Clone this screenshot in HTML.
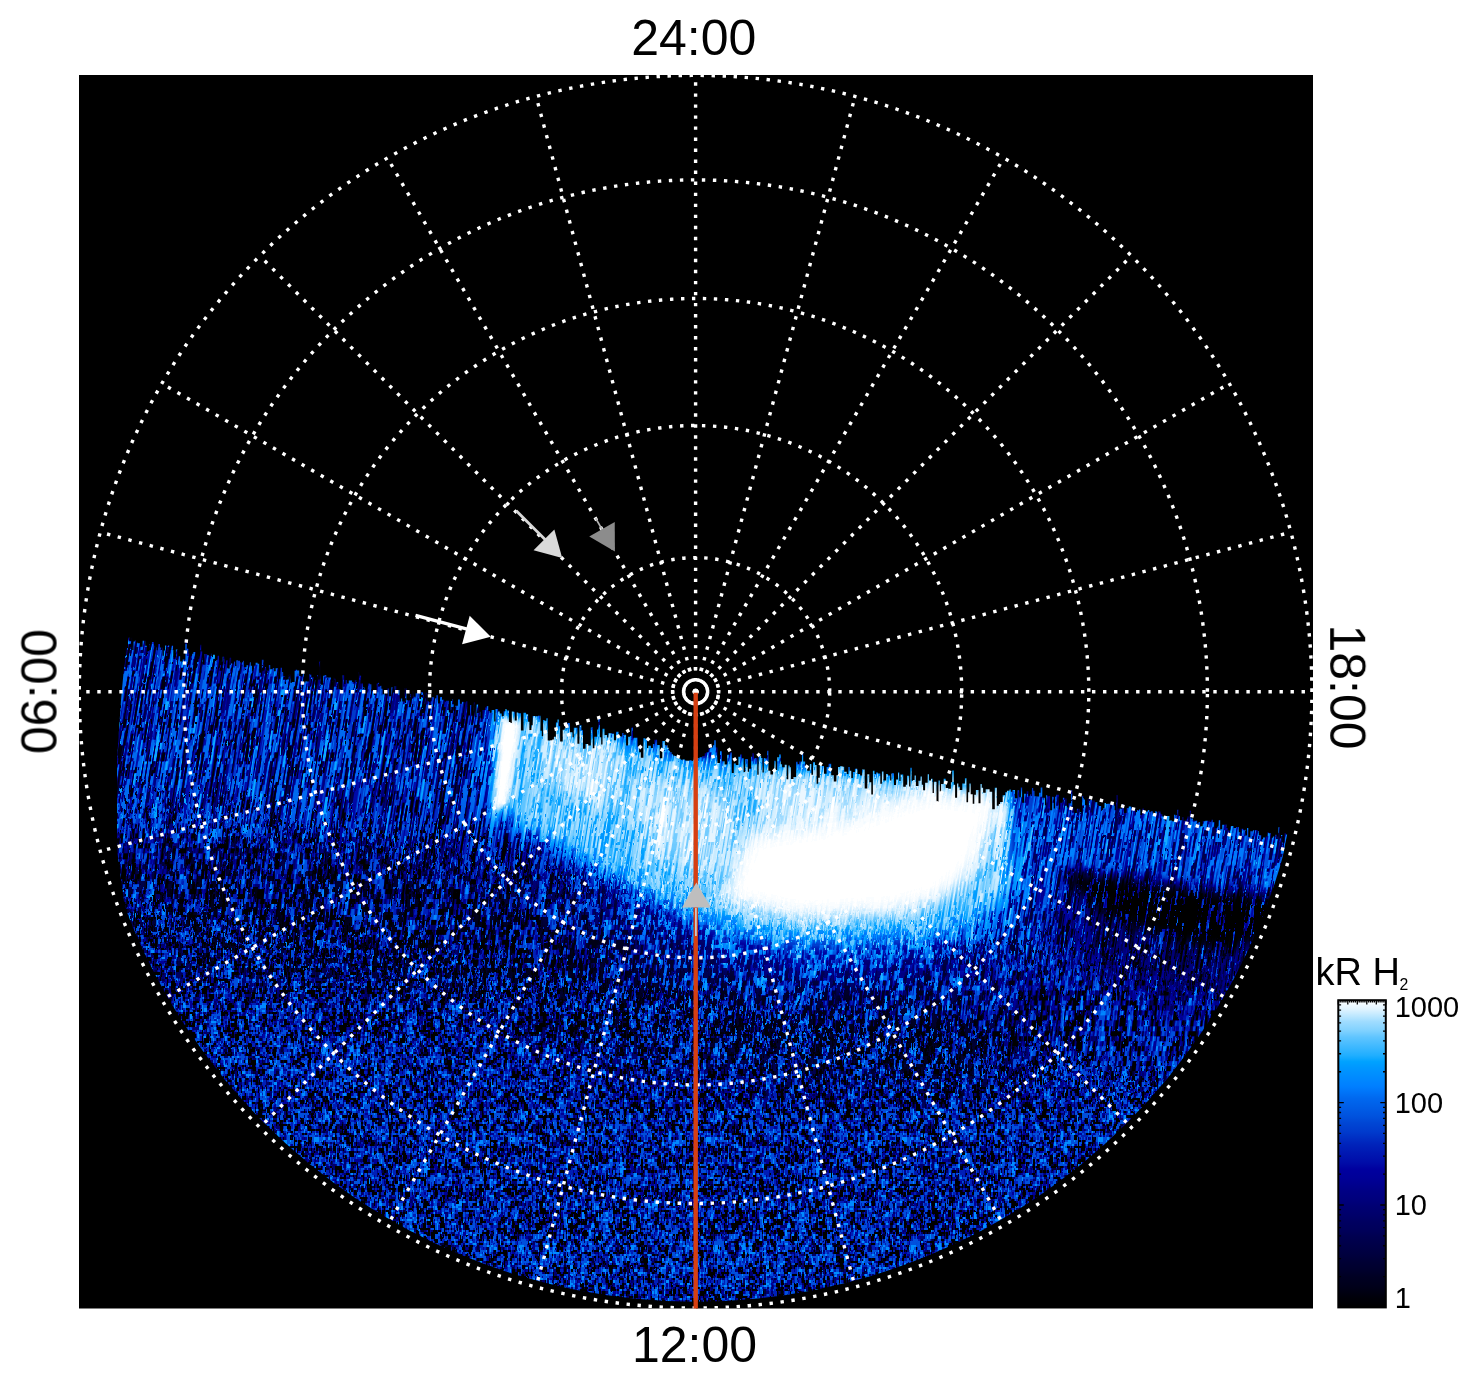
<!DOCTYPE html>
<html lang="en"><head><meta charset="utf-8"><title>Polar projection</title>
<style>html,body{margin:0;padding:0;background:#fff}svg{display:block}text{font-family:"Liberation Sans",Arial,Helvetica,sans-serif;fill:#000}</style>
</head><body>
<svg width="1480" height="1384" viewBox="0 0 1480 1384">
<defs>
<clipPath id="box"><rect x="79" y="75" width="1234" height="1233.5"/></clipPath>
<linearGradient id="cb" x1="0" y1="1" x2="0" y2="0"><stop offset="0" stop-color="rgb(0,0,0)"/><stop offset="0.03" stop-color="rgb(0,0,9)"/><stop offset="0.05" stop-color="rgb(0,0,18)"/><stop offset="0.07" stop-color="rgb(0,0,27)"/><stop offset="0.1" stop-color="rgb(0,0,35)"/><stop offset="0.12" stop-color="rgb(0,0,44)"/><stop offset="0.15" stop-color="rgb(0,0,53)"/><stop offset="0.17" stop-color="rgb(0,0,62)"/><stop offset="0.2" stop-color="rgb(0,0,71)"/><stop offset="0.23" stop-color="rgb(0,0,80)"/><stop offset="0.25" stop-color="rgb(0,0,89)"/><stop offset="0.28" stop-color="rgb(0,0,97)"/><stop offset="0.3" stop-color="rgb(0,0,106)"/><stop offset="0.33" stop-color="rgb(0,0,115)"/><stop offset="0.35" stop-color="rgb(0,0,124)"/><stop offset="0.38" stop-color="rgb(0,0,133)"/><stop offset="0.4" stop-color="rgb(0,0,142)"/><stop offset="0.42" stop-color="rgb(0,0,151)"/><stop offset="0.45" stop-color="rgb(0,0,159)"/><stop offset="0.47" stop-color="rgb(0,12,168)"/><stop offset="0.5" stop-color="rgb(0,23,177)"/><stop offset="0.53" stop-color="rgb(0,35,186)"/><stop offset="0.55" stop-color="rgb(0,46,195)"/><stop offset="0.57" stop-color="rgb(0,58,204)"/><stop offset="0.6" stop-color="rgb(0,70,212)"/><stop offset="0.62" stop-color="rgb(0,81,221)"/><stop offset="0.65" stop-color="rgb(0,93,230)"/><stop offset="0.68" stop-color="rgb(0,104,239)"/><stop offset="0.7" stop-color="rgb(0,116,248)"/><stop offset="0.72" stop-color="rgb(0,127,255)"/><stop offset="0.75" stop-color="rgb(0,139,255)"/><stop offset="0.78" stop-color="rgb(0,151,255)"/><stop offset="0.8" stop-color="rgb(0,162,255)"/><stop offset="0.82" stop-color="rgb(32,174,255)"/><stop offset="0.85" stop-color="rgb(64,185,255)"/><stop offset="0.88" stop-color="rgb(96,197,255)"/><stop offset="0.9" stop-color="rgb(127,209,255)"/><stop offset="0.93" stop-color="rgb(159,220,255)"/><stop offset="0.95" stop-color="rgb(191,232,255)"/><stop offset="0.97" stop-color="rgb(223,243,255)"/><stop offset="1" stop-color="rgb(255,255,255)"/></linearGradient>

<clipPath id="disk"><circle cx="695.6" cy="691.7" r="610"/></clipPath>
<clipPath id="dclip"><path d="M126 647.95 L128 647.95 L128 637.41 L129.3 637.41 L129.3 640.3 L130.6 640.3 L130.6 637.65 L132.2 637.65 L132.2 649.99 L133.5 649.99 L133.5 641.61 L134.8 641.61 L134.8 640.81 L136.1 640.81 L136.1 642.56 L137.4 642.56 L137.4 643.23 L138.7 643.23 L138.7 643.19 L140 643.19 L140 646.81 L142.6 646.81 L142.6 640.74 L145.2 640.74 L145.2 645.65 L146.8 645.65 L146.8 651.37 L149.4 651.37 L149.4 644.47 L151.4 644.47 L151.4 641.91 L154 641.91 L154 645.79 L156.6 645.79 L156.6 650.36 L157.9 650.36 L157.9 644.11 L159.9 644.11 L159.9 647.39 L162.5 647.39 L162.5 655.82 L163.8 655.82 L163.8 650.39 L165.1 650.39 L165.1 645.39 L167.7 645.39 L167.7 645.53 L169.7 645.53 L169.7 650.03 L171.3 650.03 L171.3 645.74 L173.3 645.74 L173.3 657.37 L175.9 657.37 L175.9 649.43 L177.5 649.43 L177.5 656.2 L180.1 656.2 L180.1 661.39 L182.7 661.39 L182.7 659.48 L185.3 659.48 L185.3 639.49 L186.9 639.49 L186.9 648.71 L188.5 648.71 L188.5 653.39 L190.5 653.39 L190.5 655.74 L192.1 655.74 L192.1 653.74 L193.4 653.74 L193.4 652 L196 652 L196 654.43 L198.6 654.43 L198.6 655.81 L199.9 655.81 L199.9 644.79 L201.2 644.79 L201.2 651.5 L202.5 651.5 L202.5 664.56 L204.5 664.56 L204.5 654.11 L207.1 654.11 L207.1 655.14 L209.7 655.14 L209.7 653.54 L211.3 653.54 L211.3 656.03 L212.9 656.03 L212.9 654.82 L214.9 654.82 L214.9 661.02 L216.2 661.02 L216.2 659.91 L217.5 659.91 L217.5 655.68 L219.1 655.68 L219.1 660.46 L221.1 660.46 L221.1 664.8 L222.7 664.8 L222.7 656.65 L224.3 656.65 L224.3 664 L225.6 664 L225.6 660.14 L227.6 660.14 L227.6 668.56 L229.6 668.56 L229.6 657.66 L231.2 657.66 L231.2 663.39 L233.8 663.39 L233.8 661.17 L235.1 661.17 L235.1 666.02 L236.4 666.02 L236.4 660.22 L238 660.22 L238 660.65 L240 660.65 L240 662.43 L242.6 662.43 L242.6 660.8 L243.9 660.8 L243.9 667.08 L246.5 667.08 L246.5 665.18 L249.1 665.18 L249.1 662.26 L250.7 662.26 L250.7 665.76 L252 665.76 L252 669.26 L253.6 669.26 L253.6 665.48 L255.6 665.48 L255.6 662.85 L257.6 662.85 L257.6 663.7 L259.2 663.7 L259.2 672.64 L261.8 672.64 L261.8 659.72 L263.4 659.72 L263.4 664.55 L265 664.55 L265 667.02 L266.3 667.02 L266.3 670.67 L268.9 670.67 L268.9 664.88 L270.2 664.88 L270.2 669.37 L272.8 669.37 L272.8 668 L274.1 668 L274.1 671.31 L275.7 671.31 L275.7 668.17 L278.3 668.17 L278.3 678.75 L280.3 678.75 L280.3 667.72 L281.9 667.72 L281.9 672.31 L283.2 672.31 L283.2 676.22 L285.2 676.22 L285.2 679.78 L286.8 679.78 L286.8 679.5 L288.8 679.5 L288.8 674.06 L290.4 674.06 L290.4 682.81 L292 682.81 L292 681.96 L294.6 681.96 L294.6 669.64 L297.2 669.64 L297.2 670.57 L299.2 670.57 L299.2 676.02 L301.8 676.02 L301.8 672.58 L303.8 672.58 L303.8 682.59 L305.4 682.59 L305.4 681.22 L306.7 681.22 L306.7 681.47 L309.3 681.47 L309.3 674.21 L311.3 674.21 L311.3 677.26 L313.9 677.26 L313.9 680.07 L315.2 680.07 L315.2 685.21 L317.2 685.21 L317.2 675.1 L319.2 675.1 L319.2 661.8 L320.5 661.8 L320.5 684.71 L323.1 684.71 L323.1 675.67 L324.7 675.67 L324.7 674.88 L326.3 674.88 L326.3 677.57 L328.3 677.57 L328.3 677.45 L330.9 677.45 L330.9 685.59 L332.9 685.59 L332.9 677.46 L334.2 677.46 L334.2 678.86 L335.8 678.86 L335.8 682.15 L338.4 682.15 L338.4 689.25 L341 689.25 L341 690.17 L342.6 690.17 L342.6 675.33 L344.2 675.33 L344.2 684.11 L345.5 684.11 L345.5 680.04 L346.8 680.04 L346.8 683.58 L348.8 683.58 L348.8 680.54 L350.1 680.54 L350.1 680.43 L352.1 680.43 L352.1 681.98 L354.1 681.98 L354.1 679.88 L356.1 679.88 L356.1 682.06 L358.1 682.06 L358.1 672.13 L359.7 672.13 L359.7 675.8 L361.3 675.8 L361.3 683.17 L362.9 683.17 L362.9 687.44 L364.5 687.44 L364.5 689.81 L367.1 689.81 L367.1 683.59 L369.7 683.59 L369.7 684.25 L371.3 684.25 L371.3 690.64 L373.9 690.64 L373.9 695.1 L375.5 695.1 L375.5 692.74 L376.8 692.74 L376.8 683.15 L378.4 683.15 L378.4 682.7 L379.7 682.7 L379.7 685.85 L381.3 685.85 L381.3 688.76 L382.6 688.76 L382.6 694.37 L384.6 694.37 L384.6 691.07 L386.2 691.07 L386.2 688.18 L388.8 688.18 L388.8 696.34 L391.4 696.34 L391.4 687.24 L392.7 687.24 L392.7 692.52 L394.7 692.52 L394.7 686.32 L396.3 686.32 L396.3 693.82 L397.6 693.82 L397.6 690.11 L399.6 690.11 L399.6 701.44 L400.9 701.44 L400.9 698.38 L402.2 698.38 L402.2 701.43 L404.8 701.43 L404.8 688.21 L406.4 688.21 L406.4 700.17 L408.4 700.17 L408.4 700.41 L410.4 700.41 L410.4 693.97 L412 693.97 L412 690.66 L413.6 690.66 L413.6 696.77 L415.6 696.77 L415.6 693.16 L418.2 693.16 L418.2 692.16 L419.5 692.16 L419.5 698.98 L421.1 698.98 L421.1 691.97 L423.1 691.97 L423.1 693.55 L424.4 693.55 L424.4 692.14 L425.7 692.14 L425.7 692.86 L427.3 692.86 L427.3 701.24 L428.9 701.24 L428.9 701.97 L430.2 701.97 L430.2 698.51 L431.8 698.51 L431.8 697.25 L434.4 697.25 L434.4 698.36 L436.4 698.36 L436.4 695.18 L438 695.18 L438 703.3 L440 703.3 L440 696.94 L442 696.94 L442 699.79 L444.6 699.79 L444.6 700.89 L446.2 700.89 L446.2 700.73 L448.8 700.73 L448.8 712.56 L450.8 712.56 L450.8 701.02 L452.4 701.02 L452.4 699.16 L453.7 699.16 L453.7 710.86 L455.3 710.86 L455.3 705.74 L457.9 705.74 L457.9 699.53 L459.9 699.53 L459.9 703.69 L461.9 703.69 L461.9 701.8 L463.5 701.8 L463.5 702.33 L466.1 702.33 L466.1 701.32 L467.4 701.32 L467.4 715.56 L470 715.56 L470 705.11 L471.3 705.11 L471.3 715.79 L473.9 715.79 L473.9 702.43 L475.2 702.43 L475.2 716.98 L476.5 716.98 L476.5 704.48 L479.1 704.48 L479.1 711.66 L480.4 711.66 L480.4 718.48 L482.4 718.48 L482.4 710.01 L485 710.01 L485 707.54 L486.3 707.54 L486.3 706.36 L488.3 706.36 L488.3 710.93 L489.6 710.93 L489.6 712.71 L491.6 712.71 L491.6 710.1 L494.2 710.1 L494.2 721.53 L495.5 721.53 L495.5 709.01 L496.8 709.01 L496.8 708.91 L498.1 708.91 L498.1 711.44 L499.7 711.44 L499.7 713.53 L501.7 713.53 L501.7 716.17 L503.7 716.17 L503.7 711.23 L505.3 711.23 L505.3 709.33 L506.9 709.33 L506.9 710.53 L508.9 710.53 L508.9 722.04 L510.5 722.04 L510.5 723.07 L511.8 723.07 L511.8 711.5 L513.4 711.5 L513.4 711.68 L514.7 711.68 L514.7 720.48 L516.7 720.48 L516.7 712.43 L518.3 712.43 L518.3 713.2 L520.9 713.2 L520.9 730.51 L523.5 730.51 L523.5 712.74 L526.1 712.74 L526.1 714.31 L528.1 714.31 L528.1 721.72 L529.4 721.72 L529.4 730.04 L531.4 730.04 L531.4 725.17 L532.7 725.17 L532.7 716.06 L535.3 716.06 L535.3 716.34 L537.9 716.34 L537.9 715.81 L540.5 715.81 L540.5 730.67 L541.8 730.67 L541.8 736.18 L543.1 736.18 L543.1 720.01 L544.4 720.01 L544.4 720.66 L546.4 720.66 L546.4 718.35 L547.7 718.35 L547.7 740.54 L550.3 740.54 L550.3 740.31 L552.3 740.31 L552.3 739.62 L553.9 739.62 L553.9 736.72 L555.9 736.72 L555.9 722.44 L557.5 722.44 L557.5 719.51 L558.8 719.51 L558.8 726.29 L560.1 726.29 L560.1 741.58 L562.7 741.58 L562.7 729.7 L564.7 729.7 L564.7 728.33 L567.3 728.33 L567.3 722.92 L569.9 722.92 L569.9 732.3 L572.5 732.3 L572.5 737.22 L573.8 737.22 L573.8 727.83 L575.8 727.83 L575.8 727.63 L577.4 727.63 L577.4 743.63 L579.4 743.63 L579.4 725.2 L581.4 725.2 L581.4 730.18 L583 730.18 L583 748.86 L585.6 748.86 L585.6 744.04 L588.2 744.04 L588.2 745.52 L590.8 745.52 L590.8 727.4 L592.8 727.4 L592.8 748.18 L594.4 748.18 L594.4 736.64 L597 736.64 L597 729.56 L598.3 729.56 L598.3 716.94 L599.9 716.94 L599.9 737.19 L601.2 737.19 L601.2 744.53 L602.5 744.53 L602.5 728.83 L604.5 728.83 L604.5 734.91 L607.1 734.91 L607.1 737.6 L608.4 737.6 L608.4 733.22 L610 733.22 L610 733.18 L612 733.18 L612 733.39 L614 733.39 L614 740.35 L616 740.35 L616 731.77 L618.6 731.77 L618.6 737.32 L620.2 737.32 L620.2 736.38 L622.2 736.38 L622.2 733.05 L623.5 733.05 L623.5 734.83 L626.1 734.83 L626.1 745.53 L628.1 745.53 L628.1 736.64 L630.1 736.64 L630.1 735.94 L631.4 735.94 L631.4 727.29 L633 727.29 L633 737.8 L635 737.8 L635 737.65 L637.6 737.65 L637.6 746.83 L639.2 746.83 L639.2 752.24 L640.8 752.24 L640.8 757.81 L643.4 757.81 L643.4 738.15 L645.4 738.15 L645.4 739.32 L647 739.32 L647 747.99 L648.3 747.99 L648.3 745.74 L650.9 745.74 L650.9 748.05 L652.9 748.05 L652.9 744.05 L654.5 744.05 L654.5 739.67 L657.1 739.67 L657.1 744.91 L659.7 744.91 L659.7 758.29 L662.3 758.29 L662.3 741.09 L664.9 741.09 L664.9 745.25 L667.5 745.25 L667.5 747.8 L668.8 747.8 L668.8 750.8 L670.1 750.8 L670.1 752.27 L671.7 752.27 L671.7 754.37 L673 754.37 L673 755.44 L674.6 755.44 L674.6 756.02 L676.6 756.02 L676.6 758.08 L679.2 758.08 L679.2 758.7 L680.8 758.7 L680.8 759.66 L682.4 759.66 L682.4 759.45 L685 759.45 L685 760.47 L686.3 760.47 L686.3 760.82 L687.6 760.82 L687.6 760.69 L689.6 760.69 L689.6 760.22 L691.6 760.22 L691.6 760.88 L692.9 760.88 L692.9 759.74 L694.9 759.74 L694.9 759.56 L696.9 759.56 L696.9 758.24 L698.2 758.24 L698.2 758.26 L699.5 758.26 L699.5 757.16 L702.1 757.16 L702.1 756.13 L704.7 756.13 L704.7 753.14 L706.3 753.14 L706.3 751.92 L708.3 751.92 L708.3 748.53 L710.3 748.53 L710.3 747.38 L712.9 747.38 L712.9 745.21 L714.2 745.21 L714.2 740.27 L715.8 740.27 L715.8 747.62 L717.4 747.62 L717.4 762.88 L720 762.88 L720 751.16 L722 751.16 L722 761.18 L724.6 761.18 L724.6 764.42 L727.2 764.42 L727.2 754.82 L729.8 754.82 L729.8 752.59 L731.8 752.59 L731.8 772.96 L733.8 772.96 L733.8 763.61 L735.8 763.61 L735.8 764.88 L738.4 764.88 L738.4 756.78 L740.4 756.78 L740.4 754.52 L742 754.52 L742 758.36 L743.6 758.36 L743.6 771.94 L745.2 771.94 L745.2 759.02 L747.8 759.02 L747.8 771.66 L749.1 771.66 L749.1 768.67 L751.1 768.67 L751.1 756.73 L752.4 756.73 L752.4 753.18 L754 753.18 L754 758.43 L755.3 758.43 L755.3 757.95 L757.3 757.95 L757.3 774.72 L758.6 774.72 L758.6 755.69 L761.2 755.69 L761.2 758.1 L762.5 758.1 L762.5 772.41 L763.8 772.41 L763.8 758.1 L765.1 758.1 L765.1 758.5 L767.1 758.5 L767.1 750.8 L768.4 750.8 L768.4 770.64 L770.4 770.64 L770.4 774.43 L773 774.43 L773 770.24 L774.3 770.24 L774.3 760.7 L775.6 760.7 L775.6 770.03 L777.2 770.03 L777.2 757.37 L779.2 757.37 L779.2 754.58 L780.8 754.58 L780.8 764.18 L782.1 764.18 L782.1 767.27 L784.7 767.27 L784.7 764.77 L786.7 764.77 L786.7 779.37 L788.3 779.37 L788.3 765.57 L789.6 765.57 L789.6 767.32 L790.9 767.32 L790.9 779.01 L793.5 779.01 L793.5 776.98 L796.1 776.98 L796.1 761.77 L797.7 761.77 L797.7 764.3 L799.3 764.3 L799.3 761.43 L801.9 761.43 L801.9 752.07 L803.2 752.07 L803.2 761.57 L805.2 761.57 L805.2 766.99 L807.2 766.99 L807.2 770.78 L809.8 770.78 L809.8 763.96 L811.4 763.96 L811.4 774.83 L813 774.83 L813 762.35 L815 762.35 L815 765.1 L816.6 765.1 L816.6 783.69 L818.2 783.69 L818.2 777.72 L819.8 777.72 L819.8 764.72 L821.4 764.72 L821.4 765.9 L824 765.9 L824 773.84 L826.6 773.84 L826.6 766.89 L828.6 766.89 L828.6 763.64 L831.2 763.64 L831.2 775.22 L833.8 775.22 L833.8 781.6 L836.4 781.6 L836.4 775.26 L838 775.26 L838 767.07 L840 767.07 L840 766.26 L842.6 766.26 L842.6 766.7 L844.2 766.7 L844.2 771.7 L846.8 771.7 L846.8 773.93 L848.4 773.93 L848.4 766.9 L849.7 766.9 L849.7 770.69 L851.3 770.69 L851.3 777.95 L852.9 777.95 L852.9 772.06 L854.9 772.06 L854.9 768.65 L857.5 768.65 L857.5 773.99 L860.1 773.99 L860.1 775.55 L862.1 775.55 L862.1 769.58 L864.7 769.58 L864.7 788.49 L867.3 788.49 L867.3 774.32 L869.3 774.32 L869.3 782.26 L871.3 782.26 L871.3 794.52 L872.9 794.52 L872.9 770.67 L874.5 770.67 L874.5 773.94 L876.1 773.94 L876.1 772.43 L877.7 772.43 L877.7 773.49 L880.3 773.49 L880.3 783.67 L881.9 783.67 L881.9 771.43 L883.5 771.43 L883.5 780.44 L886.1 780.44 L886.1 773.92 L888.1 773.92 L888.1 775.61 L890.1 775.61 L890.1 780.43 L891.4 780.43 L891.4 773.22 L894 773.22 L894 784.91 L896 784.91 L896 779.46 L898 779.46 L898 772.48 L899.3 772.48 L899.3 780.91 L900.6 780.91 L900.6 774.43 L903.2 774.43 L903.2 786.68 L905.8 786.68 L905.8 784.68 L907.1 784.68 L907.1 775.63 L909.1 775.63 L909.1 786.4 L910.4 786.4 L910.4 767.81 L911.7 767.81 L911.7 780.68 L913 780.68 L913 780.08 L914.6 780.08 L914.6 775.45 L915.9 775.45 L915.9 785.93 L918.5 785.93 L918.5 780.87 L920.5 780.87 L920.5 776.55 L921.8 776.55 L921.8 784.64 L923.1 784.64 L923.1 790.16 L925.1 790.16 L925.1 782.68 L927.7 782.68 L927.7 774.14 L929 774.14 L929 780.5 L931 780.5 L931 778.85 L932.6 778.85 L932.6 792.97 L933.9 792.97 L933.9 781.76 L936.5 781.76 L936.5 802.02 L938.5 802.02 L938.5 780.41 L939.8 780.41 L939.8 791.48 L941.1 791.48 L941.1 783.92 L943.7 783.92 L943.7 778.81 L945.7 778.81 L945.7 788.12 L948.3 788.12 L948.3 788.65 L950.9 788.65 L950.9 782.22 L952.2 782.22 L952.2 770.5 L953.8 770.5 L953.8 784.73 L955.1 784.73 L955.1 797.65 L957.1 797.65 L957.1 783.4 L958.4 783.4 L958.4 786.82 L959.7 786.82 L959.7 790.08 L962.3 790.08 L962.3 783.42 L964.9 783.42 L964.9 778.2 L966.5 778.2 L966.5 802.28 L968.1 802.28 L968.1 792.22 L969.4 792.22 L969.4 783.4 L970.7 783.4 L970.7 794.22 L972.7 794.22 L972.7 803.79 L974.3 803.79 L974.3 794.66 L975.9 794.66 L975.9 789.92 L978.5 789.92 L978.5 803.25 L980.5 803.25 L980.5 784.12 L981.8 784.12 L981.8 787.7 L983.1 787.7 L983.1 792.71 L985.7 792.71 L985.7 789.27 L988.3 789.27 L988.3 789.29 L989.6 789.29 L989.6 791.83 L992.2 791.83 L992.2 809.13 L994.8 809.13 L994.8 787.66 L996.8 787.66 L996.8 805.86 L998.8 805.86 L998.8 804.03 L1000.1 804.03 L1000.1 801.92 L1002.7 801.92 L1002.7 795.2 L1005.3 795.2 L1005.3 792.15 L1006.9 792.15 L1006.9 790.84 L1009.5 790.84 L1009.5 789.42 L1010.8 789.42 L1010.8 791.63 L1012.4 791.63 L1012.4 790.05 L1015 790.05 L1015 798.26 L1017.6 798.26 L1017.6 790.36 L1019.2 790.36 L1019.2 797.26 L1020.8 797.26 L1020.8 787.55 L1022.1 787.55 L1022.1 802.63 L1024.1 802.63 L1024.1 793.67 L1026.7 793.67 L1026.7 791.3 L1028.3 791.3 L1028.3 795.78 L1030.3 795.78 L1030.3 794.23 L1031.9 794.23 L1031.9 788.09 L1033.2 788.09 L1033.2 790.74 L1034.5 790.74 L1034.5 796.3 L1037.1 796.3 L1037.1 796.6 L1039.1 796.6 L1039.1 792.76 L1040.7 792.76 L1040.7 787.5 L1042.3 787.5 L1042.3 797.7 L1044.9 797.7 L1044.9 805.29 L1046.2 805.29 L1046.2 795.28 L1047.5 795.28 L1047.5 795.98 L1050.1 795.98 L1050.1 810.29 L1052.1 810.29 L1052.1 796.82 L1053.7 796.82 L1053.7 808.43 L1055 808.43 L1055 796.27 L1056.3 796.27 L1056.3 794.77 L1058.9 794.77 L1058.9 809.6 L1060.2 809.6 L1060.2 802.85 L1062.8 802.85 L1062.8 797.73 L1064.8 797.73 L1064.8 798.52 L1066.8 798.52 L1066.8 807.41 L1068.4 807.41 L1068.4 803.23 L1071 803.23 L1071 790.34 L1072.3 790.34 L1072.3 808.12 L1074.3 808.12 L1074.3 812.97 L1076.9 812.97 L1076.9 808.82 L1079.5 808.82 L1079.5 812.33 L1082.1 812.33 L1082.1 796.09 L1083.7 796.09 L1083.7 799.38 L1085 799.38 L1085 805.31 L1087.6 805.31 L1087.6 798.78 L1090.2 798.78 L1090.2 799.88 L1092.2 799.88 L1092.2 800.4 L1094.8 800.4 L1094.8 802.31 L1097.4 802.31 L1097.4 805.01 L1098.7 805.01 L1098.7 806.03 L1101.3 806.03 L1101.3 809.92 L1102.9 809.92 L1102.9 808.29 L1104.5 808.29 L1104.5 803.02 L1106.1 803.02 L1106.1 803.92 L1107.4 803.92 L1107.4 803.86 L1110 803.86 L1110 803.31 L1112 803.31 L1112 804.16 L1114.6 804.16 L1114.6 810.24 L1116.2 810.24 L1116.2 794.94 L1117.8 794.94 L1117.8 808.49 L1120.4 808.49 L1120.4 808.67 L1122 808.67 L1122 804.46 L1124 804.46 L1124 813.12 L1126.6 813.12 L1126.6 808.09 L1128.6 808.09 L1128.6 806.54 L1131.2 806.54 L1131.2 807.83 L1133.8 807.83 L1133.8 808.9 L1135.4 808.9 L1135.4 812.12 L1137 812.12 L1137 810.05 L1139 810.05 L1139 809.41 L1140.3 809.41 L1140.3 815 L1142.3 815 L1142.3 808.61 L1143.6 808.61 L1143.6 811.46 L1146.2 811.46 L1146.2 811.44 L1147.8 811.44 L1147.8 809.89 L1149.4 809.89 L1149.4 811.91 L1150.7 811.91 L1150.7 811.17 L1152.7 811.17 L1152.7 813.74 L1155.3 813.74 L1155.3 811.23 L1156.6 811.23 L1156.6 812 L1158.6 812 L1158.6 811.24 L1160.6 811.24 L1160.6 813.95 L1162.2 813.95 L1162.2 816.45 L1164.8 816.45 L1164.8 820.85 L1166.1 820.85 L1166.1 816.01 L1167.4 816.01 L1167.4 815.97 L1169.4 815.97 L1169.4 820.49 L1172 820.49 L1172 821.36 L1174 821.36 L1174 814.72 L1175.3 814.72 L1175.3 815.5 L1177.3 815.5 L1177.3 809.78 L1178.6 809.78 L1178.6 816.04 L1179.9 816.04 L1179.9 820.2 L1182.5 820.2 L1182.5 817.17 L1183.8 817.17 L1183.8 820.85 L1185.8 820.85 L1185.8 819.48 L1187.1 819.48 L1187.1 816.5 L1189.7 816.5 L1189.7 810.69 L1191 810.69 L1191 818.61 L1193 818.61 L1193 819.97 L1194.6 819.97 L1194.6 820.71 L1197.2 820.71 L1197.2 823.2 L1198.5 823.2 L1198.5 822.01 L1200.1 822.01 L1200.1 826.25 L1202.7 826.25 L1202.7 821.37 L1205.3 821.37 L1205.3 820.67 L1206.9 820.67 L1206.9 820.81 L1209.5 820.81 L1209.5 821.81 L1211.1 821.81 L1211.1 819.73 L1212.7 819.73 L1212.7 822.27 L1214.7 822.27 L1214.7 828.08 L1217.3 828.08 L1217.3 826.52 L1218.6 826.52 L1218.6 820.2 L1220.2 820.2 L1220.2 829.37 L1222.2 829.37 L1222.2 824.86 L1224.8 824.86 L1224.8 824.45 L1226.4 824.45 L1226.4 827.93 L1227.7 827.93 L1227.7 830.53 L1230.3 830.53 L1230.3 826.31 L1231.6 826.31 L1231.6 825.96 L1233.6 825.96 L1233.6 827.89 L1236.2 827.89 L1236.2 826.95 L1238.8 826.95 L1238.8 832.27 L1240.8 832.27 L1240.8 828.73 L1243.4 828.73 L1243.4 829.63 L1245.4 829.63 L1245.4 835.62 L1247 835.62 L1247 827.93 L1248.3 827.93 L1248.3 837.1 L1250.3 837.1 L1250.3 831.18 L1252.9 831.18 L1252.9 830.26 L1255.5 830.26 L1255.5 830.11 L1257.5 830.11 L1257.5 831.32 L1258.8 831.32 L1258.8 835.31 L1261.4 835.31 L1261.4 839.34 L1263 839.34 L1263 837.58 L1265.6 837.58 L1265.6 836.55 L1267.6 836.55 L1267.6 832.05 L1268.9 832.05 L1268.9 833.35 L1270.9 833.35 L1270.9 837.73 L1272.9 837.73 L1272.9 836.5 L1275.5 836.5 L1275.5 834.74 L1277.1 834.74 L1277.1 836.45 L1278.4 836.45 L1278.4 827.32 L1279.7 827.32 L1279.7 838.57 L1281 838.57 L1281 835.12 L1282.3 835.12 L1282.3 842.84 L1284.3 842.84 L1284.3 833.25 L1285.9 833.25 L1285.9 834.55 L1287.2 834.55 L1285 845 L1277 896 L1264 935 L1246 975 L1300 1000 L1300 1320 L90 1320 L90 1020 L150 1000 L128 930 L117 850 L117 760 L121 700 L126 646Z"/></clipPath>
<filter id="bl3" x="-50%" y="-50%" width="200%" height="200%"><feGaussianBlur stdDeviation="3"/></filter>
<filter id="bl6" x="-50%" y="-50%" width="200%" height="200%"><feGaussianBlur stdDeviation="6"/></filter>
<filter id="bl10" x="-50%" y="-50%" width="200%" height="200%"><feGaussianBlur stdDeviation="10"/></filter>
<filter id="bl18" x="-50%" y="-50%" width="200%" height="200%"><feGaussianBlur stdDeviation="18"/></filter>
<filter id="bl40" x="-50%" y="-50%" width="200%" height="200%"><feGaussianBlur stdDeviation="40"/></filter>
<radialGradient id="limb" gradientUnits="userSpaceOnUse" cx="695.6" cy="691.7" r="616">
  <stop offset="0" stop-color="rgb(191,191,191)"/><stop offset="0.72" stop-color="rgb(190,190,190)"/>
  <stop offset="0.86" stop-color="rgb(190,190,190)"/><stop offset="1" stop-color="rgb(193,193,193)"/>
</radialGradient>
<linearGradient id="g1" gradientUnits="userSpaceOnUse" x1="695" y1="760" x2="645.5" y2="1055.8">
  <stop offset="0.34" stop-color="#fff"/><stop offset="0.58" stop-color="#000"/>
</linearGradient>
<linearGradient id="g1i" gradientUnits="userSpaceOnUse" x1="695" y1="760" x2="645.5" y2="1055.8">
  <stop offset="0.34" stop-color="#000"/><stop offset="0.58" stop-color="#fff"/>
</linearGradient>
<linearGradient id="g2" gradientUnits="userSpaceOnUse" x1="695" y1="760" x2="645.5" y2="1055.8">
  <stop offset="0.70" stop-color="#fff"/><stop offset="0.94" stop-color="#000"/>
</linearGradient>
<linearGradient id="g2i" gradientUnits="userSpaceOnUse" x1="695" y1="760" x2="645.5" y2="1055.8">
  <stop offset="0.70" stop-color="#000"/><stop offset="0.94" stop-color="#fff"/>
</linearGradient>
<filter id="dP" filterUnits="userSpaceOnUse" x="70" y="600" width="1260" height="720" color-interpolation-filters="sRGB">
  <feTurbulence type="fractalNoise" baseFrequency="0.45 0.15" numOctaves="1" seed="3" result="n"/>
  <feColorMatrix in="n" type="matrix" values="1 0 0 0 0  1 0 0 0 0  1 0 0 0 0  0 0 0 0 1" result="ng"/>
  <feComposite in="SourceGraphic" in2="ng" operator="arithmetic" k1="0" k2="1" k3="2.6" k4="-1.3" result="s"/>
  <feComponentTransfer in="s"><feFuncR type="discrete" tableValues="0 1"/><feFuncG type="discrete" tableValues="0 1"/><feFuncB type="discrete" tableValues="0 1"/></feComponentTransfer>
</filter>
<filter id="dN" filterUnits="userSpaceOnUse" x="70" y="600" width="1260" height="720" color-interpolation-filters="sRGB">
  <feTurbulence type="fractalNoise" baseFrequency="0.45 0.15" numOctaves="1" seed="3" result="n"/>
  <feColorMatrix in="n" type="matrix" values="1 0 0 0 0  1 0 0 0 0  1 0 0 0 0  0 0 0 0 1" result="ng"/>
  <feComposite in="SourceGraphic" in2="ng" operator="arithmetic" k1="0" k2="1" k3="2.6" k4="-1.3" result="s"/>
  <feComponentTransfer in="s"><feFuncR type="discrete" tableValues="1 0"/><feFuncG type="discrete" tableValues="1 0"/><feFuncB type="discrete" tableValues="1 0"/></feComponentTransfer>
</filter>
<mask id="mT1" maskUnits="userSpaceOnUse" x="70" y="600" width="1260" height="720"><rect x="70" y="600" width="1260" height="720" fill="url(#g1)" filter="url(#dP)"/></mask>
<mask id="mN1" maskUnits="userSpaceOnUse" x="70" y="600" width="1260" height="720"><rect x="70" y="600" width="1260" height="720" fill="url(#g1)" filter="url(#dN)"/></mask>
<mask id="mT2" maskUnits="userSpaceOnUse" x="70" y="600" width="1260" height="720"><rect x="70" y="600" width="1260" height="720" fill="url(#g2)" filter="url(#dP)"/></mask>
<mask id="mN2" maskUnits="userSpaceOnUse" x="70" y="600" width="1260" height="720"><rect x="70" y="600" width="1260" height="720" fill="url(#g2)" filter="url(#dN)"/></mask>
<mask id="nstr" maskUnits="userSpaceOnUse" x="70" y="600" width="1260" height="720"><rect x="70" y="600" width="1260" height="720" fill="#fff"/><path d="M90 600 L520 685 L502 812 L90 830Z" fill="rgb(242,242,242)" filter="url(#bl18)"/><path d="M1005 762 L1300 822 L1300 896 L1005 868Z" fill="rgb(191,191,191)" filter="url(#bl6)"/><ellipse cx="830" cy="885" rx="250" ry="105" fill="rgb(178,178,178)" filter="url(#bl40)"/><path d="M1066 871 L1130 880 L1195 889 L1285 899 L1272 936 L1225 950 L1160 936 L1110 916 L1080 896Z" fill="rgb(255,255,255)" filter="url(#bl6)"/><path d="M700 850 L1003 815 L1000 880 L968 932 L900 957 L800 962 L712 942 L676 905Z" fill="rgb(102,102,102)" filter="url(#bl18)"/><path d="M490 698 L700 752 L1014 775 L1017 880 L992 916 L940 936 L800 941 L724 928 L678 912 L635 893 L579 863 L505 825 L489 812Z" fill="rgb(51,51,51)" filter="url(#bl10)"/><path d="M760 770 L1000 795 L1000 812 L760 835Z" fill="rgb(20,20,20)" filter="url(#bl10)"/><path d="M535 728 L625 748 L615 815 L545 790Z" fill="rgb(31,31,31)" filter="url(#bl10)"/><path d="M630 775 L745 790 L720 880 L650 860Z" fill="rgb(31,31,31)" filter="url(#bl10)"/><path d="M746 830 L846 815 L925 788 L1005 796 L993 836 L975 878 L942 903 L897 917 L797 922 L717 903 L730 865Z" fill="rgb(0,0,0)" filter="url(#bl10)"/><path d="M500 716 L522 720 L509 806 L491 812Z" fill="rgb(0,0,0)" filter="url(#bl3)"/></mask>
<g id="ntF" transform="scale(1.4 2.2)" stroke="#000" stroke-width="1" fill="none" shape-rendering="crispEdges"><path stroke-opacity="1" d="M0.5 0v1M0.5 2v1M0.5 5v1M0.5 13v1M0.5 30v1M0.5 37v2M0.5 40v1M0.5 53v4M0.5 58v1M0.5 60v1M0.5 62v1M0.5 72v1M0.5 79v2M0.5 85v1M0.5 88v1M1.5 0v2M1.5 5v1M1.5 9v1M1.5 13v1M1.5 15v1M1.5 23v1M1.5 29v2M1.5 32v1M1.5 34v2M1.5 38v1M1.5 41v1M1.5 44v1M1.5 46v1M1.5 54v1M1.5 56v1M1.5 60v1M1.5 66v1M1.5 73v1M1.5 75v3M1.5 87v2M2.5 0v1M2.5 7v3M2.5 12v2M2.5 15v1M2.5 23v1M2.5 32v1M2.5 37v2M2.5 44v1M2.5 46v1M2.5 56v1M2.5 64v1M2.5 73v1M2.5 75v4M2.5 85v3M3.5 12v1M3.5 23v1M3.5 28v1M3.5 36v2M3.5 44v1M3.5 51v1M3.5 57v1M3.5 61v2M3.5 64v1M3.5 66v1M3.5 73v1M3.5 76v3M3.5 82v1M3.5 87v1M4.5 0v2M4.5 14v2M4.5 18v2M4.5 21v5M4.5 28v1M4.5 31v1M4.5 34v4M4.5 47v1M4.5 57v2M4.5 61v1M4.5 67v4M4.5 72v1M4.5 83v1M4.5 89v1M5.5 0v2M5.5 14v4M5.5 24v1M5.5 28v1M5.5 31v1M5.5 36v1M5.5 42v1M5.5 52v2M5.5 59v1M5.5 61v1M5.5 68v1M5.5 73v3M5.5 77v2M5.5 81v1M5.5 85v1M5.5 89v1M6.5 0v2M6.5 4v2M6.5 11v2M6.5 16v2M6.5 22v2M6.5 28v1M6.5 39v1M6.5 50v2M6.5 55v1M6.5 59v2M6.5 68v2M6.5 75v1M6.5 78v2M6.5 84v2M6.5 88v2M7.5 0v3M7.5 4v1M7.5 12v1M7.5 22v2M7.5 27v2M7.5 31v1M7.5 35v2M7.5 39v1M7.5 43v3M7.5 50v2M7.5 55v1M7.5 60v1M7.5 63v2M7.5 67v1M7.5 74v1M7.5 84v1M7.5 88v2M8.5 4v1M8.5 7v1M8.5 11v1M8.5 20v4M8.5 34v2M8.5 39v1M8.5 43v2M8.5 46v3M8.5 53v1M8.5 60v1M8.5 63v2M8.5 69v1M8.5 71v1M8.5 73v5M8.5 85v2M8.5 88v1M9.5 0v1M9.5 2v1M9.5 4v1M9.5 6v1M9.5 9v1M9.5 26v2M9.5 31v1M9.5 34v1M9.5 43v2M9.5 46v1M9.5 48v3M9.5 53v2M9.5 60v1M9.5 62v1M9.5 67v3M9.5 74v4M9.5 80v1M10.5 2v3M10.5 9v3M10.5 20v1M10.5 22v2M10.5 27v2M10.5 38v2M10.5 47v2M10.5 54v1M10.5 56v1M10.5 62v1M10.5 70v1M10.5 75v2M10.5 84v4M11.5 0v1M11.5 2v2M11.5 25v1M11.5 28v2M11.5 33v1M11.5 39v1M11.5 47v2M11.5 55v1M11.5 57v1M11.5 70v2M11.5 78v1M11.5 87v1M12.5 2v2M12.5 7v1M12.5 9v1M12.5 25v2M12.5 34v1M12.5 65v1M12.5 71v1M12.5 77v2M12.5 87v1M12.5 89v1M13.5 9v1M13.5 24v1M13.5 39v4M13.5 51v1M13.5 54v3M13.5 58v1M13.5 63v3M13.5 68v4M13.5 75v3M13.5 84v3M14.5 8v1M14.5 29v1M14.5 34v2M14.5 42v4M14.5 49v1M14.5 54v2M14.5 61v1M14.5 64v2M14.5 69v1M14.5 76v1M14.5 84v2M15.5 8v1M15.5 16v2M15.5 22v1M15.5 35v3M15.5 43v2M15.5 50v1M15.5 57v1M15.5 59v1M15.5 65v2M15.5 72v1M15.5 81v1M15.5 85v1M16.5 3v1M16.5 17v1M16.5 30v3M16.5 35v4M16.5 42v2M16.5 50v3M16.5 57v2M16.5 64v1M16.5 66v2M16.5 71v1M16.5 85v1M16.5 88v1M17.5 2v1M17.5 6v1M17.5 17v1M17.5 19v3M17.5 31v1M17.5 34v3M17.5 41v1M17.5 45v2M17.5 50v1M17.5 55v1M17.5 66v1M17.5 81v2M17.5 85v1M17.5 89v1M18.5 8v4M18.5 13v1M18.5 15v1M18.5 19v3M18.5 29v1M18.5 35v1M18.5 45v2M18.5 50v1M18.5 60v1M18.5 68v1M18.5 71v1M18.5 73v2M18.5 77v1M18.5 80v1M18.5 85v1M19.5 10v2M19.5 17v2M19.5 29v1M19.5 35v1M19.5 39v1M19.5 46v1M19.5 49v2M19.5 79v1M19.5 83v1M19.5 85v1M20.5 9v3M20.5 18v1M20.5 23v2M20.5 29v1M20.5 35v2M20.5 50v2M20.5 54v1M20.5 73v1M20.5 77v1M20.5 85v1M21.5 4v1M21.5 6v1M21.5 10v1M21.5 18v1M21.5 28v1M21.5 39v1M21.5 46v1M21.5 49v3M21.5 55v1M21.5 58v1M21.5 85v2M22.5 8v1M22.5 10v2M22.5 16v3M22.5 25v1M22.5 29v1M22.5 38v3M22.5 42v1M22.5 55v1M22.5 58v1M22.5 70v1M22.5 83v1M22.5 85v2M23.5 5v4M23.5 14v1M23.5 16v3M23.5 20v1M23.5 22v1M23.5 26v2M23.5 29v1M23.5 36v3M23.5 41v1M23.5 44v2M23.5 48v1M23.5 53v1M23.5 86v3M24.5 6v3M24.5 10v3M24.5 18v1M24.5 20v1M24.5 27v1M24.5 29v1M24.5 41v1M24.5 43v3M24.5 47v2M24.5 59v2M24.5 64v1M24.5 68v1M24.5 71v2M24.5 74v2M25.5 1v1M25.5 6v2M25.5 10v2M25.5 13v1M25.5 15v2M25.5 18v1M25.5 21v1M25.5 23v1M25.5 28v2M25.5 33v1M25.5 37v1M25.5 43v6M25.5 51v3M25.5 59v1M25.5 68v2M25.5 75v3M26.5 1v1M26.5 7v1M26.5 10v2M26.5 13v1M26.5 15v2M26.5 18v4M26.5 25v1M26.5 34v1M26.5 36v2M26.5 54v7M26.5 82v3M26.5 88v1M27.5 1v1M27.5 4v2M27.5 10v1M27.5 13v1M27.5 15v2M27.5 25v1M27.5 31v1M27.5 47v2M27.5 53v2M27.5 60v1M27.5 66v1M27.5 69v1M27.5 74v1M27.5 77v2M27.5 80v1M27.5 82v1M28.5 0v1M28.5 3v2M28.5 10v1M28.5 12v6M28.5 20v3M28.5 33v3M28.5 40v3M28.5 47v1M28.5 71v3M28.5 77v4M28.5 82v1M29.5 0v1M29.5 12v1M29.5 17v1M29.5 19v4M29.5 25v2M29.5 33v1M29.5 37v2M29.5 42v1M29.5 44v2M29.5 47v1M29.5 49v2M29.5 54v2M29.5 64v1M29.5 66v2M29.5 69v3M29.5 78v1M29.5 80v1M29.5 82v1M29.5 89v1M30.5 0v1M30.5 4v1M30.5 17v7M30.5 35v1M30.5 44v2M30.5 49v1M30.5 53v3M30.5 72v1M30.5 78v1M30.5 88v2M31.5 0v4M31.5 12v1M31.5 19v2M31.5 23v2M31.5 35v2M31.5 40v2M31.5 49v1M31.5 52v1M31.5 55v1M31.5 60v2M31.5 66v2M31.5 70v1M31.5 74v1M31.5 77v2M31.5 88v1M32.5 2v1M32.5 12v1M32.5 20v1M32.5 23v2M32.5 37v1M32.5 43v1M32.5 46v1M32.5 51v5M32.5 57v1M32.5 63v2M32.5 70v1M32.5 74v1M32.5 82v1M33.5 0v1M33.5 8v2M33.5 12v1M33.5 19v1M33.5 34v1M33.5 48v2M33.5 51v2M33.5 61v2M33.5 66v1M33.5 70v1M33.5 74v2M33.5 78v3M33.5 89v1M34.5 0v2M34.5 4v2M34.5 8v1M34.5 12v3M34.5 16v2M34.5 19v1M34.5 21v2M34.5 32v1M34.5 39v1M34.5 48v2M34.5 52v2M34.5 59v1M34.5 65v3M34.5 71v1M34.5 75v1M34.5 78v1M35.5 1v1M35.5 4v5M35.5 12v6M35.5 22v2M35.5 34v1M35.5 42v1M35.5 47v3M35.5 51v4M35.5 59v1M35.5 75v2M35.5 88v1M36.5 1v1M36.5 3v4M36.5 13v1M36.5 15v3M36.5 26v1M36.5 28v2M36.5 36v1M36.5 40v1M36.5 44v1M36.5 52v3M36.5 68v1M36.5 72v1M36.5 75v1M36.5 87v2M37.5 0v2M37.5 3v2M37.5 6v1M37.5 17v4M37.5 24v3M37.5 29v1M37.5 31v2M37.5 35v1M37.5 43v2M37.5 54v2M37.5 64v1M37.5 67v2M37.5 72v2M37.5 83v1M38.5 8v1M38.5 20v2M38.5 24v2M38.5 27v3M38.5 31v1M38.5 33v1M38.5 35v1M38.5 53v3M38.5 60v1M38.5 77v5M38.5 83v1M39.5 3v2M39.5 8v1M39.5 24v2M39.5 27v1M39.5 31v3M39.5 35v1M39.5 40v3M39.5 48v1M39.5 63v1M39.5 82v1M40.5 1v3M40.5 18v1M40.5 21v2M40.5 26v2M40.5 32v4M40.5 45v2M40.5 48v2M40.5 51v1M40.5 72v1M40.5 80v1M41.5 1v3M41.5 15v1M41.5 21v2M41.5 26v2M41.5 32v5M41.5 41v1M41.5 45v2M41.5 51v1M41.5 57v1M41.5 72v1M41.5 77v1M41.5 79v2M42.5 0v1M42.5 9v1M42.5 11v1M42.5 14v1M42.5 18v1M42.5 32v2M42.5 35v2M42.5 41v1M42.5 47v1M42.5 53v1M42.5 55v1M42.5 58v1M42.5 61v1M42.5 69v1M42.5 72v1M42.5 79v1M42.5 81v1M42.5 89v1M43.5 1v1M43.5 14v1M43.5 21v1M43.5 24v1M43.5 28v1M43.5 39v4M43.5 57v2M43.5 60v2M43.5 72v1M43.5 82v1M43.5 87v1M44.5 3v1M44.5 27v2M44.5 36v2M44.5 44v3M44.5 51v3M44.5 55v3M44.5 60v2M44.5 68v1M44.5 71v2M44.5 87v1M45.5 13v1M45.5 36v2M45.5 41v2M45.5 49v9M45.5 63v1M45.5 69v1M45.5 71v2M45.5 82v1M45.5 89v1M46.5 0v1M46.5 3v3M46.5 13v1M46.5 30v1M46.5 34v1M46.5 38v1M46.5 50v1M46.5 52v1M46.5 54v4M46.5 62v1M46.5 65v3M46.5 74v1M46.5 82v1M46.5 84v1M46.5 89v1M47.5 2v3M47.5 11v1M47.5 15v1M47.5 24v2M47.5 30v1M47.5 36v2M47.5 44v2M47.5 52v3M47.5 57v2M47.5 63v1M47.5 67v1M47.5 84v1M47.5 86v2M48.5 1v1M48.5 11v2M48.5 15v2M48.5 24v1M48.5 33v1M48.5 36v2M48.5 54v1M48.5 57v1M48.5 63v2M48.5 67v1M48.5 69v1M48.5 73v2M48.5 82v1M49.5 0v3M49.5 11v4M49.5 24v1M49.5 30v1M49.5 33v1M49.5 54v1M49.5 63v1M49.5 68v2M49.5 73v1M49.5 77v3M49.5 85v1M49.5 88v2M50.5 0v1M50.5 7v2M50.5 11v1M50.5 13v3M50.5 23v1M50.5 26v2M50.5 33v1M50.5 40v1M50.5 44v1M50.5 57v1M50.5 60v1M50.5 69v3M50.5 75v5M51.5 4v1M51.5 16v1M51.5 26v2M51.5 33v1M51.5 38v3M51.5 47v1M51.5 53v3M51.5 62v2M51.5 68v1M51.5 70v2M51.5 75v4M51.5 80v1M52.5 3v2M52.5 8v1M52.5 10v1M52.5 16v3M52.5 28v1M52.5 31v1M52.5 33v2M52.5 47v1M52.5 53v4M52.5 63v1M52.5 67v2M52.5 80v1M53.5 8v1M53.5 17v2M53.5 23v2M53.5 26v1M53.5 30v2M53.5 34v1M53.5 39v2M53.5 44v2M53.5 51v3M53.5 63v1M53.5 79v2M53.5 85v1M53.5 88v1M54.5 10v1M54.5 13v2M54.5 18v1M54.5 28v1M54.5 31v1M54.5 51v1M54.5 61v2M54.5 66v1M54.5 71v2M54.5 75v2M54.5 80v2M54.5 84v2M55.5 2v1M55.5 4v2M55.5 10v3M55.5 19v1M55.5 27v3M55.5 57v1M55.5 59v1M55.5 62v3M55.5 66v1M55.5 68v1M55.5 75v1M55.5 77v4M55.5 85v1M56.5 2v4M56.5 10v1M56.5 12v1M56.5 16v1M56.5 22v1M56.5 26v5M56.5 40v1M56.5 48v1M56.5 56v2M56.5 59v1M56.5 66v1M56.5 74v2M56.5 85v3M57.5 1v1M57.5 3v1M57.5 8v1M57.5 10v1M57.5 26v1M57.5 34v1M57.5 40v1M57.5 48v2M57.5 56v2M57.5 60v2M57.5 70v1M57.5 80v3M57.5 86v1M58.5 7v1M58.5 12v1M58.5 19v1M58.5 30v2M58.5 47v1M58.5 60v1M58.5 73v2M58.5 76v2M58.5 80v1M59.5 2v1M59.5 4v2M59.5 7v1M59.5 44v1M59.5 46v3M59.5 53v1M59.5 58v1M59.5 61v1M59.5 76v2M60.5 0v2M60.5 4v2M60.5 7v1M60.5 44v1M60.5 53v1M60.5 59v5M60.5 67v1M60.5 75v1M61.5 0v1M61.5 3v1M61.5 16v1M61.5 21v1M61.5 32v1M61.5 41v1M61.5 46v3M61.5 59v1M61.5 61v4M61.5 75v3M62.5 0v4M62.5 6v1M62.5 16v1M62.5 23v1M62.5 25v1M62.5 28v1M62.5 34v1M62.5 45v3M62.5 54v1M62.5 61v1M62.5 67v1M62.5 71v1M62.5 88v1M63.5 0v2M63.5 6v2M63.5 13v3M63.5 21v3M63.5 25v1M63.5 32v1M63.5 40v1M63.5 44v1M63.5 52v3M63.5 58v2M63.5 61v1M63.5 71v1M63.5 78v5M63.5 88v2M64.5 0v2M64.5 5v3M64.5 13v3M64.5 20v2M64.5 25v1M64.5 32v1M64.5 40v1M64.5 44v1M64.5 46v1M64.5 48v1M64.5 52v6M64.5 61v1M64.5 73v1M64.5 76v1M64.5 82v2M65.5 0v2M65.5 3v1M65.5 10v2M65.5 15v1M65.5 20v1M65.5 23v1M65.5 46v3M65.5 53v2M65.5 57v1M65.5 62v1M65.5 72v1M65.5 76v2M65.5 79v2M66.5 0v1M66.5 15v1M66.5 18v1M66.5 20v1M66.5 38v1M66.5 41v1M66.5 45v1M66.5 48v2M66.5 57v1M66.5 61v2M66.5 75v2M66.5 79v2M66.5 82v1M66.5 84v4M67.5 18v1M67.5 20v2M67.5 30v1M67.5 33v3M67.5 45v1M67.5 49v1M67.5 57v1M67.5 59v1M67.5 62v1M67.5 66v2M67.5 71v5M67.5 80v1M67.5 84v3M67.5 89v1M68.5 0v1M68.5 10v1M68.5 19v4M68.5 30v1M68.5 33v1M68.5 41v2M68.5 45v2M68.5 59v1M68.5 64v1M68.5 66v2M68.5 71v1M68.5 81v1M68.5 88v2M69.5 7v2M69.5 22v2M69.5 32v2M69.5 43v5M69.5 71v1M69.5 79v1M69.5 85v1M70.5 6v2M70.5 12v1M70.5 16v1M70.5 30v1M70.5 33v1M70.5 42v2M70.5 45v3M70.5 51v3M70.5 56v1M70.5 63v1M70.5 67v7M70.5 77v2M70.5 83v1M71.5 0v1M71.5 9v1M71.5 18v2M71.5 22v1M71.5 32v1M71.5 40v3M71.5 48v1M71.5 52v2M71.5 56v1M71.5 62v2M71.5 68v1M71.5 71v1M71.5 77v2M71.5 80v1M71.5 83v1M72.5 0v1M72.5 20v1M72.5 31v2M72.5 34v2M72.5 38v1M72.5 40v1M72.5 48v1M72.5 53v1M72.5 56v2M72.5 61v3M72.5 71v3M72.5 76v2M72.5 83v1M72.5 89v1M73.5 2v2M73.5 8v2M73.5 28v1M73.5 31v1M73.5 34v1M73.5 38v1M73.5 48v1M73.5 53v1M73.5 61v1M73.5 68v5M73.5 76v2M73.5 81v1M74.5 4v1M74.5 8v1M74.5 23v1M74.5 30v2M74.5 38v1M74.5 41v2M74.5 44v1M74.5 50v2M74.5 68v1M74.5 70v3M74.5 76v2M74.5 80v2M74.5 88v1M75.5 9v2M75.5 18v1M75.5 22v3M75.5 30v1M75.5 33v1M75.5 46v1M75.5 50v2M75.5 58v3M75.5 74v1M75.5 79v1M75.5 81v3M75.5 85v1M75.5 88v2M76.5 5v1M76.5 16v1M76.5 18v2M76.5 26v2M76.5 29v2M76.5 33v2M76.5 39v1M76.5 43v2M76.5 50v2M76.5 59v2M76.5 65v1M76.5 73v3M76.5 79v1M76.5 81v5M76.5 88v1M77.5 3v1M77.5 15v2M77.5 18v1M77.5 27v3M77.5 33v1M77.5 37v1M77.5 55v1M77.5 70v1M77.5 72v1M77.5 79v1M77.5 85v4M78.5 3v1M78.5 13v2M78.5 18v1M78.5 20v1M78.5 25v1M78.5 29v1M78.5 37v1M78.5 45v1M78.5 50v2M78.5 61v1M78.5 65v1M78.5 69v1M78.5 72v1M78.5 75v1M78.5 79v1M79.5 0v2M79.5 14v2M79.5 18v1M79.5 28v2M79.5 49v2M79.5 61v1M79.5 72v1M79.5 80v1M79.5 85v2M80.5 0v2M80.5 14v2M80.5 17v5M80.5 23v1M80.5 28v3M80.5 32v4M80.5 47v2M80.5 51v2M80.5 55v1M80.5 61v3M80.5 67v1M80.5 69v2M80.5 78v1M80.5 85v4M81.5 0v2M81.5 13v1M81.5 19v2M81.5 26v1M81.5 28v5M81.5 41v1M81.5 45v1M81.5 47v2M81.5 55v1M81.5 59v2M81.5 62v2M81.5 68v1M81.5 78v1M81.5 80v1M82.5 0v3M82.5 21v1M82.5 26v1M82.5 31v1M82.5 47v3M82.5 56v2M82.5 60v1M82.5 63v2M82.5 67v1M82.5 72v1M82.5 74v1M82.5 77v1M82.5 80v1M82.5 83v1M82.5 89v1M83.5 0v3M83.5 8v1M83.5 11v2M83.5 16v1M83.5 21v1M83.5 28v1M83.5 42v1M83.5 46v2M83.5 50v2M83.5 54v1M83.5 56v5M83.5 63v1M83.5 74v2M83.5 83v1M83.5 88v1M84.5 0v3M84.5 8v3M84.5 23v1M84.5 25v1M84.5 28v1M84.5 32v1M84.5 45v2M84.5 54v2M84.5 60v1M84.5 63v1M84.5 72v2M84.5 83v1M84.5 87v2M85.5 3v1M85.5 6v3M85.5 22v1M85.5 25v1M85.5 31v2M85.5 39v1M85.5 44v1M85.5 46v1M85.5 52v3M85.5 57v1M85.5 60v1M85.5 70v1M85.5 88v1M86.5 0v1M86.5 2v2M86.5 6v1M86.5 8v1M86.5 14v4M86.5 22v1M86.5 30v2M86.5 37v3M86.5 45v2M86.5 51v1M86.5 53v2M86.5 63v1M86.5 70v3M86.5 79v3M86.5 86v1M86.5 88v1M87.5 0v1M87.5 16v1M87.5 20v3M87.5 26v1M87.5 28v1M87.5 37v3M87.5 50v1M87.5 53v1M87.5 60v1M87.5 63v1M87.5 71v1M87.5 76v1M87.5 81v1M87.5 86v1M87.5 89v1M88.5 0v3M88.5 6v2M88.5 17v4M88.5 22v2M88.5 26v1M88.5 38v3M88.5 44v1M88.5 47v1M88.5 50v2M88.5 53v2M88.5 61v1M88.5 63v3M88.5 71v1M88.5 74v1M88.5 81v1M88.5 86v1M88.5 89v1M89.5 2v1M89.5 6v2M89.5 14v2M89.5 17v3M89.5 36v4M89.5 46v3M89.5 51v5M89.5 72v2M89.5 80v2M90.5 1v2M90.5 6v1M90.5 14v7M90.5 22v1M90.5 37v3M90.5 42v1M90.5 46v1M90.5 48v1M90.5 51v2M90.5 71v1M90.5 73v2M90.5 84v1M90.5 88v1M91.5 1v1M91.5 10v2M91.5 14v2M91.5 19v2M91.5 32v1M91.5 37v1M91.5 49v2M91.5 61v2M91.5 73v3M91.5 78v2M91.5 84v1M91.5 86v1M91.5 88v1M92.5 0v2M92.5 6v1M92.5 11v1M92.5 13v3M92.5 19v2M92.5 40v1M92.5 48v1M92.5 50v2M92.5 60v2M92.5 63v1M92.5 69v2M92.5 84v1M92.5 88v1M93.5 3v3M93.5 10v2M93.5 14v1M93.5 20v1M93.5 35v2M93.5 39v2M93.5 44v2M93.5 48v3M93.5 60v1M93.5 70v1M93.5 72v1M93.5 74v1M93.5 76v1M93.5 84v1M93.5 88v1M94.5 0v1M94.5 3v1M94.5 14v1M94.5 19v1M94.5 27v1M94.5 35v2M94.5 40v1M94.5 50v5M94.5 72v3M94.5 87v2M95.5 0v2M95.5 3v1M95.5 11v1M95.5 15v1M95.5 19v1M95.5 21v1M95.5 38v1M95.5 40v1M95.5 51v4M95.5 62v2M95.5 72v1M95.5 77v1M95.5 87v2M96.5 3v1M96.5 12v2M96.5 38v3M96.5 49v1M96.5 52v3M96.5 61v2M96.5 80v1M96.5 88v1M97.5 1v1M97.5 8v1M97.5 10v1M97.5 12v1M97.5 14v1M97.5 16v2M97.5 25v1M97.5 36v3M97.5 40v1M97.5 55v7M97.5 67v1M97.5 81v2M98.5 1v2M98.5 8v1M98.5 10v3M98.5 14v2M98.5 19v1M98.5 26v2M98.5 32v1M98.5 38v1M98.5 47v1M98.5 55v2M98.5 58v2M98.5 64v1M98.5 71v2M98.5 76v1M99.5 10v1M99.5 17v1M99.5 19v2M99.5 25v2M99.5 32v1M99.5 37v3M99.5 59v1M99.5 63v2M99.5 66v2M99.5 71v3M99.5 80v3M99.5 84v1M100.5 0v2M100.5 13v1M100.5 19v2M100.5 38v1M100.5 45v1M100.5 48v1M100.5 62v3M100.5 67v1M100.5 70v1M100.5 80v5M101.5 19v1M101.5 29v1M101.5 47v2M101.5 74v3M101.5 80v2M101.5 88v1M102.5 11v1M102.5 16v1M102.5 19v2M102.5 29v1M102.5 31v1M102.5 36v1M102.5 39v1M102.5 42v1M102.5 51v1M102.5 72v1M102.5 80v3M103.5 3v1M103.5 5v2M103.5 10v3M103.5 16v4M103.5 29v1M103.5 32v1M103.5 48v1M103.5 55v1M103.5 62v1M103.5 65v1M103.5 68v1M103.5 77v1M103.5 80v3M103.5 85v1M103.5 87v2M104.5 3v1M104.5 5v1M104.5 12v1M104.5 16v4M104.5 24v1M104.5 31v3M104.5 35v1M104.5 40v2M104.5 61v5M104.5 82v1M104.5 85v1M104.5 87v1M105.5 6v1M105.5 13v6M105.5 24v1M105.5 26v2M105.5 29v2M105.5 40v1M105.5 43v2M105.5 46v1M105.5 57v1M105.5 65v1M105.5 69v1M105.5 72v1M105.5 75v1M105.5 85v1M105.5 89v1M106.5 6v6M106.5 15v4M106.5 24v4M106.5 48v2M106.5 57v1M106.5 63v3M106.5 67v1M106.5 75v2M106.5 84v2M106.5 88v2M107.5 4v4M107.5 9v3M107.5 15v2M107.5 23v1M107.5 26v2M107.5 36v2M107.5 48v4M107.5 57v1M107.5 61v1M107.5 63v3M107.5 67v1M107.5 76v1M107.5 83v1M108.5 3v2M108.5 9v8M108.5 22v1M108.5 36v2M108.5 47v4M108.5 55v1M108.5 57v6M108.5 65v1M108.5 67v3M108.5 83v1M109.5 4v1M109.5 6v1M109.5 10v4M109.5 16v1M109.5 36v3M109.5 42v3M109.5 47v4M109.5 55v1M109.5 57v4M109.5 66v1M109.5 69v2M109.5 73v1M109.5 77v2M109.5 84v1M109.5 89v1M110.5 11v1M110.5 13v1M110.5 15v1M110.5 19v1M110.5 30v2M110.5 36v2M110.5 44v1M110.5 46v4M110.5 56v2M110.5 62v1M110.5 65v2M110.5 69v1M110.5 73v3M110.5 82v1M110.5 87v1M110.5 89v1M111.5 0v2M111.5 7v1M111.5 11v1M111.5 15v1M111.5 19v3M111.5 29v3M111.5 38v1M111.5 44v1M111.5 46v1M111.5 49v1M111.5 51v1M111.5 66v6M111.5 73v3M111.5 78v1M111.5 82v1M112.5 13v3M112.5 18v1M112.5 20v2M112.5 23v1M112.5 35v1M112.5 49v1M112.5 51v2M112.5 56v2M112.5 66v1M112.5 73v3M112.5 78v1M112.5 80v1M112.5 82v1M112.5 84v1M113.5 1v2M113.5 11v1M113.5 14v1M113.5 18v1M113.5 20v1M113.5 23v1M113.5 25v2M113.5 45v1M113.5 49v2M113.5 57v2M113.5 62v1M113.5 78v1M113.5 82v1M114.5 2v1M114.5 5v1M114.5 10v1M114.5 18v4M114.5 30v1M114.5 35v1M114.5 44v3M114.5 50v2M114.5 56v2M114.5 61v2M114.5 69v2M114.5 78v1M114.5 84v2M114.5 89v1M115.5 0v1M115.5 7v3M115.5 16v3M115.5 34v2M115.5 38v4M115.5 50v3M115.5 57v1M115.5 63v2M115.5 71v1M115.5 73v1M115.5 79v2M115.5 82v2M115.5 89v1M116.5 14v1M116.5 20v3M116.5 34v2M116.5 40v1M116.5 43v1M116.5 46v4M116.5 52v2M116.5 64v1M116.5 71v1M116.5 81v1M116.5 88v1M117.5 4v1M117.5 10v3M117.5 17v2M117.5 26v1M117.5 36v2M117.5 40v2M117.5 43v2M117.5 46v1M117.5 51v1M117.5 66v2M117.5 88v1M118.5 0v2M118.5 4v1M118.5 6v2M118.5 10v3M118.5 15v1M118.5 25v4M118.5 36v3M118.5 41v1M118.5 46v1M118.5 57v2M118.5 60v1M118.5 62v1M118.5 79v1M118.5 84v1M119.5 0v2M119.5 4v1M119.5 6v1M119.5 23v1M119.5 25v2M119.5 33v2M119.5 36v3M119.5 42v1M119.5 44v3M119.5 55v1M119.5 58v1M119.5 62v1M119.5 76v2M119.5 79v1M119.5 84v4M120.5 4v4M120.5 9v2M120.5 12v2M120.5 16v1M120.5 18v1M120.5 23v2M120.5 27v1M120.5 33v2M120.5 38v2M120.5 42v1M120.5 46v1M120.5 63v2M120.5 68v1M120.5 75v4M120.5 82v1M121.5 4v2M121.5 9v1M121.5 14v2M121.5 23v3M121.5 27v2M121.5 33v1M121.5 39v1M121.5 44v3M121.5 68v2M121.5 71v1M121.5 75v4M121.5 82v1M122.5 0v1M122.5 9v1M122.5 17v2M122.5 21v2M122.5 24v1M122.5 38v2M122.5 41v1M122.5 44v1M122.5 66v1M122.5 69v1M122.5 75v1M122.5 78v1M122.5 82v1M122.5 86v4M123.5 0v2M123.5 18v1M123.5 24v2M123.5 31v1M123.5 33v1M123.5 36v3M123.5 42v1M123.5 64v1M123.5 66v3M123.5 78v1M123.5 86v3M124.5 0v2M124.5 4v1M124.5 19v2M124.5 33v1M124.5 38v1M124.5 48v1M124.5 53v2M124.5 64v1M124.5 67v1M124.5 70v1M124.5 82v1M124.5 86v4M125.5 0v2M125.5 10v1M125.5 14v2M125.5 30v1M125.5 35v1M125.5 38v1M125.5 43v1M125.5 47v2M125.5 57v1M125.5 62v1M125.5 64v1M125.5 67v4M125.5 87v1M125.5 89v1M126.5 1v2M126.5 10v1M126.5 13v1M126.5 17v1M126.5 19v1M126.5 22v1M126.5 36v1M126.5 58v2M126.5 62v1M126.5 69v2M126.5 80v2M127.5 2v1M127.5 6v2M127.5 12v1M127.5 16v5M127.5 22v1M127.5 52v4M127.5 58v2M127.5 69v1M127.5 73v2M127.5 79v3M127.5 88v2M128.5 2v1M128.5 11v2M128.5 16v5M128.5 28v2M128.5 37v1M128.5 54v2M128.5 58v1M128.5 60v1M128.5 74v1M128.5 79v1M129.5 1v1M129.5 11v1M129.5 17v2M129.5 21v1M129.5 28v1M129.5 33v4M129.5 53v3M129.5 58v1M129.5 78v2M129.5 88v2M130.5 1v1M130.5 11v3M130.5 17v1M130.5 21v1M130.5 23v2M130.5 28v1M130.5 34v1M130.5 36v1M130.5 49v2M130.5 53v3M130.5 58v1M130.5 60v2M130.5 69v2M130.5 78v2M130.5 83v1M130.5 88v2M131.5 1v1M131.5 3v1M131.5 10v4M131.5 16v2M131.5 19v1M131.5 23v3M131.5 28v1M131.5 36v1M131.5 50v1M131.5 56v1M131.5 61v1M131.5 72v1M131.5 79v1M131.5 86v1M131.5 89v1M132.5 0v2M132.5 12v3M132.5 16v1M132.5 25v2M132.5 37v1M132.5 52v1M132.5 56v2M132.5 66v1M132.5 72v2M132.5 79v1M132.5 81v1M132.5 89v1M133.5 5v1M133.5 8v1M133.5 10v3M133.5 14v3M133.5 19v2M133.5 24v1M133.5 26v2M133.5 30v1M133.5 32v1M133.5 51v2M133.5 70v1M133.5 72v2M133.5 81v1M133.5 83v1M133.5 85v1M134.5 2v1M134.5 8v4M134.5 15v1M134.5 30v3M134.5 35v1M134.5 43v2M134.5 46v1M134.5 54v1M134.5 69v2M134.5 75v2M134.5 82v1M134.5 85v1M135.5 1v2M135.5 14v3M135.5 18v2M135.5 23v1M135.5 43v2M135.5 46v3M135.5 54v2M135.5 70v1M135.5 77v1M135.5 81v2M135.5 84v1M136.5 10v1M136.5 14v3M136.5 18v4M136.5 43v4M136.5 48v2M136.5 54v3M136.5 70v2M136.5 84v1M136.5 86v2M137.5 10v2M137.5 15v2M137.5 19v4M137.5 29v1M137.5 46v1M137.5 48v1M137.5 58v1M137.5 60v2M137.5 69v1M137.5 75v3M137.5 79v2M137.5 87v1M137.5 89v1M138.5 0v1M138.5 5v2M138.5 9v1M138.5 11v1M138.5 14v3M138.5 19v3M138.5 29v1M138.5 42v2M138.5 45v6M138.5 52v1M138.5 54v1M138.5 61v4M138.5 66v2M138.5 69v2M138.5 75v2M138.5 79v2M138.5 83v2M138.5 88v1M139.5 0v1M139.5 5v2M139.5 13v1M139.5 20v2M139.5 35v2M139.5 43v1M139.5 45v1M139.5 48v2M139.5 54v5M139.5 60v3M139.5 76v1M139.5 80v2"/><path stroke-opacity="0.78" d="M0.5 1v1M0.5 36v1M0.5 49v1M0.5 71v1M0.5 87v1M1.5 2v1M1.5 40v1M1.5 85v1M1.5 89v1M2.5 11v1M2.5 19v1M2.5 52v1M2.5 84v1M3.5 19v1M3.5 32v2M3.5 45v2M3.5 56v1M3.5 60v1M3.5 74v1M3.5 83v1M4.5 13v1M4.5 42v1M5.5 5v1M5.5 13v1M5.5 32v1M5.5 35v1M5.5 41v1M5.5 43v1M5.5 51v1M5.5 58v1M5.5 60v1M5.5 79v1M5.5 86v1M6.5 2v1M6.5 15v1M6.5 24v2M6.5 53v1M6.5 64v1M6.5 70v1M6.5 76v1M7.5 3v1M7.5 16v2M7.5 21v1M7.5 53v1M7.5 73v1M8.5 10v1M8.5 12v1M8.5 72v1M8.5 84v1M9.5 3v1M9.5 11v1M9.5 19v1M9.5 25v1M9.5 61v1M9.5 63v1M10.5 32v1M10.5 49v1M10.5 53v1M10.5 57v1M10.5 78v1M11.5 4v1M11.5 34v2M11.5 40v1M11.5 54v1M11.5 56v1M11.5 77v1M12.5 36v1M12.5 41v1M12.5 47v1M12.5 54v1M13.5 57v1M13.5 74v1M13.5 83v1M14.5 2v1M14.5 16v1M14.5 20v1M14.5 30v1M14.5 33v1M14.5 63v1M15.5 7v1M15.5 73v1M15.5 82v1M16.5 5v1M16.5 28v1M16.5 75v1M17.5 7v2M17.5 42v1M17.5 44v1M17.5 57v1M17.5 67v1M18.5 2v1M18.5 7v1M18.5 26v1M18.5 59v1M19.5 36v1M19.5 77v1M19.5 84v1M19.5 88v2M20.5 25v1M20.5 27v1M20.5 83v1M21.5 9v1M21.5 19v1M21.5 25v1M21.5 27v1M21.5 29v1M21.5 64v2M22.5 7v1M22.5 19v1M22.5 41v1M22.5 56v1M23.5 15v1M23.5 28v1M23.5 49v1M23.5 59v1M24.5 21v2M24.5 26v1M24.5 28v1M24.5 53v1M25.5 12v1M25.5 20v1M25.5 24v1M25.5 41v1M25.5 49v1M26.5 0v1M26.5 38v1M26.5 43v1M26.5 69v1M26.5 71v1M26.5 89v1M27.5 17v1M27.5 34v1M27.5 37v1M28.5 9v1M28.5 24v2M28.5 36v1M28.5 46v1M28.5 48v1M28.5 53v1M28.5 63v1M28.5 66v1M28.5 74v1M29.5 1v1M29.5 27v1M29.5 65v1M29.5 73v1M30.5 2v1M30.5 27v1M30.5 43v1M30.5 52v1M30.5 67v2M30.5 76v1M30.5 82v1M30.5 87v1M31.5 54v1M31.5 63v1M31.5 69v1M31.5 75v1M32.5 1v1M32.5 41v1M32.5 44v2M32.5 69v1M33.5 5v1M33.5 28v1M33.5 55v1M33.5 57v1M33.5 71v1M33.5 76v1M33.5 81v1M33.5 88v1M34.5 9v1M34.5 25v1M34.5 51v1M34.5 70v1M34.5 79v1M34.5 88v1M35.5 0v1M35.5 25v2M35.5 29v1M35.5 40v2M35.5 83v1M36.5 7v1M36.5 14v1M36.5 20v1M36.5 25v1M36.5 27v1M37.5 16v1M37.5 33v1M37.5 40v1M37.5 49v2M37.5 60v1M37.5 80v1M38.5 1v1M38.5 14v1M38.5 18v1M38.5 26v1M38.5 32v1M38.5 48v1M38.5 84v1M39.5 14v1M39.5 28v1M39.5 49v1M39.5 70v2M39.5 84v1M40.5 5v1M40.5 36v1M40.5 69v1M41.5 0v1M41.5 30v1M41.5 37v1M41.5 81v1M42.5 1v1M42.5 37v1M42.5 39v1M42.5 46v1M42.5 73v1M42.5 80v1M43.5 3v1M43.5 27v1M43.5 29v1M43.5 51v1M43.5 68v1M44.5 19v1M44.5 21v1M44.5 42v1M44.5 69v1M44.5 81v2M45.5 12v1M45.5 19v1M45.5 27v2M45.5 32v1M45.5 61v2M46.5 1v1M46.5 17v1M46.5 22v1M46.5 36v1M46.5 42v1M46.5 51v1M46.5 53v1M46.5 80v2M47.5 16v1M47.5 32v2M47.5 35v1M47.5 38v1M47.5 55v1M47.5 62v1M47.5 74v1M48.5 0v1M48.5 4v1M48.5 14v1M48.5 18v1M48.5 25v1M48.5 30v1M48.5 58v1M49.5 3v1M49.5 23v1M49.5 43v1M50.5 2v1M50.5 12v1M50.5 22v1M50.5 24v1M50.5 39v1M51.5 28v1M51.5 69v1M51.5 79v1M52.5 2v1M52.5 32v1M52.5 35v1M52.5 39v1M52.5 42v1M52.5 79v1M52.5 81v1M53.5 10v1M53.5 28v1M53.5 50v1M53.5 73v1M53.5 81v1M54.5 17v1M54.5 34v1M54.5 68v1M54.5 79v1M54.5 82v1M54.5 87v1M55.5 48v1M55.5 72v1M55.5 81v1M55.5 87v1M56.5 13v1M56.5 38v1M56.5 46v1M56.5 55v1M56.5 64v1M56.5 72v1M56.5 81v1M57.5 0v1M57.5 2v1M57.5 37v2M57.5 54v1M57.5 59v1M57.5 87v1M58.5 5v1M58.5 37v1M58.5 53v1M59.5 0v1M60.5 2v1M60.5 18v1M60.5 88v1M61.5 26v2M61.5 50v1M61.5 60v1M61.5 84v1M62.5 32v1M62.5 50v1M62.5 52v2M62.5 57v1M62.5 65v1M62.5 77v1M62.5 89v1M63.5 2v1M63.5 4v2M63.5 11v1M63.5 16v1M64.5 47v1M64.5 58v1M64.5 72v1M64.5 84v1M64.5 88v1M65.5 4v1M65.5 56v1M65.5 71v1M65.5 81v1M66.5 5v1M66.5 10v2M66.5 63v1M66.5 72v1M66.5 74v1M66.5 81v1M66.5 83v1M66.5 88v1M67.5 0v1M67.5 63v2M68.5 23v1M68.5 27v1M68.5 47v1M68.5 58v1M68.5 80v1M69.5 0v1M69.5 12v3M69.5 16v1M69.5 25v1M69.5 78v1M69.5 80v2M70.5 21v1M70.5 32v1M70.5 39v1M71.5 11v1M71.5 16v1M71.5 21v1M71.5 33v1M71.5 57v1M72.5 6v1M72.5 8v1M72.5 29v1M72.5 45v1M72.5 75v1M72.5 81v1M73.5 29v1M73.5 32v1M73.5 35v1M73.5 75v1M74.5 9v1M74.5 43v1M74.5 59v1M74.5 89v1M75.5 4v1M75.5 84v1M75.5 86v1M76.5 15v1M76.5 17v1M76.5 20v1M76.5 24v1M76.5 58v1M77.5 19v1M77.5 39v1M77.5 43v2M77.5 54v1M77.5 75v1M77.5 77v1M78.5 7v1M78.5 70v1M79.5 19v1M79.5 23v1M79.5 27v1M79.5 45v1M79.5 59v2M79.5 69v1M79.5 73v1M79.5 75v1M79.5 79v1M79.5 87v1M80.5 13v1M80.5 59v1M80.5 68v1M80.5 80v1M81.5 18v1M81.5 56v1M81.5 67v1M81.5 69v1M81.5 76v2M81.5 86v1M82.5 13v1M82.5 50v1M82.5 70v1M82.5 75v2M82.5 86v1M83.5 20v1M83.5 22v1M83.5 41v1M83.5 48v1M83.5 52v1M83.5 55v1M83.5 80v1M84.5 39v1M84.5 52v1M85.5 2v1M85.5 56v1M85.5 76v1M86.5 36v1M86.5 50v1M86.5 89v1M87.5 4v1M87.5 15v1M87.5 17v1M87.5 47v1M87.5 51v1M88.5 27v1M88.5 31v1M88.5 34v1M88.5 43v1M88.5 72v1M88.5 88v1M89.5 8v1M89.5 62v1M89.5 71v1M90.5 21v1M90.5 44v1M90.5 61v1M90.5 75v1M91.5 48v1M91.5 63v2M92.5 4v1M92.5 7v1M92.5 10v1M92.5 39v1M92.5 52v1M92.5 66v1M92.5 73v1M92.5 78v1M93.5 0v2M93.5 51v1M93.5 61v1M93.5 66v1M93.5 71v1M93.5 73v1M93.5 81v1M94.5 81v1M95.5 7v1M95.5 12v1M95.5 32v1M95.5 35v1M95.5 85v2M95.5 89v1M96.5 19v1M96.5 45v1M96.5 58v1M96.5 72v1M97.5 2v1M97.5 13v1M97.5 18v1M97.5 24v1M97.5 64v1M98.5 17v1M98.5 23v1M98.5 34v1M98.5 54v1M98.5 60v1M98.5 63v1M98.5 67v1M98.5 84v1M99.5 8v2M99.5 27v1M99.5 62v1M99.5 65v1M99.5 83v1M100.5 4v1M100.5 16v1M100.5 29v1M100.5 47v1M100.5 88v2M101.5 11v1M101.5 20v1M101.5 61v1M102.5 12v1M102.5 17v1M102.5 24v1M102.5 28v1M102.5 46v1M102.5 63v1M102.5 71v1M102.5 73v1M103.5 20v1M103.5 24v1M103.5 31v1M103.5 53v1M103.5 64v1M104.5 2v1M104.5 57v1M104.5 60v1M104.5 69v1M105.5 0v1M105.5 7v1M105.5 32v1M105.5 35v1M105.5 45v1M105.5 76v1M105.5 82v1M106.5 0v1M106.5 23v1M106.5 28v1M106.5 31v1M106.5 42v1M106.5 44v1M106.5 53v1M106.5 62v1M107.5 1v3M107.5 68v2M107.5 75v1M107.5 88v1M108.5 5v2M108.5 23v1M108.5 51v1M109.5 15v1M109.5 68v1M109.5 83v1M110.5 12v1M110.5 21v1M110.5 24v1M110.5 38v1M111.5 43v1M111.5 57v1M111.5 79v1M111.5 81v1M112.5 6v1M112.5 50v1M112.5 71v1M113.5 13v1M113.5 17v1M113.5 21v1M113.5 51v1M113.5 56v1M113.5 61v1M113.5 71v1M113.5 85v1M114.5 1v1M114.5 16v1M114.5 42v1M114.5 60v1M114.5 86v1M115.5 1v1M115.5 5v1M115.5 20v1M115.5 36v1M115.5 44v3M115.5 62v1M115.5 78v1M115.5 81v1M116.5 3v1M116.5 18v1M116.5 63v1M116.5 89v1M117.5 15v1M117.5 35v1M117.5 45v1M118.5 5v1M118.5 40v1M118.5 43v1M118.5 61v1M118.5 67v1M118.5 89v1M119.5 3v1M119.5 5v1M119.5 27v1M119.5 31v1M119.5 63v1M120.5 1v1M120.5 11v1M120.5 17v1M120.5 60v1M120.5 67v1M120.5 69v1M121.5 6v1M121.5 32v1M121.5 40v1M121.5 66v1M121.5 70v1M122.5 1v1M122.5 25v1M122.5 65v1M122.5 72v1M122.5 76v1M122.5 84v1M123.5 26v1M123.5 35v1M123.5 85v1M123.5 89v1M124.5 24v1M124.5 36v1M124.5 55v1M124.5 68v1M125.5 32v1M125.5 42v1M125.5 46v1M125.5 53v1M125.5 58v1M126.5 3v1M126.5 12v1M126.5 23v1M126.5 35v1M126.5 41v1M126.5 43v1M126.5 46v2M126.5 55v1M126.5 68v1M126.5 79v1M126.5 89v1M127.5 1v1M127.5 5v1M127.5 21v1M127.5 23v1M127.5 70v1M128.5 15v1M128.5 24v1M128.5 73v1M128.5 87v1M129.5 27v1M129.5 50v1M129.5 56v1M129.5 60v1M129.5 70v1M129.5 80v1M130.5 6v1M130.5 35v1M130.5 56v1M131.5 0v1M131.5 2v1M131.5 4v1M131.5 18v1M131.5 32v1M131.5 37v1M131.5 58v3M131.5 73v1M132.5 15v1M132.5 17v1M132.5 20v1M132.5 30v1M132.5 48v1M132.5 58v4M132.5 80v1M132.5 88v1M133.5 25v1M133.5 38v1M133.5 41v1M133.5 50v1M133.5 59v1M133.5 65v1M133.5 69v1M133.5 82v1M134.5 83v1M135.5 30v1M135.5 49v1M135.5 85v1M135.5 88v1M136.5 39v1M136.5 51v1M136.5 72v1M136.5 82v1M137.5 45v1M137.5 47v1M137.5 88v1M138.5 7v1M138.5 10v1M138.5 12v1M138.5 22v1M138.5 55v1M138.5 65v1M138.5 73v1M138.5 81v1M139.5 8v2M139.5 26v1M139.5 29v1M139.5 40v1M139.5 47v1M139.5 53v1M139.5 88v1"/><path stroke-opacity="0.6" d="M0.5 4v1M0.5 17v1M0.5 26v1M0.5 29v1M0.5 35v1M0.5 39v1M0.5 44v1M0.5 46v1M0.5 50v1M0.5 59v1M0.5 61v1M0.5 78v1M1.5 4v1M1.5 8v1M1.5 14v1M1.5 17v1M1.5 37v1M1.5 43v1M1.5 55v1M1.5 61v1M1.5 63v1M1.5 69v1M1.5 72v1M1.5 86v1M2.5 1v1M2.5 10v1M2.5 14v1M2.5 34v3M2.5 39v1M2.5 43v1M2.5 45v1M2.5 51v1M2.5 63v1M2.5 74v1M2.5 79v1M3.5 14v1M3.5 34v1M3.5 50v1M3.5 70v3M3.5 85v2M4.5 2v1M4.5 12v1M4.5 20v1M4.5 29v1M4.5 33v1M4.5 43v1M4.5 48v1M4.5 56v1M4.5 66v1M4.5 78v1M4.5 82v1M5.5 10v1M5.5 12v1M5.5 20v1M5.5 23v1M5.5 29v1M5.5 50v1M5.5 72v1M5.5 82v1M6.5 3v1M6.5 10v1M6.5 19v1M6.5 27v1M6.5 35v2M6.5 41v1M6.5 49v1M6.5 58v1M6.5 77v1M6.5 83v1M6.5 86v1M7.5 5v1M7.5 11v1M7.5 13v1M7.5 15v1M7.5 18v2M7.5 25v1M7.5 29v2M7.5 33v1M7.5 49v1M7.5 58v2M7.5 71v1M7.5 77v1M8.5 5v2M8.5 8v1M8.5 15v1M8.5 19v1M8.5 31v1M8.5 54v1M8.5 89v1M9.5 7v1M9.5 10v1M9.5 21v2M9.5 32v1M9.5 41v1M9.5 47v1M9.5 52v1M9.5 89v1M10.5 0v1M10.5 18v1M10.5 33v3M10.5 46v1M10.5 59v2M10.5 63v1M10.5 80v1M11.5 9v1M11.5 16v1M11.5 26v1M11.5 32v1M11.5 58v2M11.5 89v1M12.5 0v1M12.5 24v1M12.5 30v1M12.5 33v1M12.5 42v1M12.5 55v3M12.5 64v1M13.5 5v2M13.5 23v1M13.5 25v1M13.5 30v1M13.5 34v3M13.5 38v1M13.5 43v1M13.5 47v1M13.5 78v1M13.5 82v1M14.5 4v1M14.5 6v2M14.5 22v1M14.5 56v1M14.5 60v1M14.5 66v1M15.5 4v1M15.5 23v1M15.5 32v1M15.5 49v1M15.5 51v3M15.5 56v1M15.5 64v1M15.5 67v1M15.5 71v1M15.5 75v1M15.5 86v1M15.5 88v1M16.5 2v1M16.5 18v2M16.5 22v1M16.5 39v1M16.5 44v3M16.5 55v2M16.5 59v2M16.5 63v1M16.5 65v1M16.5 70v1M16.5 89v1M17.5 5v1M17.5 18v1M17.5 22v1M17.5 28v1M17.5 33v1M17.5 37v2M17.5 40v1M17.5 43v1M17.5 48v1M17.5 51v2M17.5 58v1M17.5 60v1M17.5 68v1M17.5 71v1M17.5 75v1M17.5 83v1M17.5 86v2M18.5 12v1M18.5 14v1M18.5 34v1M18.5 36v1M18.5 40v1M18.5 43v1M18.5 48v1M18.5 62v1M18.5 66v2M18.5 69v1M18.5 75v1M18.5 81v1M19.5 8v1M19.5 21v1M19.5 25v1M19.5 28v1M19.5 54v1M19.5 56v1M19.5 66v1M19.5 80v2M20.5 4v1M20.5 8v1M20.5 30v1M20.5 88v1M21.5 5v1M21.5 11v1M21.5 16v2M21.5 24v1M21.5 26v1M21.5 30v1M21.5 44v1M21.5 69v1M22.5 0v1M22.5 5v2M22.5 26v1M22.5 28v1M22.5 30v1M22.5 33v1M22.5 59v2M22.5 63v4M22.5 75v1M22.5 77v1M23.5 13v1M23.5 19v1M23.5 40v1M23.5 60v1M23.5 71v1M23.5 74v1M23.5 85v1M24.5 9v1M24.5 24v1M24.5 38v1M24.5 40v1M24.5 42v1M24.5 46v1M24.5 57v1M24.5 76v2M24.5 85v1M25.5 25v1M25.5 27v1M25.5 34v1M25.5 42v1M25.5 50v1M25.5 60v1M25.5 64v1M25.5 74v1M25.5 79v1M25.5 84v1M26.5 6v1M26.5 9v1M26.5 28v2M26.5 33v1M26.5 39v2M26.5 47v1M26.5 75v1M26.5 80v1M27.5 9v1M27.5 11v1M27.5 14v1M27.5 20v2M27.5 24v1M27.5 35v1M27.5 45v1M27.5 55v2M27.5 65v1M27.5 68v1M27.5 72v2M27.5 79v1M27.5 81v1M27.5 83v1M28.5 5v1M28.5 19v1M28.5 28v1M28.5 37v3M28.5 49v1M28.5 64v1M28.5 75v1M28.5 81v1M28.5 83v1M29.5 2v1M29.5 39v1M29.5 48v1M29.5 53v1M29.5 63v1M29.5 77v1M29.5 79v1M29.5 81v1M30.5 3v1M30.5 14v1M30.5 31v1M30.5 36v1M30.5 66v1M30.5 70v2M30.5 79v1M31.5 4v1M31.5 42v1M31.5 44v1M31.5 51v1M31.5 56v1M31.5 59v1M31.5 84v1M32.5 3v1M32.5 7v1M32.5 19v1M32.5 36v1M32.5 38v1M32.5 42v1M32.5 62v1M32.5 66v1M32.5 68v1M32.5 73v1M32.5 81v1M33.5 7v1M33.5 35v1M33.5 38v2M33.5 50v1M33.5 53v1M33.5 65v1M33.5 67v1M33.5 82v1M34.5 34v1M34.5 38v1M34.5 42v1M34.5 56v1M34.5 74v1M35.5 21v1M35.5 36v1M35.5 39v1M35.5 68v1M35.5 78v1M36.5 21v1M36.5 35v1M36.5 41v2M36.5 45v1M36.5 49v1M36.5 51v1M36.5 61v1M36.5 63v1M36.5 71v1M36.5 73v1M36.5 81v1M36.5 83v1M37.5 5v1M37.5 30v1M37.5 51v1M37.5 53v1M37.5 63v1M37.5 71v1M37.5 87v1M38.5 3v1M38.5 5v1M38.5 11v1M38.5 13v1M38.5 30v1M38.5 34v1M38.5 63v1M38.5 68v1M38.5 71v1M38.5 82v1M38.5 86v1M39.5 2v1M39.5 5v1M39.5 7v1M39.5 11v2M39.5 18v1M39.5 21v1M39.5 26v1M39.5 29v2M39.5 34v1M39.5 36v2M39.5 54v2M39.5 58v1M39.5 83v1M39.5 85v2M39.5 89v1M40.5 0v1M40.5 4v1M40.5 8v1M40.5 28v1M40.5 30v1M40.5 37v1M40.5 82v1M40.5 84v1M41.5 5v1M41.5 9v1M41.5 16v1M41.5 28v1M41.5 31v1M41.5 40v1M41.5 48v1M41.5 58v2M41.5 69v1M41.5 89v1M42.5 4v2M42.5 10v1M42.5 20v1M42.5 24v3M42.5 29v1M42.5 31v1M42.5 42v1M42.5 51v2M42.5 54v1M42.5 57v1M42.5 59v2M43.5 20v1M43.5 26v1M43.5 37v2M43.5 56v1M43.5 62v1M43.5 75v1M43.5 81v1M43.5 88v2M44.5 4v1M44.5 6v1M44.5 18v1M44.5 20v1M44.5 29v1M44.5 31v1M44.5 41v1M44.5 49v2M44.5 58v1M44.5 62v1M45.5 0v1M45.5 3v1M45.5 10v1M45.5 22v1M45.5 26v1M45.5 29v1M45.5 34v1M45.5 40v1M45.5 47v1M45.5 60v1M45.5 70v1M45.5 75v1M45.5 84v1M46.5 12v1M46.5 29v1M46.5 33v1M46.5 37v1M46.5 43v1M46.5 61v1M46.5 63v1M46.5 83v1M46.5 85v1M46.5 87v1M47.5 1v1M47.5 12v1M47.5 50v2M47.5 61v1M47.5 65v1M47.5 82v1M47.5 85v1M48.5 3v1M48.5 17v1M48.5 32v1M48.5 38v1M48.5 40v1M48.5 55v1M48.5 66v1M48.5 70v1M48.5 75v1M48.5 77v1M48.5 86v1M49.5 15v1M49.5 31v1M49.5 36v1M49.5 40v1M49.5 55v1M49.5 74v2M49.5 84v1M50.5 1v1M50.5 5v1M50.5 9v2M50.5 16v1M50.5 30v1M50.5 36v1M50.5 41v3M50.5 45v1M50.5 51v1M50.5 53v1M50.5 56v1M50.5 68v1M50.5 89v1M51.5 2v1M51.5 7v2M51.5 10v1M51.5 17v2M51.5 25v1M51.5 31v1M51.5 35v1M51.5 42v1M51.5 64v2M51.5 72v1M51.5 82v1M52.5 7v1M52.5 9v1M52.5 13v2M52.5 19v1M52.5 24v1M52.5 27v1M52.5 30v1M52.5 46v1M52.5 50v1M52.5 59v1M52.5 64v1M52.5 78v1M52.5 84v2M53.5 3v1M53.5 6v2M53.5 35v1M53.5 46v2M53.5 56v1M53.5 72v1M53.5 76v1M53.5 78v1M54.5 3v1M54.5 27v1M54.5 32v1M54.5 50v1M54.5 67v1M54.5 78v1M55.5 13v1M55.5 18v1M55.5 31v1M55.5 49v1M55.5 58v1M55.5 74v1M55.5 86v1M56.5 8v1M56.5 11v1M56.5 15v1M56.5 19v1M56.5 39v1M56.5 41v1M56.5 49v1M56.5 53v1M56.5 58v1M56.5 63v1M56.5 80v1M57.5 5v1M57.5 15v1M57.5 19v1M57.5 21v1M57.5 27v1M57.5 36v1M57.5 46v1M57.5 53v1M57.5 58v1M57.5 62v1M57.5 72v1M58.5 3v1M58.5 10v2M58.5 36v1M58.5 38v1M58.5 46v1M58.5 48v1M58.5 54v1M58.5 56v1M58.5 61v2M59.5 1v1M59.5 15v1M59.5 45v1M59.5 57v1M59.5 59v1M59.5 62v1M59.5 67v1M59.5 75v1M59.5 80v1M60.5 6v1M60.5 8v1M60.5 13v2M60.5 22v1M60.5 27v2M60.5 32v1M60.5 41v1M60.5 48v1M60.5 55v2M60.5 68v1M60.5 84v1M61.5 1v1M61.5 4v1M61.5 8v1M61.5 13v2M61.5 22v1M61.5 25v1M61.5 28v1M61.5 34v1M61.5 39v1M61.5 45v1M61.5 49v1M62.5 7v1M62.5 12v1M62.5 24v1M62.5 27v1M62.5 43v1M62.5 59v1M62.5 64v1M62.5 79v2M62.5 84v1M63.5 9v1M63.5 39v1M63.5 43v1M63.5 55v2M63.5 65v1M63.5 67v1M63.5 72v1M63.5 77v1M64.5 4v1M64.5 10v1M64.5 17v1M64.5 36v1M64.5 78v4M65.5 9v1M65.5 19v1M65.5 21v2M65.5 38v2M65.5 41v1M65.5 44v2M65.5 49v1M65.5 51v2M65.5 55v1M65.5 61v1M66.5 14v1M66.5 33v1M66.5 35v1M66.5 37v1M66.5 39v1M66.5 73v1M66.5 89v1M67.5 7v2M67.5 12v1M67.5 19v1M67.5 27v1M67.5 31v1M67.5 46v1M67.5 48v1M67.5 51v3M67.5 55v2M67.5 58v1M67.5 76v2M67.5 88v1M68.5 4v1M68.5 11v2M68.5 28v2M68.5 34v1M68.5 40v1M68.5 53v1M68.5 57v1M68.5 75v1M69.5 6v1M69.5 10v1M69.5 19v2M69.5 24v1M69.5 30v2M69.5 39v1M69.5 51v1M69.5 55v1M69.5 66v1M69.5 84v1M70.5 2v1M70.5 11v1M70.5 18v1M70.5 22v1M70.5 64v2M70.5 75v1M71.5 8v1M71.5 20v1M71.5 34v1M71.5 39v1M71.5 47v1M71.5 51v1M71.5 73v1M72.5 7v1M72.5 9v1M72.5 19v1M72.5 21v1M72.5 28v1M72.5 30v1M72.5 41v1M72.5 44v1M72.5 58v1M72.5 84v2M73.5 4v1M73.5 44v1M73.5 50v1M73.5 62v1M73.5 80v1M73.5 83v1M74.5 2v2M74.5 7v1M74.5 22v1M74.5 32v1M74.5 34v1M74.5 63v1M75.5 2v1M75.5 11v1M75.5 21v1M75.5 29v1M75.5 34v1M75.5 38v1M75.5 55v1M75.5 68v1M75.5 71v1M75.5 80v1M76.5 2v3M76.5 25v1M76.5 49v1M76.5 55v1M76.5 72v1M76.5 80v1M76.5 89v1M77.5 14v1M77.5 17v1M77.5 20v1M77.5 30v1M77.5 40v1M77.5 50v1M77.5 57v1M77.5 61v1M77.5 65v1M77.5 67v1M77.5 69v1M77.5 71v1M77.5 74v1M77.5 78v1M77.5 84v1M78.5 1v1M78.5 8v1M78.5 11v1M78.5 15v1M78.5 22v1M78.5 24v1M78.5 27v1M78.5 36v1M78.5 40v1M78.5 48v2M78.5 55v1M78.5 60v1M78.5 73v2M78.5 77v1M78.5 87v1M79.5 4v1M79.5 13v1M79.5 25v1M79.5 30v1M79.5 34v1M79.5 46v1M79.5 48v1M79.5 62v1M79.5 71v1M79.5 82v1M80.5 4v1M80.5 36v1M80.5 41v2M80.5 49v2M80.5 54v1M80.5 57v1M80.5 66v1M80.5 74v1M80.5 82v1M81.5 4v1M81.5 8v1M81.5 14v1M81.5 17v1M81.5 21v1M81.5 23v1M81.5 33v1M81.5 35v1M81.5 42v1M81.5 46v1M81.5 51v1M81.5 72v1M81.5 83v1M82.5 5v1M82.5 8v1M82.5 28v3M82.5 54v2M82.5 62v1M82.5 68v2M82.5 73v1M83.5 3v1M83.5 9v1M83.5 15v1M83.5 49v1M83.5 73v1M83.5 85v2M84.5 7v1M84.5 12v1M84.5 22v1M84.5 31v1M84.5 44v1M84.5 48v1M84.5 51v1M84.5 57v1M84.5 59v1M84.5 78v1M85.5 0v1M85.5 9v1M85.5 14v1M85.5 19v2M85.5 30v1M85.5 34v2M85.5 43v1M85.5 45v1M85.5 48v1M85.5 59v1M85.5 63v1M85.5 73v1M85.5 77v1M85.5 79v1M85.5 81v1M86.5 7v1M86.5 18v2M86.5 28v1M86.5 41v1M86.5 60v1M86.5 73v1M86.5 76v1M86.5 83v1M86.5 87v1M87.5 7v2M87.5 35v2M87.5 45v1M87.5 61v1M87.5 70v1M87.5 77v1M87.5 87v2M88.5 5v1M88.5 15v1M88.5 21v1M88.5 28v1M88.5 37v1M88.5 41v1M88.5 45v2M88.5 57v1M88.5 62v1M88.5 73v1M88.5 87v1M89.5 9v1M89.5 16v1M89.5 20v3M89.5 32v1M89.5 34v1M89.5 40v1M89.5 44v1M89.5 74v1M90.5 7v2M90.5 23v1M90.5 40v1M90.5 47v1M90.5 49v1M90.5 57v2M90.5 64v1M90.5 72v1M90.5 80v1M91.5 4v1M91.5 6v2M91.5 9v1M91.5 21v1M91.5 30v2M91.5 34v1M91.5 38v1M91.5 72v1M91.5 83v1M92.5 3v1M92.5 12v1M92.5 42v1M92.5 49v1M92.5 64v1M92.5 79v1M93.5 9v1M93.5 13v1M93.5 16v1M93.5 21v1M93.5 38v1M93.5 46v1M93.5 54v1M93.5 64v1M93.5 69v1M93.5 80v1M93.5 89v1M94.5 1v1M94.5 7v2M94.5 10v2M94.5 18v1M94.5 20v1M94.5 39v1M94.5 41v1M94.5 45v2M94.5 63v1M94.5 80v1M94.5 84v1M95.5 2v1M95.5 37v1M95.5 39v1M95.5 47v1M95.5 81v2M95.5 84v1M96.5 1v2M96.5 20v1M96.5 30v1M96.5 35v1M96.5 41v1M96.5 46v1M96.5 48v1M96.5 60v1M96.5 69v1M96.5 71v1M96.5 76v1M96.5 83v1M96.5 87v1M97.5 4v1M97.5 7v1M97.5 9v1M97.5 22v1M97.5 34v2M97.5 41v1M97.5 49v1M97.5 54v1M97.5 79v2M97.5 83v1M98.5 6v2M98.5 13v1M98.5 20v1M98.5 22v1M98.5 48v2M98.5 73v1M98.5 75v1M98.5 79v3M99.5 2v1M99.5 11v2M99.5 18v1M99.5 22v1M99.5 43v1M99.5 45v1M99.5 70v1M99.5 75v2M99.5 79v1M99.5 86v1M100.5 5v2M100.5 12v1M100.5 15v1M100.5 22v1M100.5 25v1M100.5 27v2M100.5 39v1M100.5 42v1M100.5 49v1M100.5 57v2M100.5 61v1M100.5 66v1M100.5 87v1M101.5 1v1M101.5 13v1M101.5 24v2M101.5 28v1M101.5 42v1M101.5 45v1M101.5 49v1M101.5 52v2M101.5 58v1M101.5 62v1M101.5 64v1M101.5 70v1M101.5 72v1M101.5 82v1M101.5 84v1M102.5 8v1M102.5 13v1M102.5 30v1M102.5 55v1M102.5 61v2M102.5 64v1M102.5 67v1M102.5 76v2M102.5 83v1M103.5 2v1M103.5 8v1M103.5 28v1M103.5 30v1M103.5 39v1M103.5 61v1M103.5 63v1M103.5 69v1M103.5 71v2M103.5 78v1M103.5 84v1M104.5 10v2M104.5 20v1M104.5 25v2M104.5 55v1M104.5 72v1M104.5 89v1M105.5 2v1M105.5 9v1M105.5 23v1M105.5 25v1M105.5 28v1M105.5 31v1M105.5 37v1M105.5 49v2M105.5 52v1M105.5 61v2M105.5 73v1M106.5 2v1M106.5 20v1M106.5 30v1M106.5 61v1M106.5 73v1M106.5 77v4M106.5 83v1M106.5 86v1M107.5 8v1M107.5 14v1M107.5 17v1M107.5 24v1M107.5 28v1M107.5 42v1M107.5 54v1M107.5 66v1M107.5 77v1M107.5 82v1M107.5 87v1M107.5 89v1M108.5 38v1M108.5 42v1M108.5 45v1M108.5 66v1M108.5 70v1M108.5 85v1M109.5 1v1M109.5 9v1M109.5 19v1M109.5 22v1M109.5 30v1M109.5 56v1M109.5 61v1M109.5 65v1M109.5 67v1M109.5 74v1M109.5 76v1M109.5 85v1M110.5 0v1M110.5 2v1M110.5 4v1M110.5 17v1M110.5 55v1M110.5 60v1M111.5 6v1M111.5 10v1M111.5 13v1M111.5 41v2M111.5 52v1M111.5 65v1M111.5 80v1M111.5 84v1M111.5 87v1M112.5 1v1M112.5 5v1M112.5 22v1M112.5 36v1M112.5 67v2M112.5 79v1M112.5 87v1M113.5 3v1M113.5 8v1M113.5 10v1M113.5 12v1M113.5 15v1M113.5 24v1M113.5 33v1M113.5 36v1M113.5 46v1M113.5 69v1M113.5 73v1M113.5 79v1M113.5 84v1M113.5 86v1M113.5 88v2M114.5 17v1M114.5 22v1M114.5 26v1M114.5 36v1M114.5 64v1M114.5 68v1M114.5 71v1M114.5 73v1M114.5 83v1M114.5 88v1M115.5 10v2M115.5 21v2M115.5 42v2M115.5 49v1M115.5 56v1M115.5 65v1M115.5 69v1M115.5 84v2M116.5 9v1M116.5 17v1M116.5 37v3M116.5 41v1M116.5 45v1M116.5 69v2M116.5 73v1M116.5 82v1M116.5 85v1M117.5 14v1M117.5 19v3M117.5 27v2M117.5 38v2M117.5 47v2M117.5 52v1M117.5 68v2M117.5 77v1M117.5 79v1M117.5 87v1M118.5 2v1M118.5 14v1M118.5 48v1M118.5 52v1M118.5 54v1M118.5 59v1M118.5 68v1M118.5 71v1M118.5 77v1M119.5 11v1M119.5 13v2M119.5 19v1M119.5 21v1M119.5 24v1M119.5 54v1M119.5 57v1M119.5 67v3M119.5 78v1M119.5 80v1M119.5 83v1M120.5 0v1M120.5 14v1M120.5 19v1M120.5 25v2M120.5 36v1M120.5 45v1M120.5 62v1M120.5 65v1M120.5 85v2M121.5 3v1M121.5 13v1M121.5 17v2M121.5 26v1M121.5 65v1M121.5 88v1M122.5 4v1M122.5 15v1M122.5 36v1M122.5 42v2M122.5 48v1M122.5 68v1M122.5 83v1M123.5 2v1M123.5 6v1M123.5 29v2M123.5 32v1M123.5 34v1M123.5 43v1M123.5 48v4M123.5 69v1M123.5 74v2M123.5 77v1M123.5 82v1M123.5 84v1M124.5 3v1M124.5 11v1M124.5 18v1M124.5 22v1M124.5 26v1M124.5 32v1M124.5 37v1M124.5 57v2M124.5 66v1M124.5 69v1M124.5 73v1M124.5 81v1M124.5 85v1M125.5 13v1M125.5 29v1M125.5 36v1M125.5 52v1M125.5 88v1M126.5 7v2M126.5 16v1M126.5 38v3M126.5 48v1M126.5 53v1M126.5 65v1M126.5 77v1M127.5 0v1M127.5 10v1M127.5 27v1M127.5 47v1M127.5 51v1M127.5 66v1M127.5 68v1M127.5 72v1M128.5 6v1M128.5 10v1M128.5 25v1M128.5 45v1M128.5 47v1M128.5 52v2M128.5 59v1M128.5 68v3M128.5 80v1M128.5 88v2M129.5 20v1M129.5 29v2M129.5 77v1M129.5 83v2M130.5 8v1M130.5 18v1M130.5 20v1M130.5 22v1M130.5 33v1M130.5 57v1M130.5 59v1M130.5 67v1M130.5 72v1M130.5 87v1M131.5 20v1M131.5 26v1M131.5 29v1M131.5 34v2M131.5 41v1M131.5 44v2M131.5 47v1M131.5 70v1M131.5 85v1M132.5 3v1M132.5 29v1M132.5 42v1M132.5 50v1M132.5 53v1M132.5 67v3M133.5 3v1M133.5 6v1M133.5 21v1M133.5 37v1M133.5 53v1M133.5 56v1M133.5 58v1M133.5 71v1M133.5 74v1M133.5 80v1M134.5 3v1M134.5 12v1M134.5 18v1M134.5 20v1M134.5 33v1M134.5 41v1M134.5 50v1M134.5 52v1M134.5 59v1M134.5 65v1M134.5 77v1M134.5 81v1M134.5 87v1M135.5 8v1M135.5 10v1M135.5 22v1M135.5 29v1M135.5 31v1M135.5 45v1M135.5 50v2M135.5 56v1M135.5 75v1M135.5 89v1M136.5 29v1M136.5 47v1M136.5 50v1M136.5 52v2M136.5 57v1M136.5 69v1M136.5 77v3M136.5 83v1M136.5 89v1M137.5 0v1M137.5 6v1M137.5 14v1M137.5 23v2M137.5 57v1M137.5 59v1M137.5 67v1M137.5 84v1M138.5 1v1M138.5 3v1M138.5 13v1M138.5 17v1M138.5 28v1M138.5 36v1M138.5 40v1M138.5 44v1M138.5 51v1M138.5 60v1M138.5 89v1M139.5 2v3M139.5 7v1M139.5 12v1M139.5 14v1M139.5 17v1M139.5 30v1M139.5 42v1M139.5 50v1M139.5 59v1M139.5 64v1M139.5 82v1M139.5 85v1"/><path stroke-opacity="0.43" d="M0.5 6v3M0.5 18v1M0.5 21v1M0.5 27v1M0.5 84v1M0.5 89v1M1.5 12v1M1.5 16v1M1.5 45v1M1.5 67v2M1.5 71v1M1.5 79v1M2.5 3v2M2.5 33v1M2.5 42v1M2.5 54v2M2.5 57v1M2.5 59v1M2.5 66v1M2.5 71v2M2.5 80v1M3.5 10v1M3.5 13v1M3.5 31v1M3.5 42v2M3.5 52v1M3.5 55v1M3.5 63v1M3.5 67v1M4.5 4v1M4.5 16v1M4.5 71v1M4.5 76v1M4.5 81v1M5.5 19v1M5.5 48v1M5.5 55v1M5.5 67v1M5.5 88v1M6.5 29v1M6.5 40v1M6.5 48v1M6.5 52v1M6.5 61v1M6.5 63v1M6.5 74v1M7.5 20v1M7.5 32v1M7.5 37v1M7.5 46v1M7.5 52v1M7.5 54v1M7.5 61v1M7.5 69v1M7.5 76v1M7.5 85v1M8.5 45v1M8.5 50v1M8.5 52v1M8.5 61v2M8.5 68v1M8.5 70v1M8.5 80v2M8.5 83v1M9.5 1v1M9.5 5v1M9.5 33v1M9.5 55v2M9.5 66v1M9.5 73v1M9.5 78v1M9.5 82v1M9.5 86v1M10.5 13v1M10.5 19v1M10.5 40v1M10.5 42v1M10.5 61v1M10.5 68v2M10.5 77v1M11.5 10v1M11.5 30v1M11.5 38v1M11.5 46v1M11.5 65v1M11.5 75v2M11.5 84v3M12.5 10v1M12.5 35v1M12.5 40v1M12.5 48v1M12.5 70v1M12.5 75v1M12.5 86v1M12.5 88v1M13.5 4v1M13.5 7v2M13.5 20v1M13.5 33v1M13.5 44v2M13.5 60v2M13.5 66v1M13.5 87v1M14.5 3v1M14.5 5v1M14.5 15v1M14.5 23v1M14.5 25v1M14.5 58v1M14.5 72v1M14.5 81v1M15.5 3v1M15.5 5v1M15.5 9v2M15.5 25v1M15.5 28v1M15.5 38v1M15.5 45v1M15.5 58v1M15.5 76v1M16.5 6v1M16.5 16v1M16.5 40v1M16.5 49v1M16.5 72v1M16.5 76v1M16.5 84v1M17.5 3v1M17.5 27v1M17.5 32v1M17.5 74v1M17.5 80v1M17.5 88v1M18.5 23v1M18.5 33v1M18.5 39v1M18.5 44v1M18.5 47v1M18.5 49v1M18.5 53v1M18.5 55v1M18.5 58v1M18.5 61v1M18.5 72v1M18.5 76v1M19.5 24v1M19.5 26v2M19.5 34v1M19.5 45v1M19.5 47v1M19.5 70v1M19.5 82v1M20.5 12v1M20.5 19v1M20.5 28v1M20.5 41v1M20.5 46v1M20.5 53v1M20.5 55v1M20.5 68v1M20.5 76v1M21.5 14v1M21.5 32v1M21.5 35v1M21.5 38v1M21.5 40v1M21.5 45v1M21.5 47v1M21.5 54v1M21.5 70v1M21.5 74v1M21.5 77v1M21.5 87v1M21.5 89v1M22.5 9v1M22.5 20v1M22.5 45v1M22.5 49v1M22.5 62v1M22.5 69v1M22.5 76v1M22.5 78v1M22.5 80v1M22.5 89v1M23.5 2v1M23.5 11v1M23.5 50v1M24.5 5v1M24.5 19v1M24.5 23v1M24.5 25v1M24.5 30v1M24.5 37v1M24.5 52v1M24.5 73v1M25.5 54v1M25.5 63v1M25.5 88v1M26.5 17v1M26.5 35v1M26.5 45v1M26.5 53v1M26.5 68v1M26.5 70v1M27.5 0v1M27.5 19v1M27.5 36v1M27.5 44v1M27.5 49v1M28.5 6v2M28.5 11v1M28.5 26v1M28.5 29v1M28.5 51v1M28.5 69v2M28.5 76v1M28.5 89v1M29.5 3v2M29.5 10v1M29.5 16v1M29.5 32v1M29.5 34v3M29.5 43v1M29.5 46v1M29.5 52v1M29.5 68v1M29.5 72v1M29.5 76v1M29.5 83v1M30.5 1v1M30.5 16v1M30.5 24v1M30.5 38v1M30.5 42v1M30.5 51v1M30.5 65v1M30.5 73v3M30.5 77v1M30.5 80v1M30.5 83v1M31.5 10v2M31.5 34v1M31.5 43v1M31.5 48v1M31.5 58v1M31.5 62v1M31.5 64v2M31.5 76v1M31.5 79v4M32.5 8v1M32.5 34v1M32.5 40v1M32.5 56v1M32.5 58v1M32.5 61v1M32.5 65v1M32.5 67v1M32.5 72v1M32.5 75v2M32.5 78v1M32.5 80v1M32.5 88v1M33.5 6v1M33.5 11v1M33.5 58v1M33.5 60v1M33.5 72v1M34.5 10v2M34.5 15v1M34.5 18v1M34.5 23v1M34.5 28v1M34.5 46v2M34.5 60v1M34.5 62v2M34.5 72v1M34.5 76v1M35.5 2v1M35.5 28v1M35.5 35v1M35.5 50v1M35.5 56v3M35.5 60v2M35.5 63v1M35.5 82v1M35.5 89v1M36.5 0v1M36.5 8v1M36.5 43v1M36.5 48v1M36.5 50v1M36.5 59v1M36.5 64v1M36.5 67v1M36.5 74v1M36.5 76v1M36.5 80v1M36.5 82v1M37.5 2v1M37.5 7v1M37.5 11v1M37.5 41v1M37.5 52v1M37.5 81v1M38.5 0v1M38.5 2v1M38.5 4v1M38.5 6v1M38.5 12v1M38.5 16v1M38.5 41v1M38.5 49v1M38.5 62v1M38.5 64v1M38.5 89v1M39.5 9v1M39.5 43v1M39.5 47v1M39.5 53v1M39.5 80v1M40.5 14v1M40.5 31v1M40.5 47v1M40.5 52v1M40.5 56v2M40.5 59v1M40.5 77v1M40.5 81v1M40.5 83v1M41.5 10v1M41.5 23v1M41.5 44v1M41.5 87v1M42.5 12v1M42.5 17v1M42.5 34v1M42.5 38v1M42.5 40v1M42.5 65v1M42.5 70v1M43.5 0v1M43.5 4v1M43.5 6v1M43.5 43v1M43.5 46v1M43.5 59v1M43.5 67v1M43.5 69v1M43.5 73v1M43.5 76v1M43.5 84v1M43.5 86v1M44.5 17v1M44.5 26v1M44.5 47v2M44.5 70v1M44.5 73v1M44.5 80v1M45.5 1v1M45.5 5v1M45.5 15v1M45.5 45v1M45.5 48v1M45.5 76v1M45.5 83v1M45.5 87v2M46.5 21v1M46.5 24v1M46.5 26v1M46.5 32v1M46.5 44v1M46.5 70v1M46.5 75v1M46.5 88v1M47.5 20v4M47.5 26v1M47.5 31v1M47.5 43v1M47.5 59v2M47.5 69v1M47.5 75v1M48.5 2v1M48.5 13v1M48.5 19v1M48.5 23v1M48.5 28v1M48.5 44v1M48.5 59v1M48.5 87v3M49.5 18v1M49.5 26v1M49.5 39v1M49.5 53v1M49.5 60v1M49.5 62v1M49.5 64v1M49.5 67v1M49.5 76v1M49.5 83v1M50.5 29v1M50.5 62v1M50.5 72v2M51.5 9v1M51.5 20v2M51.5 32v1M51.5 46v1M51.5 60v1M51.5 66v2M51.5 74v1M51.5 81v1M52.5 5v1M52.5 15v1M52.5 20v2M52.5 26v1M52.5 44v1M52.5 49v1M52.5 52v1M52.5 60v1M52.5 62v1M52.5 65v1M52.5 72v1M52.5 82v1M52.5 89v1M53.5 2v1M53.5 5v1M53.5 16v1M53.5 27v1M53.5 42v1M53.5 48v1M53.5 64v1M54.5 0v1M54.5 12v1M54.5 40v1M54.5 49v1M54.5 74v1M54.5 77v1M54.5 88v1M55.5 1v1M55.5 22v1M55.5 26v1M55.5 51v1M55.5 53v1M55.5 65v1M55.5 76v1M55.5 84v1M56.5 0v1M56.5 36v2M56.5 43v2M56.5 47v1M56.5 50v1M56.5 52v1M56.5 54v1M56.5 61v2M56.5 68v1M56.5 77v1M57.5 4v1M57.5 7v1M57.5 12v2M57.5 20v1M57.5 22v2M57.5 47v1M57.5 55v1M57.5 73v1M58.5 2v1M58.5 4v1M58.5 13v1M58.5 29v1M58.5 42v3M58.5 70v1M58.5 75v1M58.5 81v2M58.5 86v1M59.5 3v1M59.5 8v1M59.5 14v1M59.5 27v1M59.5 31v1M59.5 41v2M59.5 56v1M59.5 60v1M59.5 63v1M59.5 74v1M59.5 88v2M60.5 24v1M60.5 26v1M60.5 45v1M60.5 64v1M61.5 2v1M61.5 23v1M61.5 42v2M61.5 52v2M61.5 67v1M61.5 80v2M61.5 86v1M62.5 13v1M62.5 26v1M62.5 35v2M62.5 44v1M62.5 51v1M62.5 66v1M62.5 74v1M62.5 76v1M63.5 3v1M63.5 8v1M63.5 36v1M63.5 48v1M63.5 50v2M63.5 57v1M63.5 66v1M63.5 76v1M64.5 11v1M64.5 19v1M64.5 22v1M64.5 33v1M64.5 45v1M64.5 49v1M64.5 51v1M64.5 75v1M65.5 2v1M65.5 5v1M65.5 7v2M65.5 27v1M65.5 33v1M65.5 37v1M65.5 58v1M65.5 73v1M65.5 86v1M66.5 1v2M66.5 4v1M66.5 17v1M66.5 40v1M66.5 44v1M66.5 52v1M66.5 55v1M66.5 59v1M67.5 14v1M67.5 17v1M67.5 37v1M67.5 50v1M67.5 78v1M68.5 5v1M68.5 14v2M68.5 31v2M68.5 44v1M68.5 70v1M68.5 85v1M69.5 4v1M69.5 9v1M69.5 15v1M69.5 40v1M69.5 42v1M69.5 52v1M69.5 77v1M70.5 19v1M70.5 40v1M70.5 44v1M70.5 48v1M70.5 50v1M70.5 55v1M70.5 74v1M71.5 1v1M71.5 17v1M71.5 38v1M71.5 58v1M71.5 61v1M71.5 65v1M71.5 74v1M71.5 76v1M71.5 81v1M71.5 85v1M72.5 14v1M72.5 46v1M72.5 59v2M72.5 65v1M72.5 70v1M72.5 86v1M73.5 10v1M73.5 30v1M73.5 39v1M73.5 47v1M73.5 60v1M73.5 63v1M73.5 73v1M73.5 78v1M73.5 85v1M74.5 5v2M74.5 15v1M74.5 18v1M74.5 35v1M74.5 40v1M74.5 46v1M74.5 49v1M74.5 52v1M74.5 60v1M74.5 69v1M74.5 75v1M74.5 82v1M75.5 3v1M75.5 6v1M75.5 14v1M75.5 19v2M75.5 36v1M75.5 52v1M75.5 63v1M75.5 70v1M75.5 73v1M75.5 76v2M75.5 87v1M76.5 1v1M76.5 23v1M76.5 67v1M76.5 87v1M77.5 12v1M77.5 34v1M77.5 36v1M77.5 38v1M77.5 48v1M77.5 51v1M77.5 82v1M78.5 9v1M78.5 12v1M78.5 21v1M78.5 38v2M78.5 41v1M78.5 52v1M78.5 67v1M78.5 76v1M78.5 85v1M79.5 3v1M79.5 6v1M79.5 22v1M79.5 33v1M79.5 52v1M79.5 63v1M79.5 74v1M79.5 76v2M80.5 11v2M80.5 27v1M80.5 46v1M80.5 73v1M80.5 77v1M80.5 81v1M81.5 2v1M81.5 5v1M81.5 25v1M81.5 34v1M81.5 36v1M81.5 39v1M81.5 49v1M81.5 57v1M81.5 61v1M81.5 65v1M81.5 70v1M81.5 74v2M82.5 45v2M82.5 71v1M82.5 85v1M83.5 14v1M83.5 26v2M83.5 39v1M83.5 43v1M83.5 53v1M83.5 72v1M83.5 84v1M83.5 89v1M84.5 3v2M84.5 14v2M84.5 18v3M84.5 27v1M84.5 29v1M84.5 49v1M84.5 56v1M84.5 74v1M84.5 77v1M84.5 79v1M84.5 84v1M85.5 4v1M85.5 10v1M85.5 13v1M85.5 23v1M85.5 33v1M85.5 40v1M85.5 49v1M85.5 51v1M85.5 69v1M85.5 74v1M86.5 20v1M86.5 23v1M86.5 26v1M86.5 29v1M86.5 35v1M86.5 47v1M86.5 52v1M86.5 64v1M86.5 74v1M86.5 77v1M86.5 82v1M87.5 29v1M87.5 31v1M87.5 34v1M87.5 42v1M87.5 44v1M87.5 46v1M87.5 54v1M87.5 56v2M87.5 62v1M87.5 72v1M87.5 74v1M87.5 80v1M88.5 3v2M88.5 16v1M88.5 30v1M88.5 48v1M88.5 52v1M88.5 56v1M88.5 60v1M88.5 66v1M88.5 80v1M89.5 1v1M89.5 24v2M89.5 30v1M89.5 33v1M89.5 61v1M89.5 63v2M90.5 13v1M90.5 41v1M90.5 50v1M90.5 62v1M90.5 78v1M90.5 81v1M91.5 2v1M91.5 12v1M91.5 18v1M91.5 33v1M91.5 44v1M91.5 51v1M91.5 69v1M92.5 2v1M92.5 43v1M92.5 59v1M92.5 68v1M93.5 7v1M93.5 31v1M93.5 52v2M93.5 59v1M93.5 63v1M93.5 65v1M93.5 77v1M93.5 79v1M94.5 2v1M94.5 4v1M94.5 12v2M94.5 17v1M94.5 28v1M94.5 31v2M94.5 37v2M94.5 86v1M95.5 6v1M95.5 14v1M95.5 20v1M95.5 22v1M95.5 46v1M95.5 71v1M95.5 76v1M95.5 80v1M96.5 16v1M96.5 22v1M96.5 29v1M96.5 31v1M96.5 37v1M96.5 47v1M96.5 73v1M96.5 75v1M96.5 79v1M97.5 0v1M97.5 6v1M97.5 15v1M97.5 19v1M97.5 23v1M97.5 26v1M97.5 48v1M97.5 73v1M98.5 0v1M98.5 9v1M98.5 16v1M98.5 18v1M98.5 25v1M98.5 39v1M98.5 50v1M98.5 57v1M98.5 70v1M98.5 77v1M98.5 86v1M99.5 6v1M99.5 28v1M99.5 31v1M99.5 36v1M99.5 40v1M99.5 47v1M99.5 55v1M99.5 58v1M99.5 74v1M99.5 87v1M100.5 3v1M100.5 10v1M100.5 14v1M100.5 17v1M100.5 21v1M100.5 37v1M100.5 51v1M100.5 68v1M100.5 79v1M100.5 85v1M101.5 0v1M101.5 16v1M101.5 26v2M101.5 35v2M101.5 63v1M101.5 73v1M101.5 83v1M102.5 5v1M102.5 41v1M102.5 47v1M102.5 53v1M102.5 59v1M102.5 69v1M102.5 84v1M102.5 88v1M103.5 4v1M103.5 7v1M103.5 43v1M103.5 46v1M103.5 52v1M103.5 56v1M103.5 59v2M103.5 66v2M103.5 79v1M104.5 6v1M104.5 14v1M104.5 29v1M104.5 46v1M104.5 48v1M104.5 52v1M104.5 56v1M104.5 59v1M104.5 83v1M104.5 88v1M105.5 1v1M105.5 8v1M105.5 11v1M105.5 34v1M105.5 48v1M105.5 51v1M105.5 60v1M105.5 64v1M105.5 74v1M105.5 79v2M105.5 83v1M106.5 5v1M106.5 14v1M106.5 29v1M106.5 37v1M106.5 50v1M106.5 72v1M106.5 81v1M107.5 12v1M107.5 18v2M107.5 25v1M107.5 38v1M107.5 40v1M107.5 45v2M107.5 55v1M107.5 58v1M107.5 62v1M107.5 85v1M108.5 27v1M108.5 64v1M108.5 77v1M108.5 82v1M109.5 3v1M109.5 5v1M109.5 7v1M109.5 14v1M109.5 17v1M109.5 45v2M109.5 51v2M109.5 75v1M109.5 88v1M110.5 3v1M110.5 6v1M110.5 10v1M110.5 16v1M110.5 43v1M110.5 50v1M110.5 61v1M110.5 63v1M110.5 78v1M110.5 81v1M110.5 88v1M111.5 12v1M111.5 14v1M111.5 28v1M111.5 45v1M111.5 47v1M111.5 72v1M112.5 0v1M112.5 2v1M112.5 9v1M112.5 19v1M112.5 38v1M112.5 64v2M112.5 72v1M112.5 81v1M112.5 85v1M112.5 89v1M113.5 16v1M113.5 19v1M113.5 34v1M113.5 41v1M113.5 44v1M113.5 53v1M113.5 59v1M113.5 70v1M113.5 75v1M113.5 77v1M113.5 80v1M114.5 3v1M114.5 9v1M114.5 11v1M114.5 23v1M114.5 31v1M114.5 40v2M114.5 52v1M114.5 63v1M114.5 67v1M114.5 77v1M115.5 37v1M115.5 47v1M115.5 70v1M115.5 72v1M115.5 77v1M116.5 0v1M116.5 10v1M116.5 12v2M116.5 19v1M116.5 30v2M116.5 54v1M116.5 77v1M116.5 80v1M117.5 0v1M117.5 3v1M117.5 13v1M117.5 16v1M117.5 58v1M117.5 70v2M117.5 80v1M117.5 85v1M118.5 3v1M118.5 16v1M118.5 44v1M118.5 47v1M118.5 51v1M118.5 70v1M118.5 80v1M118.5 85v2M119.5 2v1M119.5 12v1M119.5 17v1M119.5 22v1M119.5 30v1M119.5 39v1M119.5 47v1M119.5 65v1M119.5 70v1M119.5 82v1M119.5 89v1M120.5 8v1M120.5 15v1M120.5 21v1M120.5 40v1M120.5 44v1M120.5 47v1M120.5 66v1M120.5 71v1M120.5 73v1M121.5 11v2M121.5 16v1M121.5 36v1M121.5 38v1M121.5 54v1M121.5 56v1M121.5 60v1M121.5 67v1M121.5 72v1M121.5 81v1M121.5 85v2M122.5 6v1M122.5 8v1M122.5 16v1M122.5 26v2M122.5 30v1M122.5 37v1M122.5 40v1M122.5 54v1M122.5 56v1M122.5 61v1M122.5 70v2M122.5 77v1M122.5 79v1M123.5 11v1M123.5 41v1M123.5 57v2M123.5 61v2M123.5 70v1M123.5 81v1M124.5 21v1M124.5 23v1M124.5 25v1M124.5 35v1M124.5 43v1M124.5 63v1M124.5 72v1M124.5 74v2M125.5 11v1M125.5 23v1M125.5 25v1M125.5 45v1M125.5 49v1M125.5 51v1M125.5 66v1M125.5 71v3M125.5 75v1M126.5 11v1M126.5 37v1M126.5 42v1M126.5 52v1M126.5 60v2M126.5 87v1M127.5 8v1M127.5 11v1M127.5 28v2M127.5 46v1M127.5 77v2M127.5 84v1M128.5 1v1M128.5 4v1M128.5 7v2M128.5 14v1M128.5 23v1M128.5 30v1M128.5 40v1M128.5 46v1M128.5 71v1M128.5 77v2M128.5 86v1M129.5 0v1M129.5 6v1M129.5 12v1M129.5 19v1M129.5 23v1M129.5 57v1M129.5 82v1M130.5 16v1M130.5 19v1M130.5 29v1M130.5 66v1M130.5 80v1M131.5 9v1M131.5 14v1M131.5 43v1M131.5 46v1M131.5 48v1M131.5 57v1M132.5 11v1M132.5 19v1M132.5 21v1M132.5 23v2M132.5 32v1M132.5 38v1M132.5 41v1M132.5 44v2M132.5 70v1M132.5 82v1M133.5 1v1M133.5 9v1M133.5 22v1M133.5 28v1M133.5 31v1M133.5 42v1M133.5 54v1M133.5 62v1M133.5 84v1M134.5 6v1M134.5 14v1M134.5 16v1M134.5 19v1M134.5 25v1M134.5 34v1M134.5 36v2M134.5 39v1M134.5 62v1M134.5 74v1M134.5 86v1M134.5 88v1M135.5 3v2M135.5 20v1M135.5 42v1M135.5 68v2M135.5 78v1M135.5 83v1M135.5 87v1M136.5 5v3M136.5 22v1M136.5 26v1M136.5 73v1M136.5 85v1M137.5 17v2M137.5 26v1M137.5 54v1M137.5 62v1M138.5 4v1M138.5 26v1M138.5 77v1M139.5 25v1M139.5 37v1M139.5 46v1M139.5 52v1M139.5 63v1M139.5 75v1M139.5 83v2"/><path stroke-opacity="0.31" d="M0.5 3v1M0.5 9v1M0.5 12v1M0.5 14v1M0.5 16v1M0.5 20v1M0.5 31v2M0.5 43v1M0.5 45v1M0.5 47v2M0.5 57v1M0.5 63v1M0.5 66v1M0.5 73v1M0.5 76v1M0.5 81v1M1.5 3v1M1.5 11v1M1.5 33v1M1.5 36v1M1.5 49v2M1.5 64v1M1.5 78v1M1.5 80v4M2.5 5v2M2.5 48v2M2.5 53v1M2.5 60v3M2.5 82v2M3.5 0v2M3.5 7v1M3.5 15v1M3.5 18v1M3.5 21v2M3.5 24v2M3.5 27v1M3.5 29v1M3.5 35v1M3.5 39v2M3.5 47v1M3.5 49v1M3.5 59v1M3.5 65v1M3.5 68v2M3.5 75v1M3.5 84v1M4.5 5v1M4.5 32v1M4.5 46v1M4.5 55v1M4.5 60v1M4.5 62v1M4.5 73v1M4.5 75v1M4.5 77v1M4.5 79v1M4.5 85v1M5.5 2v1M5.5 4v1M5.5 6v1M5.5 11v1M5.5 22v1M5.5 25v2M5.5 30v1M5.5 33v2M5.5 37v1M5.5 54v1M5.5 62v1M5.5 69v2M5.5 76v1M5.5 83v1M6.5 6v1M6.5 18v1M6.5 26v1M6.5 30v4M6.5 37v2M6.5 42v1M6.5 67v1M6.5 71v3M6.5 82v1M6.5 87v1M7.5 6v1M7.5 10v1M7.5 38v1M7.5 40v3M7.5 48v1M7.5 56v1M7.5 66v1M7.5 68v1M7.5 70v1M7.5 72v1M7.5 75v1M7.5 79v1M7.5 81v1M7.5 83v1M8.5 2v2M8.5 9v1M8.5 13v1M8.5 16v1M8.5 26v2M8.5 29v2M8.5 32v2M8.5 36v3M8.5 51v1M8.5 58v2M8.5 66v2M8.5 79v1M8.5 82v1M8.5 87v1M9.5 8v1M9.5 17v2M9.5 20v1M9.5 28v3M9.5 35v1M9.5 42v1M9.5 70v1M9.5 81v1M9.5 83v1M10.5 1v1M10.5 5v2M10.5 16v2M10.5 29v1M10.5 31v1M10.5 36v1M10.5 41v1M10.5 50v1M10.5 52v1M10.5 55v1M10.5 58v1M10.5 72v1M10.5 74v1M10.5 83v1M11.5 23v1M11.5 27v1M11.5 31v1M11.5 41v3M11.5 51v1M11.5 60v1M11.5 64v1M11.5 72v1M11.5 74v1M11.5 83v1M11.5 88v1M12.5 1v1M12.5 4v1M12.5 6v1M12.5 8v1M12.5 18v1M12.5 20v1M12.5 29v1M12.5 31v1M12.5 43v1M12.5 46v1M12.5 50v3M12.5 58v1M12.5 63v1M12.5 66v1M12.5 68v1M12.5 74v1M12.5 76v1M13.5 2v2M13.5 10v1M13.5 13v1M13.5 21v1M13.5 29v1M13.5 31v2M13.5 46v1M13.5 49v2M13.5 52v1M13.5 59v1M13.5 72v2M13.5 81v1M13.5 88v1M14.5 1v1M14.5 17v1M14.5 24v1M14.5 26v1M14.5 36v1M14.5 41v1M14.5 48v1M14.5 52v2M14.5 57v1M14.5 62v1M14.5 67v1M14.5 70v1M14.5 75v1M14.5 77v2M15.5 12v1M15.5 15v1M15.5 27v1M15.5 30v1M15.5 40v1M15.5 42v1M15.5 55v1M15.5 63v1M15.5 70v1M15.5 84v1M15.5 87v1M16.5 0v2M16.5 4v1M16.5 8v1M16.5 12v1M16.5 20v1M16.5 23v2M16.5 27v1M16.5 34v1M16.5 41v1M16.5 53v1M16.5 68v1M16.5 81v3M16.5 86v2M17.5 0v1M17.5 9v1M17.5 16v1M17.5 26v1M17.5 56v1M17.5 63v2M17.5 69v2M17.5 72v1M18.5 1v1M18.5 6v1M18.5 16v1M18.5 22v1M18.5 25v1M18.5 28v1M18.5 32v1M18.5 41v1M18.5 51v1M18.5 54v1M18.5 70v1M18.5 78v2M18.5 84v1M18.5 89v1M19.5 0v2M19.5 6v1M19.5 12v2M19.5 15v2M19.5 38v1M19.5 40v2M19.5 48v1M19.5 53v1M19.5 60v1M19.5 68v1M19.5 73v1M19.5 78v1M20.5 17v1M20.5 22v1M20.5 26v1M20.5 37v4M20.5 44v1M20.5 47v1M20.5 49v1M20.5 52v1M20.5 65v3M20.5 70v1M20.5 72v1M20.5 74v2M20.5 81v1M20.5 84v1M20.5 87v1M21.5 0v1M21.5 2v2M21.5 12v1M21.5 15v1M21.5 20v1M21.5 23v1M21.5 56v1M21.5 63v1M21.5 68v1M21.5 73v1M21.5 75v2M21.5 80v1M21.5 83v1M21.5 88v1M22.5 1v3M22.5 12v1M22.5 22v1M22.5 27v1M22.5 32v1M22.5 36v2M22.5 48v1M22.5 51v2M22.5 54v1M22.5 57v1M22.5 74v1M22.5 82v1M22.5 84v1M23.5 1v1M23.5 3v2M23.5 9v1M23.5 12v1M23.5 24v1M23.5 42v2M23.5 47v1M23.5 51v2M23.5 64v1M23.5 68v1M23.5 72v2M23.5 75v1M23.5 89v1M24.5 1v1M24.5 13v1M24.5 15v2M24.5 35v1M24.5 49v3M24.5 61v1M24.5 65v1M24.5 69v1M24.5 87v1M25.5 2v1M25.5 17v1M25.5 19v1M25.5 22v1M25.5 30v1M25.5 35v2M25.5 38v3M25.5 55v2M25.5 58v1M25.5 61v1M25.5 67v1M25.5 70v1M25.5 73v1M25.5 82v2M25.5 85v3M25.5 89v1M26.5 5v1M26.5 12v1M26.5 22v2M26.5 27v1M26.5 32v1M26.5 42v1M26.5 44v1M26.5 48v1M26.5 51v1M26.5 61v1M26.5 63v1M26.5 65v2M26.5 72v2M26.5 76v1M26.5 79v1M26.5 85v1M26.5 87v1M27.5 2v2M27.5 6v2M27.5 18v1M27.5 41v1M27.5 46v1M27.5 57v1M27.5 63v2M27.5 67v1M27.5 71v1M27.5 75v2M27.5 84v1M28.5 1v1M28.5 8v1M28.5 23v1M28.5 27v1M28.5 45v1M28.5 50v1M28.5 52v1M28.5 55v2M28.5 60v1M28.5 62v1M28.5 65v1M28.5 67v1M29.5 7v1M29.5 13v1M29.5 15v1M29.5 23v1M29.5 31v1M29.5 51v1M29.5 62v1M29.5 75v1M29.5 88v1M30.5 10v1M30.5 12v1M30.5 15v1M30.5 25v1M30.5 28v1M30.5 32v2M30.5 39v1M30.5 48v1M30.5 60v1M30.5 63v2M30.5 69v1M30.5 81v1M30.5 84v1M31.5 25v1M31.5 28v2M31.5 31v1M31.5 37v1M31.5 39v1M31.5 45v2M31.5 50v1M31.5 68v1M31.5 73v1M31.5 83v1M31.5 86v2M31.5 89v1M32.5 0v1M32.5 4v3M32.5 11v1M32.5 13v2M32.5 28v1M32.5 35v1M32.5 39v1M32.5 49v1M32.5 60v1M32.5 71v1M32.5 77v1M33.5 1v2M33.5 10v1M33.5 13v1M33.5 17v2M33.5 22v1M33.5 25v1M33.5 32v1M33.5 36v1M33.5 42v2M33.5 46v2M33.5 56v1M33.5 59v1M33.5 63v1M33.5 69v1M33.5 73v1M33.5 86v1M34.5 2v2M34.5 6v2M34.5 20v1M34.5 26v1M34.5 29v1M34.5 31v1M34.5 41v1M34.5 43v2M34.5 50v1M34.5 55v1M34.5 57v2M34.5 61v1M34.5 64v1M34.5 68v1M34.5 81v2M34.5 89v1M35.5 3v1M35.5 9v3M35.5 18v2M35.5 30v2M35.5 33v1M35.5 38v1M35.5 44v1M35.5 62v1M35.5 66v1M35.5 74v1M35.5 81v1M36.5 2v1M36.5 22v3M36.5 34v1M36.5 37v1M36.5 47v1M36.5 60v1M36.5 62v1M36.5 77v2M36.5 86v1M37.5 8v3M37.5 21v1M37.5 23v1M37.5 28v1M37.5 36v1M37.5 42v1M37.5 45v1M37.5 48v1M37.5 61v1M37.5 65v2M37.5 74v1M37.5 79v1M37.5 82v1M37.5 86v1M37.5 88v1M38.5 9v1M38.5 15v1M38.5 17v1M38.5 19v1M38.5 22v1M38.5 36v1M38.5 39v2M38.5 45v1M38.5 47v1M38.5 59v1M38.5 66v2M38.5 70v1M38.5 76v1M38.5 85v1M38.5 87v1M39.5 0v2M39.5 6v1M39.5 16v1M39.5 20v1M39.5 39v1M39.5 45v1M39.5 56v2M39.5 59v1M39.5 64v1M39.5 67v2M39.5 74v1M39.5 76v1M39.5 78v1M40.5 6v1M40.5 11v1M40.5 19v1M40.5 23v3M40.5 41v1M40.5 44v1M40.5 50v1M40.5 53v1M40.5 58v1M40.5 70v1M40.5 73v3M40.5 78v1M40.5 89v1M41.5 4v1M41.5 6v1M41.5 11v1M41.5 14v1M41.5 18v1M41.5 20v1M41.5 24v2M41.5 42v1M41.5 49v1M41.5 52v2M41.5 60v1M41.5 64v1M41.5 66v2M41.5 73v1M41.5 78v1M41.5 84v1M42.5 3v1M42.5 6v1M42.5 8v1M42.5 15v1M42.5 19v1M42.5 21v1M42.5 27v2M42.5 48v1M42.5 71v1M42.5 75v3M42.5 82v1M43.5 2v1M43.5 5v1M43.5 15v1M43.5 18v1M43.5 25v1M43.5 35v2M43.5 45v1M43.5 47v4M43.5 52v2M43.5 55v1M43.5 64v1M43.5 71v1M43.5 79v1M43.5 83v1M43.5 85v1M44.5 7v1M44.5 12v4M44.5 22v1M44.5 32v1M44.5 35v1M44.5 43v1M44.5 54v1M44.5 59v1M44.5 67v1M44.5 76v1M44.5 78v1M44.5 83v2M44.5 86v1M44.5 88v1M45.5 4v1M45.5 6v2M45.5 9v1M45.5 11v1M45.5 21v1M45.5 31v1M45.5 33v1M45.5 35v1M45.5 38v1M45.5 44v1M45.5 46v1M45.5 59v1M45.5 64v1M45.5 68v1M45.5 73v1M45.5 78v1M45.5 80v2M46.5 2v1M46.5 6v1M46.5 10v2M46.5 14v3M46.5 18v1M46.5 27v1M46.5 35v1M46.5 39v2M46.5 58v2M46.5 68v2M46.5 72v2M46.5 86v1M47.5 0v1M47.5 13v2M47.5 17v1M47.5 27v1M47.5 29v1M47.5 34v1M47.5 42v1M47.5 48v1M47.5 56v1M47.5 64v1M47.5 66v1M47.5 70v2M47.5 76v2M47.5 80v2M47.5 83v1M47.5 88v1M48.5 20v2M48.5 29v1M48.5 34v2M48.5 39v1M48.5 41v3M48.5 51v2M48.5 62v1M48.5 71v1M48.5 81v1M48.5 83v1M48.5 85v1M49.5 16v1M49.5 19v1M49.5 25v1M49.5 32v1M49.5 41v2M49.5 59v1M49.5 65v1M49.5 71v2M49.5 82v1M50.5 4v1M50.5 25v1M50.5 35v1M50.5 46v2M50.5 58v2M50.5 61v1M50.5 63v1M50.5 65v2M50.5 74v1M50.5 80v1M50.5 82v1M50.5 87v2M51.5 3v1M51.5 13v1M51.5 15v1M51.5 22v1M51.5 24v1M51.5 29v2M51.5 34v1M51.5 41v1M51.5 43v2M51.5 49v1M51.5 51v1M51.5 57v1M51.5 59v1M51.5 87v1M52.5 0v1M52.5 11v2M52.5 23v1M52.5 45v1M52.5 48v1M52.5 69v3M52.5 73v1M52.5 83v1M52.5 86v1M53.5 0v2M53.5 4v1M53.5 9v1M53.5 12v2M53.5 15v1M53.5 49v1M53.5 55v1M53.5 57v1M53.5 59v1M53.5 71v1M53.5 77v1M53.5 82v1M53.5 84v1M54.5 1v2M54.5 4v2M54.5 8v2M54.5 15v1M54.5 19v1M54.5 21v1M54.5 24v1M54.5 26v1M54.5 29v2M54.5 53v1M54.5 55v3M54.5 59v1M54.5 63v3M54.5 69v1M54.5 73v1M54.5 89v1M55.5 3v1M55.5 7v1M55.5 21v1M55.5 25v1M55.5 30v1M55.5 32v1M55.5 39v4M55.5 45v3M55.5 50v1M55.5 52v1M55.5 54v3M55.5 60v2M55.5 67v1M55.5 69v1M55.5 71v1M56.5 14v1M56.5 25v1M56.5 31v1M56.5 35v1M56.5 45v1M56.5 60v1M56.5 67v1M56.5 70v2M56.5 73v1M56.5 78v1M56.5 83v2M56.5 88v2M57.5 11v1M57.5 14v1M57.5 16v1M57.5 30v1M57.5 35v1M57.5 41v1M57.5 64v2M57.5 69v1M57.5 71v1M57.5 74v1M57.5 77v1M57.5 83v1M57.5 85v1M58.5 1v1M58.5 8v1M58.5 18v1M58.5 20v1M58.5 23v2M58.5 26v1M58.5 35v1M58.5 41v1M58.5 45v1M58.5 55v1M58.5 57v1M58.5 63v1M58.5 72v1M58.5 83v2M58.5 87v1M59.5 6v1M59.5 13v1M59.5 16v2M59.5 28v1M59.5 30v1M59.5 36v1M59.5 38v1M59.5 43v1M59.5 51v1M59.5 54v2M59.5 68v3M59.5 84v1M60.5 3v1M60.5 10v2M60.5 16v2M60.5 19v1M60.5 23v1M60.5 31v1M60.5 42v1M60.5 46v1M60.5 51v2M60.5 65v2M60.5 74v1M60.5 76v2M60.5 80v1M60.5 83v1M60.5 86v1M60.5 89v1M61.5 11v2M61.5 15v1M61.5 17v2M61.5 33v1M61.5 44v1M61.5 51v1M61.5 54v2M61.5 66v1M61.5 78v1M61.5 83v1M61.5 88v1M62.5 4v2M62.5 8v1M62.5 11v1M62.5 29v1M62.5 33v1M62.5 37v1M62.5 39v1M62.5 48v2M62.5 58v1M62.5 60v1M62.5 62v1M62.5 70v1M62.5 75v1M62.5 78v1M62.5 85v2M63.5 10v1M63.5 17v1M63.5 24v1M63.5 26v2M63.5 35v1M63.5 37v1M63.5 42v1M63.5 45v3M63.5 49v1M63.5 60v1M63.5 64v1M63.5 73v3M63.5 83v1M64.5 9v1M64.5 16v1M64.5 23v2M64.5 26v2M64.5 29v1M64.5 39v1M64.5 41v1M64.5 43v1M64.5 50v1M64.5 66v2M64.5 71v1M64.5 74v1M64.5 77v1M65.5 6v1M65.5 14v1M65.5 17v1M65.5 24v2M65.5 32v1M65.5 43v1M65.5 63v1M65.5 75v1M65.5 78v1M65.5 82v1M65.5 85v1M65.5 88v1M66.5 3v1M66.5 8v2M66.5 12v1M66.5 16v1M66.5 21v2M66.5 27v1M66.5 29v2M66.5 34v1M66.5 46v2M66.5 51v1M66.5 56v1M66.5 64v1M66.5 71v1M67.5 9v3M67.5 13v1M67.5 15v2M67.5 22v2M67.5 25v1M67.5 32v1M67.5 38v3M67.5 44v1M67.5 47v1M67.5 54v1M67.5 61v1M67.5 70v1M67.5 79v1M67.5 87v1M68.5 3v1M68.5 6v1M68.5 9v1M68.5 18v1M68.5 43v1M68.5 48v2M68.5 51v2M68.5 54v1M68.5 60v3M68.5 65v1M68.5 76v2M68.5 79v1M68.5 82v1M68.5 86v2M69.5 2v1M69.5 5v1M69.5 11v1M69.5 34v2M69.5 37v2M69.5 41v1M69.5 48v1M69.5 56v1M69.5 65v1M69.5 88v2M70.5 0v1M70.5 8v1M70.5 13v1M70.5 15v1M70.5 17v1M70.5 20v1M70.5 31v1M70.5 37v2M70.5 41v1M70.5 49v1M70.5 61v2M70.5 66v1M70.5 76v1M70.5 82v1M70.5 84v2M71.5 2v1M71.5 6v2M71.5 10v1M71.5 14v2M71.5 23v2M71.5 29v1M71.5 35v1M71.5 46v1M71.5 67v1M71.5 72v1M71.5 75v1M71.5 84v1M72.5 2v1M72.5 11v1M72.5 13v1M72.5 16v3M72.5 25v1M72.5 33v1M72.5 39v1M72.5 42v1M72.5 47v1M72.5 51v2M72.5 66v1M72.5 68v1M72.5 74v1M72.5 80v1M72.5 82v1M72.5 88v1M73.5 0v1M73.5 5v3M73.5 13v2M73.5 17v1M73.5 23v1M73.5 40v2M73.5 45v2M73.5 49v1M73.5 52v1M73.5 59v1M73.5 64v1M73.5 66v2M73.5 82v1M73.5 84v1M73.5 88v2M74.5 10v1M74.5 13v2M74.5 17v1M74.5 21v1M74.5 24v1M74.5 26v1M74.5 29v1M74.5 33v1M74.5 39v1M74.5 47v2M74.5 55v1M74.5 58v1M74.5 61v1M74.5 64v3M74.5 73v1M74.5 83v4M75.5 5v1M75.5 13v1M75.5 15v3M75.5 25v3M75.5 31v1M75.5 35v1M75.5 39v1M75.5 42v1M75.5 44v1M75.5 53v1M75.5 65v3M75.5 72v1M75.5 78v1M76.5 9v1M76.5 13v2M76.5 28v1M76.5 31v1M76.5 36v1M76.5 38v1M76.5 42v1M76.5 52v1M76.5 61v1M76.5 63v1M76.5 66v1M76.5 71v1M77.5 1v2M77.5 13v1M77.5 26v1M77.5 31v2M77.5 42v1M77.5 45v1M77.5 49v1M77.5 60v1M77.5 62v1M77.5 81v1M77.5 89v1M78.5 4v1M78.5 6v1M78.5 10v1M78.5 16v1M78.5 19v1M78.5 23v1M78.5 26v1M78.5 28v1M78.5 31v1M78.5 42v2M78.5 54v1M78.5 59v1M78.5 64v1M78.5 71v1M79.5 5v1M79.5 11v1M79.5 16v2M79.5 20v1M79.5 24v1M79.5 32v1M79.5 37v2M79.5 41v1M79.5 47v1M79.5 57v1M79.5 65v1M79.5 70v1M79.5 78v1M79.5 81v1M79.5 83v2M79.5 88v1M80.5 3v1M80.5 10v1M80.5 16v1M80.5 22v1M80.5 31v1M80.5 43v1M80.5 65v1M80.5 71v2M80.5 84v1M81.5 7v1M81.5 9v2M81.5 15v1M81.5 27v1M81.5 37v1M81.5 40v1M81.5 43v2M81.5 50v1M81.5 52v1M81.5 58v1M81.5 71v1M81.5 84v2M81.5 87v1M81.5 89v1M82.5 3v2M82.5 7v1M82.5 11v2M82.5 20v1M82.5 36v2M82.5 41v2M82.5 51v1M82.5 53v1M82.5 58v2M82.5 65v1M82.5 81v1M82.5 84v1M83.5 4v1M83.5 10v1M83.5 13v1M83.5 18v1M83.5 32v1M83.5 40v1M83.5 45v1M83.5 62v1M83.5 64v1M83.5 69v2M83.5 77v1M83.5 81v1M83.5 87v1M84.5 6v1M84.5 11v1M84.5 16v1M84.5 24v1M84.5 26v1M84.5 30v1M84.5 34v2M84.5 41v1M84.5 47v1M84.5 50v1M84.5 58v1M84.5 64v2M84.5 71v1M84.5 75v1M84.5 81v2M84.5 85v2M85.5 1v1M85.5 12v1M85.5 24v1M85.5 28v2M85.5 36v3M85.5 42v1M85.5 55v1M85.5 61v1M85.5 66v1M85.5 71v2M85.5 75v1M85.5 78v1M85.5 87v1M86.5 1v1M86.5 4v2M86.5 9v1M86.5 13v1M86.5 21v1M86.5 27v1M86.5 32v1M86.5 42v1M86.5 44v1M86.5 49v1M86.5 55v1M86.5 58v2M86.5 62v1M86.5 66v1M87.5 1v1M87.5 3v1M87.5 5v2M87.5 9v1M87.5 11v2M87.5 18v2M87.5 23v1M87.5 27v1M87.5 30v1M87.5 32v1M87.5 41v1M87.5 52v1M87.5 64v1M87.5 83v2M88.5 24v2M88.5 29v1M88.5 35v2M88.5 42v1M88.5 55v1M88.5 82v1M89.5 3v1M89.5 5v1M89.5 13v1M89.5 23v1M89.5 29v1M89.5 31v1M89.5 35v1M89.5 42v1M89.5 45v1M89.5 56v1M89.5 75v1M89.5 77v1M89.5 79v1M89.5 86v1M89.5 88v2M90.5 4v2M90.5 9v1M90.5 11v2M90.5 32v1M90.5 34v1M90.5 36v1M90.5 45v1M90.5 56v1M90.5 60v1M90.5 63v1M90.5 66v1M90.5 77v1M90.5 85v1M91.5 0v1M91.5 13v1M91.5 22v2M91.5 36v1M91.5 39v2M91.5 42v2M91.5 52v2M91.5 56v1M91.5 65v2M91.5 68v1M91.5 70v1M91.5 76v2M92.5 9v1M92.5 16v1M92.5 18v1M92.5 21v1M92.5 29v2M92.5 47v1M92.5 53v1M92.5 62v1M92.5 65v1M92.5 72v1M92.5 74v3M92.5 85v2M92.5 89v1M93.5 2v1M93.5 6v1M93.5 8v1M93.5 12v1M93.5 17v1M93.5 22v1M93.5 37v1M93.5 41v3M93.5 55v1M93.5 62v1M93.5 67v1M93.5 75v1M93.5 82v2M94.5 9v1M94.5 15v1M94.5 30v1M94.5 34v1M94.5 42v1M94.5 44v1M94.5 62v1M94.5 66v1M94.5 69v1M94.5 79v1M94.5 82v2M95.5 8v1M95.5 10v1M95.5 13v1M95.5 16v1M95.5 27v1M95.5 41v1M95.5 56v2M95.5 61v1M95.5 64v2M95.5 69v1M95.5 78v1M95.5 83v1M96.5 4v1M96.5 6v6M96.5 14v2M96.5 17v1M96.5 21v1M96.5 23v1M96.5 28v1M96.5 34v1M96.5 43v1M96.5 51v1M96.5 57v1M96.5 59v1M96.5 63v1M96.5 66v1M96.5 70v1M96.5 74v1M96.5 77v1M96.5 81v2M97.5 3v1M97.5 11v1M97.5 20v2M97.5 30v1M97.5 39v1M97.5 42v2M97.5 46v1M97.5 51v1M97.5 53v1M97.5 63v1M97.5 65v2M97.5 69v1M97.5 72v1M97.5 74v1M97.5 77v2M97.5 86v1M97.5 88v1M98.5 21v1M98.5 33v1M98.5 37v1M98.5 40v1M98.5 52v2M98.5 69v1M98.5 78v1M98.5 82v1M98.5 85v1M99.5 0v2M99.5 15v1M99.5 23v2M99.5 29v1M99.5 35v1M99.5 41v2M99.5 44v1M99.5 50v5M99.5 56v2M99.5 85v1M99.5 89v1M100.5 2v1M100.5 7v1M100.5 9v1M100.5 24v1M100.5 26v1M100.5 30v1M100.5 35v1M100.5 43v2M100.5 50v1M100.5 52v1M100.5 56v1M100.5 65v1M100.5 69v1M100.5 86v1M101.5 3v3M101.5 7v1M101.5 17v1M101.5 30v3M101.5 38v1M101.5 51v1M101.5 57v1M101.5 67v1M101.5 69v1M101.5 71v1M101.5 77v1M101.5 87v1M101.5 89v1M102.5 1v2M102.5 10v1M102.5 23v1M102.5 26v1M102.5 32v1M102.5 35v1M102.5 37v1M102.5 40v1M102.5 43v1M102.5 45v1M102.5 52v1M102.5 54v1M102.5 56v1M102.5 65v1M102.5 68v1M102.5 75v1M102.5 78v2M102.5 85v3M103.5 0v1M103.5 9v1M103.5 14v2M103.5 26v1M103.5 33v1M103.5 44v1M103.5 47v1M103.5 49v1M103.5 74v1M103.5 76v1M103.5 83v1M103.5 86v1M103.5 89v1M104.5 0v1M104.5 4v1M104.5 13v1M104.5 23v1M104.5 30v1M104.5 34v1M104.5 39v1M104.5 43v2M104.5 53v1M104.5 73v5M104.5 84v1M105.5 5v1M105.5 10v1M105.5 12v1M105.5 20v1M105.5 33v1M105.5 41v1M105.5 55v1M105.5 59v1M105.5 63v1M105.5 66v1M105.5 71v1M105.5 77v1M105.5 84v1M105.5 86v1M105.5 88v1M106.5 1v1M106.5 4v1M106.5 12v1M106.5 36v1M106.5 46v1M106.5 58v3M106.5 68v1M106.5 82v1M106.5 87v1M107.5 22v1M107.5 29v2M107.5 56v1M107.5 70v1M107.5 73v1M107.5 78v1M107.5 81v1M107.5 84v1M107.5 86v1M108.5 17v1M108.5 20v2M108.5 24v1M108.5 28v1M108.5 30v1M108.5 33v3M108.5 44v1M108.5 46v1M108.5 54v1M108.5 73v1M108.5 76v1M108.5 84v1M108.5 87v3M109.5 0v1M109.5 2v1M109.5 8v1M109.5 18v1M109.5 21v1M109.5 23v2M109.5 27v1M109.5 35v1M109.5 53v1M109.5 71v1M109.5 87v1M110.5 14v1M110.5 18v1M110.5 20v1M110.5 33v1M110.5 35v1M110.5 45v1M110.5 51v3M110.5 58v2M110.5 64v1M110.5 67v2M110.5 70v1M110.5 84v1M110.5 86v1M111.5 16v1M111.5 18v1M111.5 32v2M111.5 37v1M111.5 50v1M111.5 59v1M111.5 62v1M111.5 76v2M111.5 89v1M112.5 3v1M112.5 7v2M112.5 12v1M112.5 24v1M112.5 34v1M112.5 37v1M112.5 40v2M112.5 46v2M112.5 59v1M112.5 76v1M112.5 83v1M112.5 86v1M112.5 88v1M113.5 5v2M113.5 9v1M113.5 22v1M113.5 27v1M113.5 32v1M113.5 35v1M113.5 38v1M113.5 40v1M113.5 52v1M113.5 60v1M113.5 66v1M113.5 76v1M113.5 81v1M114.5 4v1M114.5 6v1M114.5 8v1M114.5 14v2M114.5 34v1M114.5 38v1M114.5 49v1M114.5 53v3M114.5 58v2M114.5 72v1M114.5 74v1M114.5 79v1M114.5 82v1M115.5 4v1M115.5 6v1M115.5 12v3M115.5 19v1M115.5 55v1M115.5 58v1M115.5 67v2M115.5 76v1M115.5 88v1M116.5 1v1M116.5 4v1M116.5 23v2M116.5 33v1M116.5 44v1M116.5 50v2M116.5 55v1M116.5 58v1M116.5 65v2M116.5 68v1M116.5 74v1M116.5 76v1M116.5 78v1M116.5 83v2M117.5 1v1M117.5 7v1M117.5 22v1M117.5 32v1M117.5 34v1M117.5 53v2M117.5 59v1M117.5 73v1M117.5 76v1M117.5 78v1M117.5 81v3M117.5 86v1M117.5 89v1M118.5 13v1M118.5 17v1M118.5 19v1M118.5 21v1M118.5 24v1M118.5 31v4M118.5 39v1M118.5 42v1M118.5 49v1M118.5 55v1M118.5 63v1M118.5 69v1M118.5 73v4M118.5 78v1M118.5 87v1M119.5 7v1M119.5 10v1M119.5 15v1M119.5 18v1M119.5 20v1M119.5 28v1M119.5 32v1M119.5 40v2M119.5 43v1M119.5 56v1M119.5 60v1M119.5 66v1M119.5 73v1M119.5 75v1M120.5 3v1M120.5 20v1M120.5 28v2M120.5 31v2M120.5 35v1M120.5 37v1M120.5 41v1M120.5 53v2M120.5 56v2M120.5 59v1M120.5 72v1M120.5 74v1M120.5 79v1M120.5 81v1M120.5 83v2M121.5 0v1M121.5 2v1M121.5 7v2M121.5 10v1M121.5 21v1M121.5 31v1M121.5 34v1M121.5 37v1M121.5 41v2M121.5 48v2M121.5 55v1M121.5 57v1M121.5 59v1M121.5 61v1M121.5 64v1M121.5 79v1M121.5 89v1M122.5 2v1M122.5 5v1M122.5 14v1M122.5 19v2M122.5 28v2M122.5 35v1M122.5 45v3M122.5 55v1M122.5 57v1M122.5 62v1M122.5 74v1M122.5 85v1M123.5 3v3M123.5 7v1M123.5 19v1M123.5 27v1M123.5 39v1M123.5 44v1M123.5 63v1M123.5 65v1M123.5 76v1M124.5 2v1M124.5 5v1M124.5 10v1M124.5 40v3M124.5 45v1M124.5 49v1M124.5 52v1M124.5 56v1M124.5 71v1M124.5 78v1M125.5 2v1M125.5 5v1M125.5 7v2M125.5 16v1M125.5 19v1M125.5 24v1M125.5 54v1M125.5 63v1M125.5 65v1M125.5 74v1M125.5 82v1M125.5 86v1M126.5 0v1M126.5 9v1M126.5 18v1M126.5 20v1M126.5 45v1M126.5 49v1M126.5 51v1M126.5 54v1M126.5 57v1M126.5 66v1M126.5 71v1M126.5 76v1M126.5 78v1M126.5 82v2M126.5 86v1M127.5 4v1M127.5 9v1M127.5 13v1M127.5 26v1M127.5 32v1M127.5 34v1M127.5 48v2M127.5 67v1M127.5 71v1M127.5 82v2M127.5 85v3M128.5 0v1M128.5 26v2M128.5 41v1M128.5 49v2M128.5 62v1M128.5 65v3M128.5 72v1M128.5 81v4M129.5 10v1M129.5 16v1M129.5 24v2M129.5 32v1M129.5 47v3M129.5 61v1M129.5 67v1M129.5 69v1M129.5 87v1M130.5 0v1M130.5 2v3M130.5 7v1M130.5 10v1M130.5 25v1M130.5 30v1M130.5 32v1M130.5 40v1M130.5 46v3M130.5 51v1M130.5 62v2M130.5 68v1M130.5 71v1M130.5 73v1M130.5 77v1M130.5 82v1M130.5 84v1M130.5 86v1M131.5 8v1M131.5 15v1M131.5 21v1M131.5 31v1M131.5 33v1M131.5 40v1M131.5 42v1M131.5 49v1M131.5 53v3M131.5 62v2M131.5 67v1M131.5 69v1M131.5 71v1M131.5 82v3M131.5 87v1M132.5 2v1M132.5 4v2M132.5 10v1M132.5 27v2M132.5 31v1M132.5 34v2M132.5 39v1M132.5 43v1M132.5 47v1M132.5 49v1M132.5 51v1M132.5 62v1M132.5 65v1M132.5 83v1M132.5 85v1M133.5 2v1M133.5 4v1M133.5 18v1M133.5 23v1M133.5 29v1M133.5 39v1M133.5 44v1M133.5 46v4M133.5 75v1M133.5 79v1M133.5 86v3M134.5 1v1M134.5 5v1M134.5 27v1M134.5 40v1M134.5 42v1M134.5 45v1M134.5 47v2M134.5 51v1M134.5 53v1M134.5 55v2M134.5 63v1M134.5 68v1M134.5 73v1M134.5 84v1M135.5 0v1M135.5 5v1M135.5 9v1M135.5 11v3M135.5 17v1M135.5 28v1M135.5 32v1M135.5 34v1M135.5 57v1M135.5 60v3M135.5 64v1M135.5 71v1M135.5 74v1M135.5 76v1M135.5 86v1M136.5 0v2M136.5 4v1M136.5 8v1M136.5 23v1M136.5 32v1M136.5 60v1M136.5 64v1M136.5 66v3M136.5 74v3M136.5 80v1M136.5 88v1M137.5 5v1M137.5 7v1M137.5 27v2M137.5 35v1M137.5 37v1M137.5 39v1M137.5 41v3M137.5 52v1M137.5 68v1M137.5 70v2M137.5 73v1M137.5 83v1M138.5 8v1M138.5 18v1M138.5 27v1M138.5 30v2M138.5 39v1M138.5 41v1M138.5 53v1M138.5 56v1M138.5 68v1M138.5 71v1M138.5 82v1M138.5 85v1M138.5 87v1M139.5 11v1M139.5 18v2M139.5 24v1M139.5 27v1M139.5 32v1M139.5 39v1M139.5 65v2M139.5 72v2M139.5 77v1M139.5 79v1"/><path stroke-opacity="0.17" d="M0.5 11v1M0.5 15v1M0.5 19v1M0.5 22v4M0.5 34v1M0.5 41v1M0.5 51v2M0.5 64v2M0.5 67v2M0.5 70v1M0.5 74v2M0.5 77v1M0.5 82v1M0.5 86v1M1.5 6v2M1.5 10v1M1.5 18v1M1.5 22v1M1.5 24v1M1.5 26v3M1.5 31v1M1.5 39v1M1.5 42v1M1.5 47v2M1.5 51v3M1.5 57v3M1.5 62v1M1.5 65v1M1.5 70v1M1.5 74v1M1.5 84v1M2.5 2v1M2.5 16v1M2.5 18v1M2.5 20v3M2.5 24v1M2.5 26v6M2.5 40v2M2.5 47v1M2.5 50v1M2.5 58v1M2.5 65v1M2.5 67v4M2.5 81v1M2.5 88v2M3.5 2v5M3.5 8v2M3.5 11v1M3.5 20v1M3.5 26v1M3.5 30v1M3.5 41v1M3.5 48v1M3.5 53v2M3.5 58v1M3.5 79v1M3.5 81v1M3.5 88v2M4.5 3v1M4.5 6v1M4.5 10v1M4.5 17v1M4.5 26v2M4.5 30v1M4.5 38v1M4.5 40v2M4.5 44v2M4.5 49v3M4.5 54v1M4.5 59v1M4.5 63v3M4.5 74v1M4.5 80v1M4.5 84v1M4.5 86v1M4.5 88v1M5.5 7v3M5.5 18v1M5.5 21v1M5.5 27v1M5.5 38v3M5.5 44v1M5.5 47v1M5.5 49v1M5.5 56v2M5.5 64v3M5.5 71v1M5.5 80v1M5.5 84v1M5.5 87v1M6.5 7v1M6.5 13v2M6.5 20v1M6.5 34v1M6.5 43v5M6.5 54v1M6.5 56v2M6.5 62v1M6.5 65v2M7.5 7v1M7.5 24v1M7.5 26v1M7.5 34v1M7.5 47v1M7.5 57v1M7.5 62v1M7.5 65v1M7.5 78v1M7.5 80v1M7.5 82v1M7.5 86v1M8.5 0v1M8.5 14v1M8.5 17v2M8.5 25v1M8.5 40v3M8.5 49v1M8.5 55v3M8.5 65v1M8.5 78v1M9.5 13v4M9.5 23v2M9.5 36v5M9.5 45v1M9.5 51v1M9.5 57v3M9.5 64v1M9.5 71v2M9.5 79v1M9.5 84v2M9.5 87v2M10.5 7v2M10.5 12v1M10.5 14v2M10.5 21v1M10.5 24v3M10.5 30v1M10.5 37v1M10.5 43v2M10.5 51v1M10.5 64v1M10.5 67v1M10.5 71v1M10.5 73v1M10.5 79v1M10.5 81v2M10.5 89v1M11.5 1v1M11.5 5v1M11.5 7v2M11.5 11v3M11.5 15v1M11.5 17v4M11.5 22v1M11.5 24v1M11.5 36v1M11.5 44v1M11.5 49v2M11.5 52v2M11.5 61v2M11.5 66v4M11.5 73v1M11.5 79v2M11.5 82v1M12.5 5v1M12.5 12v2M12.5 15v3M12.5 19v1M12.5 21v1M12.5 23v1M12.5 27v2M12.5 32v1M12.5 39v1M12.5 44v2M12.5 49v1M12.5 53v1M12.5 60v1M12.5 67v1M12.5 69v1M12.5 72v1M12.5 79v1M12.5 82v4M13.5 0v2M13.5 15v2M13.5 18v1M13.5 22v1M13.5 26v2M13.5 37v1M13.5 48v1M13.5 53v1M13.5 62v1M13.5 67v1M13.5 79v2M13.5 89v1M14.5 9v6M14.5 18v1M14.5 21v1M14.5 31v2M14.5 37v1M14.5 39v2M14.5 46v2M14.5 50v2M14.5 59v1M14.5 68v1M14.5 71v1M14.5 73v2M14.5 79v2M14.5 82v1M14.5 86v4M15.5 0v1M15.5 2v1M15.5 6v1M15.5 11v1M15.5 14v1M15.5 18v1M15.5 20v2M15.5 24v1M15.5 29v1M15.5 33v2M15.5 41v1M15.5 48v1M15.5 54v1M15.5 60v2M15.5 69v1M15.5 74v1M15.5 77v2M15.5 80v1M15.5 89v1M16.5 7v1M16.5 9v3M16.5 13v2M16.5 21v1M16.5 25v1M16.5 29v1M16.5 47v2M16.5 61v1M16.5 73v2M16.5 78v3M17.5 1v1M17.5 10v2M17.5 13v1M17.5 15v1M17.5 23v1M17.5 25v1M17.5 29v2M17.5 39v1M17.5 47v1M17.5 49v1M17.5 53v1M17.5 59v1M17.5 61v2M17.5 65v1M17.5 73v1M17.5 76v4M17.5 84v1M18.5 0v1M18.5 5v1M18.5 17v2M18.5 24v1M18.5 27v1M18.5 30v2M18.5 38v1M18.5 52v1M18.5 56v2M18.5 64v2M18.5 82v2M18.5 86v3M19.5 2v1M19.5 4v2M19.5 7v1M19.5 9v1M19.5 14v1M19.5 19v2M19.5 22v2M19.5 30v1M19.5 32v2M19.5 37v1M19.5 42v3M19.5 51v2M19.5 55v1M19.5 57v1M19.5 59v1M19.5 61v2M19.5 65v1M19.5 67v1M19.5 69v1M19.5 71v1M19.5 74v1M19.5 76v1M20.5 2v1M20.5 6v2M20.5 13v4M20.5 20v2M20.5 31v1M20.5 42v2M20.5 45v1M20.5 56v7M20.5 69v1M20.5 71v1M20.5 78v3M20.5 82v1M20.5 86v1M20.5 89v1M21.5 1v1M21.5 7v2M21.5 13v1M21.5 31v1M21.5 33v1M21.5 36v2M21.5 41v3M21.5 48v1M21.5 52v2M21.5 57v1M21.5 59v4M21.5 66v2M21.5 71v1M21.5 78v2M21.5 81v2M21.5 84v1M22.5 4v1M22.5 14v2M22.5 21v1M22.5 23v1M22.5 31v1M22.5 34v2M22.5 43v2M22.5 46v2M22.5 50v1M22.5 53v1M22.5 61v1M22.5 71v2M22.5 81v1M22.5 87v2M23.5 0v1M23.5 10v1M23.5 21v1M23.5 23v1M23.5 25v1M23.5 30v6M23.5 39v1M23.5 54v5M23.5 61v3M23.5 65v3M23.5 69v2M23.5 77v1M23.5 80v1M23.5 83v1M24.5 0v1M24.5 2v3M24.5 17v1M24.5 33v2M24.5 36v1M24.5 39v1M24.5 54v3M24.5 58v1M24.5 62v2M24.5 67v1M24.5 70v1M24.5 79v1M24.5 84v1M24.5 86v1M24.5 88v2M25.5 0v1M25.5 3v3M25.5 8v2M25.5 14v1M25.5 31v2M25.5 57v1M25.5 62v1M25.5 65v2M25.5 71v2M25.5 78v1M26.5 2v1M26.5 4v1M26.5 8v1M26.5 24v1M26.5 26v1M26.5 31v1M26.5 41v1M26.5 46v1M26.5 49v1M26.5 52v1M26.5 62v1M26.5 64v1M26.5 67v1M26.5 74v1M26.5 77v2M26.5 86v1M27.5 8v1M27.5 12v1M27.5 22v2M27.5 26v1M27.5 29v2M27.5 32v2M27.5 38v1M27.5 40v1M27.5 42v2M27.5 51v2M27.5 58v2M27.5 61v2M27.5 70v1M27.5 85v5M28.5 2v1M28.5 18v1M28.5 30v2M28.5 44v1M28.5 54v1M28.5 57v3M28.5 61v1M28.5 84v5M29.5 5v2M29.5 9v1M29.5 11v1M29.5 14v1M29.5 18v1M29.5 24v1M29.5 28v2M29.5 40v2M29.5 56v1M29.5 60v2M29.5 74v1M29.5 84v4M30.5 5v1M30.5 7v3M30.5 13v1M30.5 26v1M30.5 29v1M30.5 34v1M30.5 37v1M30.5 40v2M30.5 46v2M30.5 50v1M30.5 56v1M30.5 58v1M30.5 61v2M31.5 5v3M31.5 13v2M31.5 16v3M31.5 21v2M31.5 30v1M31.5 32v2M31.5 38v1M31.5 47v1M31.5 53v1M31.5 57v1M31.5 71v2M31.5 85v1M32.5 9v2M32.5 15v1M32.5 21v2M32.5 25v1M32.5 29v3M32.5 33v1M32.5 47v2M32.5 50v1M32.5 59v1M32.5 79v1M32.5 83v5M32.5 89v1M33.5 3v2M33.5 14v3M33.5 20v2M33.5 23v2M33.5 27v1M33.5 29v3M33.5 33v1M33.5 40v2M33.5 44v1M33.5 54v1M33.5 64v1M33.5 68v1M33.5 77v1M33.5 85v1M33.5 87v1M34.5 24v1M34.5 27v1M34.5 30v1M34.5 33v1M34.5 35v2M34.5 40v1M34.5 45v1M34.5 69v1M34.5 73v1M34.5 77v1M34.5 80v1M34.5 85v3M35.5 24v1M35.5 27v1M35.5 32v1M35.5 37v1M35.5 43v1M35.5 45v2M35.5 55v1M35.5 65v1M35.5 67v1M35.5 69v4M35.5 77v1M35.5 79v2M35.5 84v4M36.5 9v2M36.5 12v1M36.5 18v2M36.5 30v2M36.5 33v1M36.5 39v1M36.5 46v1M36.5 55v4M36.5 65v2M36.5 69v2M36.5 84v2M36.5 89v1M37.5 14v2M37.5 22v1M37.5 27v1M37.5 34v1M37.5 37v1M37.5 46v2M37.5 56v1M37.5 58v2M37.5 62v1M37.5 69v1M37.5 75v1M37.5 77v2M37.5 84v2M37.5 89v1M38.5 7v1M38.5 10v1M38.5 23v1M38.5 37v1M38.5 42v3M38.5 46v1M38.5 50v1M38.5 52v1M38.5 56v3M38.5 61v1M38.5 65v1M38.5 72v4M38.5 88v1M39.5 10v1M39.5 13v1M39.5 15v1M39.5 17v1M39.5 19v1M39.5 22v2M39.5 38v1M39.5 44v1M39.5 46v1M39.5 50v3M39.5 60v1M39.5 62v1M39.5 65v2M39.5 69v1M39.5 72v2M39.5 75v1M39.5 77v1M39.5 79v1M39.5 81v1M39.5 87v1M40.5 7v1M40.5 9v2M40.5 12v1M40.5 15v3M40.5 20v1M40.5 29v1M40.5 39v2M40.5 42v2M40.5 55v1M40.5 60v1M40.5 63v5M40.5 71v1M40.5 76v1M40.5 79v1M40.5 85v3M41.5 7v2M41.5 17v1M41.5 19v1M41.5 29v1M41.5 38v2M41.5 43v1M41.5 47v1M41.5 50v1M41.5 54v3M41.5 61v1M41.5 63v1M41.5 65v1M41.5 68v1M41.5 70v2M41.5 74v3M41.5 82v2M41.5 86v1M41.5 88v1M42.5 2v1M42.5 7v1M42.5 13v1M42.5 16v1M42.5 22v2M42.5 30v1M42.5 43v3M42.5 50v1M42.5 56v1M42.5 62v1M42.5 64v1M42.5 66v3M42.5 74v1M42.5 78v1M42.5 83v3M42.5 87v2M43.5 9v2M43.5 12v2M43.5 17v1M43.5 19v1M43.5 22v2M43.5 31v1M43.5 33v2M43.5 44v1M43.5 63v1M43.5 65v2M43.5 70v1M43.5 74v1M43.5 78v1M43.5 80v1M44.5 1v2M44.5 5v1M44.5 9v3M44.5 24v2M44.5 33v2M44.5 38v3M44.5 63v4M44.5 74v2M44.5 79v1M44.5 85v1M44.5 89v1M45.5 2v1M45.5 8v1M45.5 14v1M45.5 17v2M45.5 20v1M45.5 23v2M45.5 30v1M45.5 43v1M45.5 58v1M45.5 65v1M45.5 67v1M45.5 77v1M45.5 85v2M46.5 9v1M46.5 19v2M46.5 23v1M46.5 25v1M46.5 28v1M46.5 31v1M46.5 41v1M46.5 45v2M46.5 48v2M46.5 60v1M46.5 64v1M46.5 71v1M46.5 76v1M46.5 78v2M47.5 5v1M47.5 8v1M47.5 10v1M47.5 18v2M47.5 28v1M47.5 39v2M47.5 46v2M47.5 49v1M47.5 68v1M47.5 73v1M47.5 78v2M47.5 89v1M48.5 5v1M48.5 8v1M48.5 10v1M48.5 22v1M48.5 26v2M48.5 31v1M48.5 45v1M48.5 48v2M48.5 53v1M48.5 56v1M48.5 60v2M48.5 65v1M48.5 68v1M48.5 72v1M48.5 76v1M48.5 78v3M48.5 84v1M49.5 4v2M49.5 8v3M49.5 20v3M49.5 27v3M49.5 34v2M49.5 37v2M49.5 44v1M49.5 46v2M49.5 49v1M49.5 56v3M49.5 61v1M49.5 66v1M49.5 70v1M49.5 80v2M49.5 86v2M50.5 6v1M50.5 18v1M50.5 21v1M50.5 28v1M50.5 31v2M50.5 34v1M50.5 37v2M50.5 48v3M50.5 52v1M50.5 54v2M50.5 64v1M50.5 67v1M50.5 81v1M50.5 83v4M51.5 0v2M51.5 5v1M51.5 11v2M51.5 14v1M51.5 19v1M51.5 23v1M51.5 36v2M51.5 45v1M51.5 48v1M51.5 50v1M51.5 52v1M51.5 56v1M51.5 61v1M51.5 73v1M51.5 83v1M51.5 85v2M51.5 88v2M52.5 1v1M52.5 6v1M52.5 22v1M52.5 25v1M52.5 29v1M52.5 38v1M52.5 40v2M52.5 43v1M52.5 51v1M52.5 57v1M52.5 61v1M52.5 66v1M52.5 74v1M52.5 76v2M52.5 87v2M53.5 11v1M53.5 14v1M53.5 19v2M53.5 22v1M53.5 25v1M53.5 29v1M53.5 33v1M53.5 37v2M53.5 41v1M53.5 43v1M53.5 54v1M53.5 58v1M53.5 60v3M53.5 65v4M53.5 74v2M53.5 83v1M53.5 86v2M53.5 89v1M54.5 6v2M54.5 11v1M54.5 16v1M54.5 20v1M54.5 22v2M54.5 25v1M54.5 33v1M54.5 35v1M54.5 37v3M54.5 41v2M54.5 44v1M54.5 46v1M54.5 52v1M54.5 60v1M54.5 70v1M54.5 83v1M54.5 86v1M55.5 0v1M55.5 6v1M55.5 8v2M55.5 14v4M55.5 20v1M55.5 23v2M55.5 33v2M55.5 37v2M55.5 43v2M55.5 70v1M55.5 73v1M55.5 88v2M56.5 1v1M56.5 6v2M56.5 9v1M56.5 17v2M56.5 21v1M56.5 23v1M56.5 32v1M56.5 34v1M56.5 51v1M56.5 65v1M56.5 69v1M56.5 76v1M56.5 79v1M56.5 82v1M57.5 6v1M57.5 9v1M57.5 17v2M57.5 24v2M57.5 28v2M57.5 31v1M57.5 33v1M57.5 39v1M57.5 43v3M57.5 52v1M57.5 63v1M57.5 66v3M57.5 75v2M57.5 78v2M57.5 84v1M57.5 88v2M58.5 0v1M58.5 6v1M58.5 9v1M58.5 14v4M58.5 22v1M58.5 27v2M58.5 32v3M58.5 40v1M58.5 49v4M58.5 58v2M58.5 68v2M58.5 78v2M58.5 85v1M58.5 88v1M59.5 9v4M59.5 18v3M59.5 22v3M59.5 26v1M59.5 29v1M59.5 32v2M59.5 35v1M59.5 37v1M59.5 39v2M59.5 49v2M59.5 52v1M59.5 64v3M59.5 71v3M59.5 79v1M59.5 81v3M59.5 85v3M60.5 9v1M60.5 12v1M60.5 15v1M60.5 20v2M60.5 25v1M60.5 29v2M60.5 33v1M60.5 35v2M60.5 39v1M60.5 43v1M60.5 47v1M60.5 49v2M60.5 54v1M60.5 57v2M60.5 69v1M60.5 73v1M60.5 78v2M60.5 81v2M60.5 85v1M60.5 87v1M61.5 5v2M61.5 10v1M61.5 19v2M61.5 24v1M61.5 29v3M61.5 35v1M61.5 38v1M61.5 40v1M61.5 56v3M61.5 65v1M61.5 68v1M61.5 71v1M61.5 74v1M61.5 79v1M61.5 82v1M61.5 85v1M61.5 87v1M61.5 89v1M62.5 9v2M62.5 14v2M62.5 17v6M62.5 30v2M62.5 38v1M62.5 40v3M62.5 55v2M62.5 63v1M62.5 68v1M62.5 72v2M62.5 81v1M62.5 83v1M62.5 87v1M63.5 12v1M63.5 18v3M63.5 28v2M63.5 31v1M63.5 34v1M63.5 38v1M63.5 41v1M63.5 62v2M63.5 70v1M63.5 84v2M63.5 87v1M64.5 3v1M64.5 8v1M64.5 18v1M64.5 28v1M64.5 30v2M64.5 34v2M64.5 37v2M64.5 42v1M64.5 59v2M64.5 62v1M64.5 64v2M64.5 70v1M64.5 85v3M64.5 89v1M65.5 12v2M65.5 16v1M65.5 18v1M65.5 26v1M65.5 28v1M65.5 30v2M65.5 34v3M65.5 40v1M65.5 42v1M65.5 50v1M65.5 59v1M65.5 64v7M65.5 74v1M65.5 83v2M65.5 87v1M65.5 89v1M66.5 6v2M66.5 13v1M66.5 19v1M66.5 23v1M66.5 25v2M66.5 28v1M66.5 31v2M66.5 36v1M66.5 42v1M66.5 53v2M66.5 58v1M66.5 60v1M66.5 66v4M66.5 77v1M67.5 1v1M67.5 3v4M67.5 24v1M67.5 26v1M67.5 29v1M67.5 36v1M67.5 41v2M67.5 60v1M67.5 69v1M67.5 81v3M68.5 1v2M68.5 7v2M68.5 13v1M68.5 16v2M68.5 24v2M68.5 35v1M68.5 37v1M68.5 39v1M68.5 50v1M68.5 55v2M68.5 63v1M68.5 68v2M68.5 72v3M68.5 78v1M68.5 83v2M69.5 1v1M69.5 17v2M69.5 21v1M69.5 26v4M69.5 36v1M69.5 49v2M69.5 53v2M69.5 60v5M69.5 67v4M69.5 72v5M69.5 82v2M69.5 86v2M70.5 1v1M70.5 4v2M70.5 9v1M70.5 14v1M70.5 23v4M70.5 29v1M70.5 34v3M70.5 54v1M70.5 57v3M70.5 80v2M71.5 4v2M71.5 12v2M71.5 25v1M71.5 27v2M71.5 30v2M71.5 37v1M71.5 44v2M71.5 50v1M71.5 54v2M71.5 59v2M71.5 64v1M71.5 66v1M71.5 69v2M71.5 79v1M71.5 82v1M71.5 87v2M72.5 1v1M72.5 5v1M72.5 10v1M72.5 15v1M72.5 22v1M72.5 24v1M72.5 26v2M72.5 37v1M72.5 50v1M72.5 54v2M72.5 64v1M72.5 67v1M72.5 69v1M72.5 78v1M72.5 87v1M73.5 1v1M73.5 15v1M73.5 18v5M73.5 24v3M73.5 33v1M73.5 36v2M73.5 42v2M73.5 51v1M73.5 54v1M73.5 56v3M73.5 65v1M73.5 74v1M73.5 79v1M73.5 86v1M74.5 0v1M74.5 12v1M74.5 16v1M74.5 19v1M74.5 25v1M74.5 28v1M74.5 36v2M74.5 45v1M74.5 53v2M74.5 56v2M74.5 62v1M74.5 67v1M74.5 74v1M74.5 78v2M74.5 87v1M75.5 0v2M75.5 7v2M75.5 12v1M75.5 28v1M75.5 32v1M75.5 40v2M75.5 43v1M75.5 45v1M75.5 47v3M75.5 54v1M75.5 56v2M75.5 61v2M75.5 64v1M75.5 69v1M75.5 75v1M76.5 0v1M76.5 6v3M76.5 11v2M76.5 21v2M76.5 32v1M76.5 35v1M76.5 37v1M76.5 40v2M76.5 45v2M76.5 48v1M76.5 53v2M76.5 56v2M76.5 62v1M76.5 64v1M76.5 68v1M76.5 70v1M76.5 76v3M76.5 86v1M77.5 0v1M77.5 5v4M77.5 11v1M77.5 21v2M77.5 35v1M77.5 41v1M77.5 52v2M77.5 56v1M77.5 58v2M77.5 66v1M77.5 68v1M77.5 73v1M77.5 76v1M77.5 80v1M77.5 83v1M78.5 2v1M78.5 17v1M78.5 30v1M78.5 32v2M78.5 35v1M78.5 44v1M78.5 46v2M78.5 53v1M78.5 56v3M78.5 63v1M78.5 66v1M78.5 68v1M78.5 78v1M78.5 80v5M78.5 86v1M78.5 88v1M79.5 2v1M79.5 9v2M79.5 12v1M79.5 21v1M79.5 26v1M79.5 31v1M79.5 35v2M79.5 39v2M79.5 42v2M79.5 51v1M79.5 53v4M79.5 64v1M79.5 66v3M79.5 89v1M80.5 2v1M80.5 5v5M80.5 24v3M80.5 37v1M80.5 39v1M80.5 45v1M80.5 53v1M80.5 56v1M80.5 58v1M80.5 60v1M80.5 75v2M80.5 83v1M80.5 89v1M81.5 3v1M81.5 6v1M81.5 11v2M81.5 24v1M81.5 38v1M81.5 53v2M81.5 64v1M81.5 66v1M81.5 73v1M81.5 79v1M81.5 81v2M81.5 88v1M82.5 6v1M82.5 9v2M82.5 14v1M82.5 16v3M82.5 22v2M82.5 25v1M82.5 27v1M82.5 32v1M82.5 35v1M82.5 39v2M82.5 43v2M82.5 52v1M82.5 61v1M82.5 66v1M82.5 78v2M82.5 82v1M82.5 88v1M83.5 5v1M83.5 7v1M83.5 17v1M83.5 19v1M83.5 23v1M83.5 25v1M83.5 29v3M83.5 33v2M83.5 36v3M83.5 44v1M83.5 61v1M83.5 65v4M83.5 71v1M83.5 76v1M83.5 78v2M83.5 82v1M84.5 5v1M84.5 13v1M84.5 17v1M84.5 21v1M84.5 33v1M84.5 36v1M84.5 38v1M84.5 40v1M84.5 42v2M84.5 53v1M84.5 61v2M84.5 66v1M84.5 70v1M84.5 76v1M84.5 80v1M84.5 89v1M85.5 5v1M85.5 11v1M85.5 15v4M85.5 21v1M85.5 26v2M85.5 41v1M85.5 50v1M85.5 58v1M85.5 62v1M85.5 64v1M85.5 82v2M85.5 85v2M85.5 89v1M86.5 10v3M86.5 24v2M86.5 33v1M86.5 40v1M86.5 43v1M86.5 48v1M86.5 56v2M86.5 61v1M86.5 65v1M86.5 69v1M86.5 75v1M86.5 78v1M86.5 84v2M87.5 2v1M87.5 10v1M87.5 14v1M87.5 24v2M87.5 33v1M87.5 40v1M87.5 43v1M87.5 48v2M87.5 58v2M87.5 65v2M87.5 69v1M87.5 73v1M87.5 75v1M87.5 78v2M87.5 82v1M88.5 8v4M88.5 14v1M88.5 32v2M88.5 49v1M88.5 58v1M88.5 67v4M88.5 75v3M88.5 79v1M88.5 83v2M89.5 0v1M89.5 10v1M89.5 12v1M89.5 26v1M89.5 28v1M89.5 41v1M89.5 43v1M89.5 49v2M89.5 57v4M89.5 65v6M89.5 76v1M89.5 78v1M89.5 82v1M89.5 84v2M89.5 87v1M90.5 0v1M90.5 3v1M90.5 10v1M90.5 24v4M90.5 29v3M90.5 33v1M90.5 35v1M90.5 43v1M90.5 53v3M90.5 59v1M90.5 65v1M90.5 67v1M90.5 70v1M90.5 76v1M90.5 79v1M90.5 82v2M90.5 86v2M91.5 3v1M91.5 5v1M91.5 8v1M91.5 16v1M91.5 24v2M91.5 29v1M91.5 35v1M91.5 41v1M91.5 45v3M91.5 54v2M91.5 57v2M91.5 60v1M91.5 71v1M91.5 80v3M91.5 85v1M91.5 87v1M91.5 89v1M92.5 5v1M92.5 8v1M92.5 17v1M92.5 22v4M92.5 28v1M92.5 31v2M92.5 34v5M92.5 41v1M92.5 44v1M92.5 46v1M92.5 67v1M92.5 71v1M92.5 77v1M92.5 81v3M93.5 15v1M93.5 18v2M93.5 23v3M93.5 27v1M93.5 30v1M93.5 32v3M93.5 47v1M93.5 56v1M93.5 58v1M93.5 68v1M93.5 78v1M93.5 85v3M94.5 5v1M94.5 16v1M94.5 21v6M94.5 29v1M94.5 33v1M94.5 43v1M94.5 47v1M94.5 49v1M94.5 55v2M94.5 59v3M94.5 64v2M94.5 68v1M94.5 75v4M94.5 85v1M94.5 89v1M95.5 4v2M95.5 9v1M95.5 17v2M95.5 23v4M95.5 28v4M95.5 33v2M95.5 36v1M95.5 44v2M95.5 48v3M95.5 60v1M95.5 66v1M95.5 68v1M95.5 70v1M95.5 73v1M95.5 79v1M96.5 0v1M96.5 5v1M96.5 18v1M96.5 24v4M96.5 32v2M96.5 42v1M96.5 44v1M96.5 50v1M96.5 65v1M96.5 67v2M96.5 78v1M96.5 84v1M96.5 86v1M96.5 89v1M97.5 5v1M97.5 27v2M97.5 31v3M97.5 45v1M97.5 47v1M97.5 50v1M97.5 52v1M97.5 62v1M97.5 68v1M97.5 70v2M97.5 76v1M97.5 85v1M97.5 87v1M97.5 89v1M98.5 3v3M98.5 28v1M98.5 30v2M98.5 35v2M98.5 41v3M98.5 45v2M98.5 51v1M98.5 61v2M98.5 65v1M98.5 68v1M98.5 74v1M98.5 83v1M98.5 88v2M99.5 3v3M99.5 7v1M99.5 13v2M99.5 16v1M99.5 21v1M99.5 30v1M99.5 34v1M99.5 46v1M99.5 48v1M99.5 60v2M99.5 69v1M99.5 77v2M99.5 88v1M100.5 8v1M100.5 11v1M100.5 18v1M100.5 23v1M100.5 31v4M100.5 36v1M100.5 40v2M100.5 46v1M100.5 53v2M100.5 59v2M100.5 71v5M100.5 78v1M101.5 2v1M101.5 6v1M101.5 8v3M101.5 12v1M101.5 14v2M101.5 18v1M101.5 21v3M101.5 33v1M101.5 37v1M101.5 39v2M101.5 43v1M101.5 46v1M101.5 54v2M101.5 59v2M101.5 65v2M101.5 68v1M101.5 78v2M101.5 85v1M102.5 0v1M102.5 3v2M102.5 6v2M102.5 9v1M102.5 14v2M102.5 18v1M102.5 21v1M102.5 25v1M102.5 27v1M102.5 38v1M102.5 44v1M102.5 48v3M102.5 57v2M102.5 60v1M102.5 66v1M102.5 70v1M102.5 74v1M102.5 89v1M103.5 1v1M103.5 13v1M103.5 21v3M103.5 25v1M103.5 27v1M103.5 34v2M103.5 37v2M103.5 40v3M103.5 50v2M103.5 54v1M103.5 70v1M103.5 73v1M103.5 75v1M104.5 1v1M104.5 8v2M104.5 15v1M104.5 27v1M104.5 36v3M104.5 42v1M104.5 45v1M104.5 47v1M104.5 49v3M104.5 54v1M104.5 58v1M104.5 66v1M104.5 68v1M104.5 79v3M104.5 86v1M105.5 3v1M105.5 21v2M105.5 36v1M105.5 38v2M105.5 42v1M105.5 53v2M105.5 56v1M105.5 58v1M105.5 67v2M105.5 70v1M105.5 78v1M105.5 81v1M105.5 87v1M106.5 3v1M106.5 13v1M106.5 19v1M106.5 21v2M106.5 32v2M106.5 35v1M106.5 38v3M106.5 43v1M106.5 45v1M106.5 51v2M106.5 54v1M106.5 56v1M106.5 66v1M106.5 69v1M106.5 74v1M107.5 0v1M107.5 13v1M107.5 20v1M107.5 31v1M107.5 33v1M107.5 35v1M107.5 39v1M107.5 43v2M107.5 47v1M107.5 52v2M107.5 59v2M107.5 71v2M107.5 74v1M107.5 79v2M108.5 0v2M108.5 8v1M108.5 18v2M108.5 26v1M108.5 29v1M108.5 32v1M108.5 39v3M108.5 43v1M108.5 52v1M108.5 56v1M108.5 63v1M108.5 71v1M108.5 74v2M108.5 78v1M108.5 81v1M108.5 86v1M109.5 20v1M109.5 25v1M109.5 28v1M109.5 31v4M109.5 39v3M109.5 54v1M109.5 62v3M109.5 79v1M109.5 81v2M110.5 1v1M110.5 5v1M110.5 7v2M110.5 23v1M110.5 25v1M110.5 28v1M110.5 34v1M110.5 40v1M110.5 42v1M110.5 54v1M110.5 71v2M110.5 76v2M110.5 79v2M110.5 83v1M110.5 85v1M111.5 2v1M111.5 5v1M111.5 8v2M111.5 17v1M111.5 23v2M111.5 34v3M111.5 39v2M111.5 48v1M111.5 53v1M111.5 55v2M111.5 58v1M111.5 60v2M111.5 63v2M111.5 85v2M112.5 10v2M112.5 16v2M112.5 25v2M112.5 30v3M112.5 39v1M112.5 45v1M112.5 48v1M112.5 53v1M112.5 55v1M112.5 58v1M112.5 60v4M112.5 69v2M112.5 77v1M113.5 0v1M113.5 4v1M113.5 7v1M113.5 28v1M113.5 30v2M113.5 37v1M113.5 39v1M113.5 42v1M113.5 47v2M113.5 55v1M113.5 63v1M113.5 67v2M113.5 72v1M113.5 74v1M113.5 83v1M113.5 87v1M114.5 0v1M114.5 7v1M114.5 13v1M114.5 24v2M114.5 27v3M114.5 32v2M114.5 39v1M114.5 43v1M114.5 47v1M114.5 65v2M114.5 75v2M114.5 80v2M114.5 87v1M115.5 2v2M115.5 23v1M115.5 26v1M115.5 30v1M115.5 33v1M115.5 48v1M115.5 53v2M115.5 59v1M115.5 61v1M115.5 66v1M115.5 74v2M115.5 86v2M116.5 2v1M116.5 5v4M116.5 11v1M116.5 15v1M116.5 26v1M116.5 28v1M116.5 32v1M116.5 36v1M116.5 42v1M116.5 56v2M116.5 59v4M116.5 67v1M116.5 72v1M116.5 79v1M116.5 86v2M117.5 2v1M117.5 5v2M117.5 8v2M117.5 23v3M117.5 30v2M117.5 42v1M117.5 49v2M117.5 56v2M117.5 60v4M117.5 72v1M117.5 74v1M117.5 84v1M118.5 8v2M118.5 18v1M118.5 20v1M118.5 22v2M118.5 30v1M118.5 35v1M118.5 45v1M118.5 50v1M118.5 56v1M118.5 64v1M118.5 66v1M118.5 72v1M118.5 81v2M118.5 88v1M119.5 9v1M119.5 16v1M119.5 29v1M119.5 48v1M119.5 50v1M119.5 59v1M119.5 61v1M119.5 64v1M119.5 71v2M119.5 74v1M119.5 81v1M119.5 88v1M120.5 2v1M120.5 22v1M120.5 30v1M120.5 43v1M120.5 48v1M120.5 50v1M120.5 52v1M120.5 55v1M120.5 58v1M120.5 61v1M120.5 70v1M120.5 80v1M120.5 87v1M121.5 1v1M121.5 22v1M121.5 29v1M121.5 35v1M121.5 43v1M121.5 50v1M121.5 52v2M121.5 58v1M121.5 62v2M121.5 74v1M121.5 80v1M121.5 83v2M121.5 87v1M122.5 3v1M122.5 7v1M122.5 10v4M122.5 23v1M122.5 31v4M122.5 49v5M122.5 58v3M122.5 64v1M122.5 67v1M122.5 73v1M122.5 80v2M123.5 8v3M123.5 12v1M123.5 14v4M123.5 20v3M123.5 28v1M123.5 46v2M123.5 52v3M123.5 56v1M123.5 59v2M123.5 71v3M123.5 79v2M123.5 83v1M124.5 9v1M124.5 12v1M124.5 17v1M124.5 27v5M124.5 34v1M124.5 39v1M124.5 44v1M124.5 46v1M124.5 51v1M124.5 59v4M124.5 65v1M124.5 76v2M124.5 83v2M125.5 3v2M125.5 6v1M125.5 9v1M125.5 12v1M125.5 20v1M125.5 22v1M125.5 26v2M125.5 31v1M125.5 33v2M125.5 37v1M125.5 39v3M125.5 44v1M125.5 50v1M125.5 55v2M125.5 59v3M125.5 77v2M125.5 81v1M125.5 83v3M126.5 4v3M126.5 14v1M126.5 21v1M126.5 24v2M126.5 27v1M126.5 29v2M126.5 32v1M126.5 34v1M126.5 50v1M126.5 56v1M126.5 63v2M126.5 67v1M126.5 72v2M126.5 75v1M126.5 84v1M126.5 88v1M127.5 3v1M127.5 14v1M127.5 24v1M127.5 30v2M127.5 33v1M127.5 37v2M127.5 40v2M127.5 45v1M127.5 50v1M127.5 57v1M127.5 60v1M127.5 62v3M127.5 75v1M128.5 3v1M128.5 5v1M128.5 9v1M128.5 21v2M128.5 31v2M128.5 34v1M128.5 38v1M128.5 42v1M128.5 44v1M128.5 48v1M128.5 56v2M128.5 61v1M128.5 63v2M128.5 75v2M128.5 85v1M129.5 2v4M129.5 7v2M129.5 13v3M129.5 22v1M129.5 26v1M129.5 31v1M129.5 37v7M129.5 45v2M129.5 51v2M129.5 59v1M129.5 62v2M129.5 65v2M129.5 68v1M129.5 71v3M129.5 76v1M129.5 81v1M129.5 85v2M130.5 5v1M130.5 14v2M130.5 27v1M130.5 37v1M130.5 39v1M130.5 41v1M130.5 43v1M130.5 45v1M130.5 52v1M130.5 64v1M130.5 75v1M130.5 81v1M130.5 85v1M131.5 5v1M131.5 22v1M131.5 27v1M131.5 30v1M131.5 38v2M131.5 51v2M131.5 64v3M131.5 68v1M131.5 74v5M131.5 80v2M131.5 88v1M132.5 6v1M132.5 8v2M132.5 18v1M132.5 33v1M132.5 36v1M132.5 40v1M132.5 46v1M132.5 54v2M132.5 71v1M132.5 74v3M132.5 84v1M132.5 86v2M133.5 0v1M133.5 7v1M133.5 13v1M133.5 17v1M133.5 33v4M133.5 40v1M133.5 43v1M133.5 45v1M133.5 55v1M133.5 57v1M133.5 61v1M133.5 63v2M133.5 66v1M133.5 68v1M133.5 76v3M133.5 89v1M134.5 0v1M134.5 7v1M134.5 13v1M134.5 17v1M134.5 22v3M134.5 26v1M134.5 28v1M134.5 38v1M134.5 49v1M134.5 57v2M134.5 61v1M134.5 64v1M134.5 66v1M134.5 71v2M134.5 78v1M134.5 80v1M134.5 89v1M135.5 6v2M135.5 21v1M135.5 24v1M135.5 26v2M135.5 33v1M135.5 35v3M135.5 39v3M135.5 52v2M135.5 58v2M135.5 63v1M135.5 65v3M135.5 72v2M135.5 80v1M136.5 2v2M136.5 9v1M136.5 17v1M136.5 24v2M136.5 30v2M136.5 33v2M136.5 36v2M136.5 42v1M136.5 58v2M136.5 61v3M136.5 81v1M137.5 1v4M137.5 9v1M137.5 12v1M137.5 25v1M137.5 30v4M137.5 36v1M137.5 38v1M137.5 40v1M137.5 44v1M137.5 49v3M137.5 53v1M137.5 55v2M137.5 63v2M137.5 66v1M137.5 72v1M137.5 78v1M137.5 81v2M137.5 85v2M138.5 2v1M138.5 24v2M138.5 32v2M138.5 35v1M138.5 37v2M138.5 58v2M138.5 72v1M138.5 74v1M138.5 78v1M138.5 86v1M139.5 1v1M139.5 10v1M139.5 15v2M139.5 22v1M139.5 28v1M139.5 31v1M139.5 34v1M139.5 38v1M139.5 41v1M139.5 44v1M139.5 51v1M139.5 67v2M139.5 70v2M139.5 74v1M139.5 78v1M139.5 86v2M139.5 89v1"/></g><g id="ntS" transform="scale(1.3 3)" stroke="#000" stroke-width="1" fill="none" shape-rendering="crispEdges"><path stroke-opacity="1" d="M0.5 14v1M0.5 50v7M2.5 0v1M2.5 9v17M2.5 56v2M2.5 63v1M3.5 7v2M3.5 58v4M4.5 30v2M5.5 0v1M5.5 15v8M5.5 25v12M5.5 63v1M6.5 2v4M6.5 39v4M7.5 0v4M7.5 7v1M7.5 14v4M7.5 29v12M8.5 12v3M8.5 40v3M9.5 11v2M9.5 18v5M9.5 55v2M10.5 19v4M10.5 43v6M10.5 51v2M11.5 23v4M11.5 30v1M11.5 43v6M12.5 0v13M12.5 19v8M12.5 57v7M13.5 57v1M14.5 18v2M14.5 28v2M14.5 36v3M14.5 40v2M14.5 55v2M14.5 63v1M15.5 0v9M15.5 14v20M15.5 46v18M16.5 3v5M16.5 13v13M16.5 40v10M17.5 2v1M17.5 11v2M17.5 34v4M17.5 43v2M18.5 1v17M18.5 19v9M18.5 41v2M19.5 0v2M19.5 8v3M19.5 13v7M19.5 25v1M19.5 49v5M19.5 59v5M20.5 11v2M20.5 16v7M20.5 25v1M20.5 33v1M20.5 54v2M20.5 62v2M21.5 12v3M21.5 30v8M21.5 45v1M22.5 7v2M22.5 48v8M23.5 0v3M23.5 17v6M23.5 34v14M23.5 52v5M23.5 59v5M24.5 12v3M24.5 28v2M24.5 44v3M24.5 53v6M25.5 7v2M26.5 0v9M26.5 30v27M26.5 58v6M27.5 23v5M27.5 39v12M27.5 61v1M28.5 57v4M29.5 0v11M29.5 35v2M29.5 60v4M30.5 16v1M31.5 33v13M31.5 49v7M31.5 59v4M32.5 9v3M32.5 14v9M32.5 29v4M33.5 24v2M33.5 46v18M34.5 17v4M34.5 29v13M34.5 46v1M35.5 2v1M35.5 41v9M36.5 30v6M36.5 43v6M37.5 0v13M37.5 25v14M37.5 46v2M37.5 61v3M38.5 3v3M38.5 17v14M38.5 47v1M38.5 60v2M39.5 14v6M39.5 49v2M40.5 0v1M40.5 26v6M40.5 34v2M40.5 63v1M41.5 45v7M41.5 54v2M42.5 0v3M42.5 11v6M42.5 63v1M43.5 14v7M43.5 58v6M44.5 0v2M44.5 38v2M44.5 50v5M45.5 1v2M45.5 5v4M45.5 15v3M45.5 34v1M46.5 0v2M46.5 54v10M47.5 19v6M48.5 23v5M48.5 30v4M48.5 37v3M48.5 56v2M49.5 0v1M49.5 10v17M49.5 28v21M49.5 59v5M50.5 1v2M50.5 11v13M50.5 31v10M50.5 44v1M50.5 53v7M51.5 10v1M51.5 43v1M51.5 61v2M52.5 9v3M52.5 13v3M52.5 19v2M52.5 39v10M52.5 60v2M53.5 32v2M53.5 52v10M54.5 18v2M54.5 22v2M54.5 28v4M54.5 41v3M54.5 45v7M54.5 55v3M55.5 8v2M56.5 15v2M56.5 23v2M57.5 16v4M57.5 25v3M57.5 48v1M57.5 54v10M58.5 3v3M58.5 42v5M58.5 55v3M59.5 0v2M59.5 44v8M59.5 62v2M60.5 4v4M60.5 23v1M60.5 52v6M61.5 27v4M61.5 38v1M62.5 1v2M62.5 25v1M62.5 37v10M62.5 61v3M63.5 7v1M63.5 50v4M64.5 1v3M64.5 44v4M64.5 62v1M65.5 4v2M65.5 8v9M65.5 21v11M65.5 47v4M66.5 21v5M66.5 27v1M66.5 43v3M67.5 5v5M67.5 14v3M67.5 55v1M68.5 7v2M68.5 27v8M69.5 8v3M69.5 53v1M69.5 57v3M70.5 0v28M70.5 45v9M70.5 57v7M71.5 0v2M71.5 18v14M71.5 63v1M72.5 10v5M72.5 18v9M73.5 6v7M73.5 21v3M73.5 43v2M73.5 48v13M74.5 11v5M74.5 53v2M75.5 21v19M76.5 0v8M76.5 28v14M76.5 49v1M76.5 59v5M77.5 38v9M77.5 49v2M77.5 57v5M78.5 12v2M78.5 37v2M78.5 40v3M78.5 49v1M79.5 11v2M80.5 34v3M80.5 40v2M80.5 53v2M80.5 59v1M81.5 18v5M82.5 29v3M82.5 41v4M82.5 55v3M83.5 11v2M83.5 28v4M83.5 54v4M83.5 60v2M84.5 1v2M84.5 28v2M84.5 49v8M85.5 0v1M85.5 14v1M85.5 24v9M85.5 37v24M85.5 62v2M86.5 16v4M86.5 48v7M87.5 21v2M87.5 49v1M88.5 17v2M88.5 55v6M88.5 62v2M89.5 13v7M89.5 21v9M89.5 40v8M90.5 8v5M90.5 18v9M91.5 13v1M91.5 25v3M91.5 32v4M91.5 46v3M91.5 62v1M92.5 10v1M92.5 23v1M92.5 27v6M92.5 35v20M93.5 3v3M93.5 8v3M93.5 38v5M93.5 59v1M94.5 1v3M94.5 16v4M94.5 22v13M94.5 39v11M94.5 53v5M95.5 0v1M95.5 10v1M95.5 12v7M95.5 43v4M96.5 14v1M96.5 16v11M96.5 33v8M96.5 42v2M97.5 50v1M98.5 0v6M98.5 7v1M98.5 21v1M98.5 45v4M98.5 53v11M99.5 27v1M99.5 34v1M99.5 57v1M100.5 21v9M100.5 48v4M101.5 6v3M101.5 60v4M102.5 0v5M102.5 50v2M102.5 57v6M103.5 1v5M103.5 19v3M103.5 54v4M104.5 17v2M104.5 44v3M104.5 51v2M105.5 7v2M105.5 28v7M105.5 46v1M106.5 0v7M106.5 24v7M106.5 47v7M106.5 57v7M107.5 1v1M107.5 6v5M107.5 13v5M107.5 24v1M107.5 37v1M107.5 52v1M107.5 57v4M108.5 5v4M108.5 39v2M108.5 51v1M108.5 54v3M109.5 19v6M109.5 47v5M110.5 4v9M110.5 14v1M110.5 46v2M111.5 31v9M111.5 49v5M112.5 4v3M112.5 25v12M112.5 45v4M112.5 53v9M113.5 23v1M113.5 39v7M114.5 9v2M114.5 12v2M114.5 41v1M115.5 6v7M115.5 14v10M115.5 29v5M115.5 47v1M115.5 57v2M116.5 0v7M116.5 16v17M116.5 63v1M117.5 19v2M117.5 32v3M117.5 43v9M117.5 57v2M118.5 8v9M118.5 31v2M118.5 38v3M118.5 44v6M118.5 52v3M119.5 30v5M119.5 51v8M120.5 41v2M120.5 45v7M121.5 9v5M121.5 30v1M121.5 32v11M121.5 49v9M121.5 60v4M122.5 4v3M122.5 36v1M122.5 39v3M122.5 53v6M123.5 6v1M123.5 22v2M123.5 27v3M123.5 35v9M123.5 48v3M124.5 4v7M124.5 23v5M124.5 47v12M125.5 6v7M125.5 19v5M125.5 47v4M125.5 53v3M126.5 3v3M126.5 11v9M126.5 23v6M126.5 33v10M127.5 28v5M127.5 39v6M128.5 7v4M128.5 32v3M128.5 45v2M128.5 50v3M129.5 6v6M129.5 31v15M129.5 58v3"/><path stroke-opacity="0.78" d="M0.5 19v8M3.5 57v1M5.5 8v2M5.5 53v1M7.5 45v9M11.5 58v4M13.5 9v1M13.5 41v6M13.5 55v2M15.5 34v1M16.5 26v3M17.5 6v5M18.5 51v5M20.5 13v3M22.5 9v5M22.5 42v4M24.5 2v1M24.5 6v6M24.5 20v2M25.5 0v6M25.5 28v1M25.5 48v16M27.5 0v9M27.5 37v1M27.5 51v2M27.5 62v2M28.5 2v3M28.5 21v1M28.5 23v1M28.5 61v2M29.5 11v11M32.5 58v3M35.5 60v2M38.5 39v6M39.5 8v2M39.5 33v5M40.5 36v5M40.5 60v1M42.5 30v14M43.5 44v7M45.5 56v2M48.5 20v2M49.5 49v2M50.5 0v1M50.5 3v8M50.5 60v4M51.5 2v6M51.5 30v3M51.5 45v1M51.5 58v2M52.5 12v1M55.5 21v1M56.5 17v6M56.5 55v3M57.5 20v5M57.5 38v5M62.5 54v3M66.5 0v2M66.5 30v13M66.5 57v7M67.5 35v4M67.5 56v8M70.5 29v6M71.5 35v5M71.5 44v6M71.5 60v3M74.5 55v9M76.5 23v5M76.5 42v5M77.5 0v10M77.5 62v2M78.5 3v6M79.5 13v1M79.5 18v1M80.5 55v4M81.5 23v2M81.5 50v4M84.5 38v1M86.5 20v2M88.5 6v5M88.5 61v1M90.5 0v3M90.5 31v2M90.5 58v6M94.5 5v7M94.5 38v1M98.5 22v4M98.5 29v3M99.5 31v3M100.5 43v1M101.5 21v1M102.5 6v2M103.5 6v11M104.5 19v4M104.5 47v1M105.5 9v13M106.5 33v6M106.5 45v2M108.5 1v4M108.5 41v3M111.5 29v2M112.5 9v16M112.5 52v1M114.5 44v3M115.5 50v2M118.5 58v2M119.5 3v3M119.5 14v5M120.5 33v3M122.5 34v2M123.5 31v4M126.5 0v3M126.5 29v4M126.5 61v3M127.5 37v1M128.5 17v6M129.5 48v2M129.5 57v1"/><path stroke-opacity="0.6" d="M0.5 7v7M1.5 30v2M1.5 58v6M2.5 7v2M2.5 58v5M3.5 9v3M3.5 35v4M5.5 13v2M6.5 17v10M6.5 45v4M6.5 55v1M7.5 19v10M7.5 57v5M8.5 0v2M8.5 54v10M9.5 6v1M9.5 57v1M10.5 12v2M10.5 53v3M11.5 0v5M11.5 39v2M11.5 62v2M12.5 28v4M12.5 50v1M13.5 0v1M13.5 3v6M13.5 47v5M13.5 60v4M14.5 60v3M15.5 35v6M17.5 4v2M17.5 21v8M17.5 38v1M17.5 41v2M18.5 43v8M19.5 11v2M19.5 20v2M19.5 44v1M21.5 46v6M22.5 18v9M22.5 34v8M23.5 14v3M23.5 23v5M23.5 57v1M24.5 22v5M24.5 30v14M25.5 6v1M25.5 38v2M26.5 18v10M28.5 52v5M29.5 24v6M29.5 32v3M29.5 37v9M30.5 15v1M30.5 48v6M30.5 55v1M31.5 0v17M31.5 20v13M31.5 63v1M32.5 24v2M32.5 27v2M33.5 43v3M34.5 57v1M35.5 58v2M36.5 2v2M38.5 9v5M38.5 31v3M39.5 40v4M40.5 1v1M40.5 19v2M41.5 41v4M43.5 35v4M44.5 24v5M44.5 40v5M45.5 3v2M45.5 37v2M45.5 42v14M46.5 48v6M47.5 14v3M47.5 31v7M50.5 30v1M51.5 44v1M51.5 60v1M53.5 13v6M54.5 0v4M54.5 54v1M54.5 58v6M55.5 17v3M55.5 63v1M57.5 28v3M57.5 46v2M58.5 26v7M58.5 38v3M59.5 33v2M60.5 8v1M61.5 16v3M62.5 0v1M62.5 4v5M62.5 24v1M62.5 52v1M64.5 0v1M64.5 4v4M64.5 63v1M66.5 4v6M67.5 17v12M67.5 39v7M68.5 3v4M69.5 11v9M69.5 24v2M69.5 31v8M71.5 2v15M71.5 32v2M73.5 24v1M73.5 45v3M74.5 7v4M75.5 57v3M76.5 50v2M77.5 34v1M78.5 10v1M78.5 19v7M79.5 2v1M79.5 63v1M80.5 16v2M81.5 25v1M81.5 39v5M82.5 0v3M82.5 18v2M82.5 63v1M83.5 50v1M84.5 0v1M84.5 5v4M84.5 27v1M84.5 31v6M84.5 58v2M86.5 10v2M87.5 23v1M87.5 50v7M87.5 59v4M88.5 0v2M88.5 30v2M89.5 5v1M89.5 30v1M90.5 4v3M90.5 13v2M90.5 17v1M90.5 46v3M91.5 36v2M91.5 57v4M92.5 20v3M92.5 24v3M92.5 33v1M93.5 6v2M93.5 52v4M95.5 1v9M95.5 47v1M97.5 0v1M97.5 3v3M97.5 13v3M97.5 38v5M97.5 49v1M97.5 51v13M98.5 32v10M99.5 28v1M100.5 1v5M100.5 30v11M100.5 52v4M101.5 0v6M101.5 13v2M101.5 22v3M101.5 36v7M101.5 45v2M102.5 14v6M103.5 48v1M104.5 0v11M104.5 16v1M104.5 53v1M104.5 62v2M105.5 43v3M105.5 57v3M106.5 17v1M107.5 0v1M107.5 26v3M107.5 61v3M108.5 0v1M108.5 44v1M108.5 52v2M108.5 59v5M109.5 29v18M110.5 2v2M110.5 13v1M111.5 4v1M112.5 44v1M112.5 49v1M113.5 0v7M113.5 47v2M113.5 55v9M115.5 52v5M116.5 46v2M116.5 52v3M116.5 59v3M117.5 52v1M118.5 19v4M118.5 42v2M119.5 0v1M119.5 7v2M119.5 62v2M120.5 40v1M121.5 43v1M122.5 0v4M122.5 31v1M122.5 37v2M122.5 62v2M124.5 28v11M124.5 61v2M125.5 28v1M125.5 34v1M126.5 51v10M127.5 45v6M128.5 11v6M129.5 0v1M129.5 61v3"/><path stroke-opacity="0.43" d="M0.5 17v1M0.5 40v5M1.5 41v17M3.5 51v6M4.5 38v4M5.5 10v3M6.5 0v1M6.5 43v2M8.5 10v2M8.5 38v2M8.5 43v1M9.5 33v15M10.5 17v2M11.5 33v1M12.5 14v4M12.5 27v1M13.5 10v6M14.5 57v3M16.5 53v8M17.5 49v7M19.5 26v1M19.5 54v5M20.5 34v11M21.5 15v2M21.5 52v2M22.5 4v3M23.5 6v7M23.5 58v1M24.5 27v1M25.5 9v3M26.5 9v4M27.5 57v4M28.5 35v1M31.5 47v2M31.5 57v1M32.5 0v2M32.5 13v1M32.5 23v1M32.5 61v3M33.5 23v1M34.5 21v8M34.5 61v3M35.5 0v2M35.5 62v2M36.5 15v4M37.5 24v1M38.5 6v3M38.5 48v12M39.5 10v3M40.5 3v1M40.5 21v5M40.5 45v4M41.5 1v2M41.5 26v3M41.5 52v2M42.5 17v2M43.5 0v7M43.5 51v2M44.5 2v22M44.5 29v1M44.5 45v3M44.5 49v1M45.5 35v2M47.5 17v2M48.5 40v2M48.5 46v5M50.5 24v6M50.5 43v1M51.5 8v2M51.5 11v2M51.5 29v1M52.5 16v3M52.5 58v1M53.5 0v12M53.5 62v2M54.5 4v7M54.5 24v4M54.5 32v6M55.5 20v1M55.5 45v1M56.5 25v21M57.5 3v13M59.5 28v5M60.5 25v4M60.5 32v1M62.5 26v5M63.5 38v7M63.5 59v4M64.5 8v15M65.5 0v4M65.5 20v1M65.5 53v7M65.5 61v3M69.5 2v6M69.5 39v2M71.5 40v4M72.5 15v3M72.5 48v9M73.5 13v8M74.5 16v13M75.5 3v2M75.5 51v4M79.5 0v2M79.5 3v8M79.5 28v3M79.5 38v2M80.5 0v11M80.5 61v3M81.5 1v17M81.5 44v5M81.5 54v7M82.5 58v2M83.5 32v4M83.5 51v2M84.5 9v7M84.5 39v1M85.5 61v1M87.5 7v1M87.5 9v3M87.5 42v7M88.5 20v9M88.5 43v1M88.5 51v2M90.5 27v4M91.5 2v2M91.5 14v3M91.5 28v4M91.5 38v2M91.5 45v1M91.5 61v1M92.5 3v7M92.5 11v5M92.5 34v1M92.5 55v6M93.5 27v7M94.5 35v3M95.5 20v9M96.5 45v10M97.5 1v2M97.5 17v10M97.5 34v1M98.5 42v2M98.5 49v4M99.5 15v3M99.5 21v6M99.5 35v20M99.5 58v5M100.5 6v1M101.5 43v2M102.5 8v6M102.5 31v8M102.5 45v3M102.5 63v1M104.5 43v1M104.5 54v5M105.5 47v8M105.5 60v2M106.5 23v1M109.5 0v6M109.5 13v5M109.5 26v2M109.5 57v6M110.5 52v4M112.5 50v2M114.5 20v2M115.5 0v1M115.5 5v1M115.5 13v1M116.5 33v13M117.5 5v5M117.5 53v4M118.5 2v6M118.5 26v5M119.5 9v3M119.5 43v8M121.5 21v7M121.5 58v2M122.5 14v9M122.5 52v1M123.5 57v4M124.5 1v3M125.5 0v4M125.5 27v1M125.5 51v2M125.5 56v2M125.5 60v4M126.5 6v5M128.5 6v1M128.5 27v5M129.5 1v5"/><path stroke-opacity="0.31" d="M0.5 29v6M1.5 13v17M1.5 32v9M2.5 1v6M2.5 26v10M2.5 45v11M3.5 0v7M3.5 39v1M3.5 62v2M4.5 43v4M5.5 1v7M5.5 24v1M5.5 58v5M6.5 27v12M6.5 54v1M7.5 8v4M7.5 56v1M8.5 2v2M8.5 15v1M8.5 25v13M8.5 44v4M9.5 5v1M9.5 7v4M9.5 23v7M9.5 48v5M10.5 14v3M10.5 23v7M10.5 37v6M11.5 5v6M11.5 36v3M12.5 52v4M13.5 16v11M13.5 28v3M14.5 2v13M14.5 25v3M14.5 42v2M14.5 53v2M15.5 10v4M15.5 41v5M16.5 2v1M16.5 38v2M16.5 51v1M17.5 39v2M17.5 45v2M17.5 56v2M20.5 26v2M20.5 51v3M20.5 56v6M21.5 9v3M21.5 29v1M21.5 39v6M21.5 60v2M22.5 0v2M22.5 14v2M22.5 46v2M22.5 56v2M22.5 61v3M23.5 13v1M24.5 3v1M24.5 47v1M25.5 40v8M27.5 11v12M27.5 31v3M28.5 0v2M28.5 22v1M28.5 28v1M28.5 36v16M28.5 63v1M29.5 30v2M29.5 52v4M30.5 20v22M31.5 46v1M31.5 56v1M31.5 58v1M32.5 34v4M33.5 21v2M33.5 31v6M34.5 42v2M34.5 47v8M35.5 15v4M35.5 37v4M35.5 50v5M36.5 0v2M36.5 19v9M36.5 36v7M36.5 58v1M36.5 61v3M37.5 16v8M37.5 39v7M37.5 48v6M39.5 13v1M39.5 20v4M39.5 27v6M39.5 38v2M39.5 44v5M39.5 56v2M40.5 2v1M41.5 18v8M41.5 40v1M42.5 20v5M42.5 29v1M42.5 50v4M43.5 7v6M43.5 34v1M43.5 39v5M43.5 55v3M44.5 31v7M44.5 48v1M45.5 9v6M45.5 28v6M45.5 39v3M46.5 24v2M47.5 25v2M47.5 41v10M48.5 22v1M48.5 28v1M49.5 1v9M49.5 51v1M50.5 51v2M51.5 13v1M52.5 5v4M52.5 32v5M52.5 49v1M53.5 34v3M54.5 16v2M55.5 0v8M55.5 10v1M55.5 22v5M55.5 41v4M56.5 0v11M56.5 13v2M56.5 49v6M56.5 62v2M57.5 0v1M57.5 31v7M57.5 43v3M57.5 49v2M58.5 33v5M58.5 47v8M59.5 2v2M59.5 27v1M59.5 40v4M59.5 52v9M60.5 2v2M60.5 9v2M60.5 29v3M60.5 33v19M61.5 14v2M62.5 18v6M62.5 33v4M63.5 8v6M63.5 54v1M63.5 57v2M64.5 29v3M64.5 53v7M65.5 34v9M66.5 10v11M67.5 2v3M67.5 46v5M68.5 35v16M69.5 0v2M69.5 41v12M69.5 56v1M69.5 60v4M70.5 38v7M71.5 17v1M72.5 27v14M72.5 44v4M74.5 49v4M75.5 0v3M75.5 5v10M75.5 40v6M75.5 55v2M75.5 62v2M76.5 10v7M76.5 52v7M77.5 21v13M77.5 35v3M77.5 51v6M78.5 9v1M78.5 11v1M78.5 14v5M78.5 26v11M78.5 50v3M79.5 25v3M79.5 45v4M80.5 37v3M80.5 51v2M81.5 0v1M81.5 49v1M82.5 3v15M82.5 37v3M82.5 52v3M83.5 13v5M83.5 36v1M84.5 3v2M84.5 20v1M84.5 30v1M84.5 37v1M84.5 40v9M85.5 1v12M85.5 33v2M86.5 0v3M86.5 31v9M86.5 61v3M87.5 0v7M87.5 17v2M87.5 20v1M87.5 24v1M87.5 57v2M87.5 63v1M88.5 19v1M88.5 33v3M88.5 44v7M90.5 3v1M91.5 4v1M91.5 40v5M92.5 0v3M92.5 61v3M93.5 35v3M93.5 43v9M94.5 4v1M94.5 20v2M94.5 58v2M95.5 11v1M96.5 0v14M96.5 55v9M97.5 6v7M97.5 30v2M97.5 35v3M98.5 6v1M98.5 44v1M99.5 0v15M99.5 63v1M100.5 7v4M101.5 9v4M101.5 25v2M102.5 5v1M102.5 30v1M102.5 52v5M103.5 22v10M104.5 11v5M104.5 23v4M104.5 48v3M105.5 35v8M106.5 7v10M106.5 31v2M106.5 42v3M106.5 54v3M107.5 11v2M107.5 18v6M107.5 29v2M108.5 20v13M108.5 45v6M108.5 58v1M109.5 6v7M109.5 18v1M110.5 15v3M110.5 19v4M110.5 50v2M110.5 57v5M111.5 0v4M111.5 5v10M111.5 44v5M111.5 54v3M111.5 59v5M112.5 0v1M112.5 7v1M112.5 62v2M113.5 7v15M113.5 29v10M113.5 46v1M113.5 53v2M114.5 6v3M114.5 11v1M114.5 32v5M114.5 38v2M114.5 42v2M114.5 47v16M115.5 34v1M115.5 46v1M115.5 48v2M115.5 61v3M116.5 7v6M116.5 14v2M116.5 55v4M117.5 27v5M118.5 17v2M118.5 33v4M118.5 41v1M118.5 50v2M119.5 6v1M119.5 19v4M119.5 41v2M120.5 0v8M120.5 55v1M120.5 60v4M121.5 14v1M121.5 17v4M121.5 28v2M121.5 44v5M122.5 23v8M123.5 7v15M123.5 45v3M124.5 17v6M124.5 39v5M125.5 4v2M125.5 24v3M125.5 58v2M126.5 43v5M127.5 0v12M127.5 38v1M127.5 51v3M127.5 63v1M128.5 23v4M128.5 35v4M128.5 47v3M129.5 21v3M129.5 46v2M129.5 50v2"/><path stroke-opacity="0.17" d="M0.5 0v7M0.5 15v2M0.5 18v1M0.5 35v5M0.5 45v5M0.5 57v7M1.5 8v5M3.5 12v11M3.5 40v11M4.5 0v30M4.5 32v6M4.5 42v1M4.5 47v17M5.5 23v1M5.5 37v16M5.5 54v4M6.5 1v1M6.5 6v11M6.5 49v5M6.5 56v8M7.5 12v2M7.5 41v4M7.5 54v2M7.5 62v2M8.5 4v1M8.5 16v9M9.5 0v5M9.5 13v5M9.5 58v6M10.5 0v12M10.5 30v2M10.5 33v4M10.5 49v2M10.5 60v4M11.5 11v12M11.5 27v3M11.5 31v2M11.5 49v9M12.5 13v1M12.5 32v2M12.5 51v1M12.5 56v1M13.5 1v2M13.5 27v1M13.5 31v10M13.5 58v2M14.5 0v2M14.5 15v3M14.5 30v6M14.5 39v1M14.5 44v9M15.5 9v1M16.5 0v2M16.5 8v5M16.5 29v9M16.5 50v1M16.5 52v1M16.5 61v3M17.5 0v2M17.5 19v2M17.5 29v5M17.5 47v2M17.5 58v6M18.5 0v1M18.5 18v1M18.5 28v13M18.5 56v8M19.5 2v6M19.5 22v3M19.5 27v17M19.5 45v4M20.5 0v11M20.5 23v2M20.5 28v5M20.5 48v3M21.5 0v7M21.5 17v12M21.5 38v1M21.5 54v1M21.5 62v2M22.5 2v2M22.5 16v2M22.5 27v7M22.5 58v3M23.5 3v3M23.5 28v6M23.5 48v4M24.5 0v2M24.5 15v5M24.5 48v5M24.5 59v5M25.5 12v16M25.5 29v9M26.5 13v5M26.5 28v2M26.5 57v1M27.5 28v3M27.5 34v3M27.5 38v1M27.5 53v4M28.5 5v16M28.5 24v4M28.5 29v6M29.5 22v2M29.5 46v6M29.5 56v4M30.5 0v15M30.5 17v3M30.5 42v6M30.5 56v8M31.5 17v3M32.5 2v7M32.5 12v1M32.5 26v1M32.5 33v1M32.5 38v20M33.5 0v21M33.5 29v2M33.5 41v2M34.5 0v17M34.5 44v2M34.5 55v2M34.5 58v3M35.5 3v12M35.5 55v3M36.5 4v11M36.5 28v2M36.5 54v4M36.5 59v2M37.5 55v6M38.5 14v3M38.5 34v5M38.5 45v2M39.5 0v8M39.5 24v3M39.5 58v6M40.5 4v15M40.5 41v4M40.5 49v11M40.5 61v2M41.5 0v1M41.5 3v8M41.5 13v5M41.5 29v11M41.5 56v8M42.5 3v8M42.5 19v1M42.5 25v4M42.5 54v2M43.5 13v1M43.5 21v13M43.5 53v2M44.5 30v1M44.5 55v9M45.5 0v1M45.5 20v8M45.5 59v5M46.5 2v1M46.5 26v21M47.5 0v14M47.5 27v4M47.5 38v3M47.5 51v13M48.5 0v20M48.5 34v3M48.5 42v4M48.5 51v5M48.5 58v6M49.5 27v1M49.5 52v1M50.5 41v2M50.5 45v6M51.5 0v2M51.5 14v15M51.5 33v10M51.5 46v2M51.5 63v1M52.5 0v5M52.5 30v2M52.5 37v2M52.5 50v1M52.5 59v1M52.5 62v2M53.5 12v1M53.5 19v13M53.5 43v9M54.5 11v5M54.5 44v1M55.5 11v6M55.5 27v14M55.5 46v17M56.5 46v3M56.5 58v4M57.5 1v2M57.5 51v3M58.5 0v3M58.5 21v5M58.5 41v1M58.5 58v6M59.5 35v1M59.5 61v1M60.5 0v2M60.5 22v1M60.5 24v1M60.5 58v6M61.5 0v2M61.5 3v11M61.5 19v6M61.5 31v7M61.5 39v19M61.5 61v3M62.5 3v1M62.5 9v9M62.5 31v2M62.5 47v5M62.5 53v1M62.5 57v4M63.5 0v7M63.5 16v22M63.5 45v5M63.5 56v1M63.5 63v1M64.5 23v6M64.5 32v12M64.5 48v5M64.5 60v2M65.5 32v2M66.5 2v1M66.5 26v1M66.5 28v2M66.5 46v10M67.5 0v2M67.5 10v4M67.5 51v2M68.5 0v3M68.5 9v18M68.5 51v13M69.5 20v4M69.5 26v5M69.5 54v2M70.5 28v1M70.5 35v3M70.5 54v3M71.5 50v10M72.5 0v10M72.5 63v1M73.5 25v4M73.5 33v10M74.5 0v7M74.5 29v20M75.5 15v6M75.5 60v2M76.5 8v2M76.5 17v6M76.5 47v2M77.5 10v4M77.5 17v4M77.5 47v2M78.5 0v3M78.5 39v1M78.5 53v11M79.5 14v4M79.5 19v6M79.5 31v7M79.5 40v5M79.5 49v2M79.5 53v10M80.5 12v4M80.5 18v16M80.5 42v9M81.5 26v13M81.5 61v3M82.5 20v4M82.5 32v3M82.5 40v1M82.5 45v3M82.5 60v3M83.5 0v11M83.5 18v10M83.5 37v13M83.5 62v2M84.5 16v4M84.5 57v1M84.5 60v4M85.5 13v1M85.5 35v2M86.5 3v7M86.5 12v4M86.5 22v9M86.5 40v8M87.5 8v1M87.5 12v5M87.5 25v17M88.5 2v4M88.5 11v6M88.5 29v1M88.5 32v1M88.5 36v7M88.5 53v2M89.5 0v5M89.5 6v7M89.5 20v1M89.5 31v9M89.5 48v16M90.5 7v1M90.5 15v2M90.5 41v5M90.5 49v9M91.5 0v2M91.5 17v8M91.5 49v8M91.5 63v1M92.5 16v4M93.5 0v3M93.5 11v16M93.5 34v1M93.5 60v4M94.5 0v1M94.5 12v4M94.5 50v3M94.5 60v4M95.5 29v14M95.5 59v5M96.5 15v1M96.5 27v5M96.5 41v1M96.5 44v1M97.5 16v1M97.5 27v3M97.5 32v2M97.5 43v6M98.5 8v13M98.5 26v3M99.5 18v3M99.5 29v2M99.5 55v2M100.5 0v1M100.5 11v10M100.5 41v2M100.5 44v4M100.5 56v8M101.5 15v6M101.5 27v9M101.5 47v9M101.5 59v1M102.5 20v10M102.5 39v6M103.5 0v1M103.5 32v16M103.5 49v5M103.5 58v6M104.5 27v16M104.5 59v3M105.5 0v7M105.5 22v6M105.5 55v2M105.5 62v2M106.5 18v5M107.5 2v4M107.5 25v1M107.5 38v14M107.5 53v4M108.5 33v6M108.5 57v1M109.5 25v1M109.5 28v1M109.5 52v5M109.5 63v1M110.5 0v2M110.5 18v1M110.5 23v23M110.5 48v2M110.5 56v1M110.5 62v2M111.5 15v14M111.5 40v4M111.5 57v2M112.5 8v1M112.5 37v7M113.5 22v1M113.5 24v3M113.5 28v1M113.5 49v4M114.5 0v6M114.5 14v5M114.5 22v10M114.5 37v1M114.5 40v1M114.5 63v1M115.5 1v4M115.5 24v5M115.5 35v11M115.5 59v2M116.5 13v1M116.5 62v1M117.5 0v5M117.5 18v1M117.5 21v6M117.5 35v8M117.5 59v5M118.5 0v2M118.5 23v3M118.5 55v3M118.5 60v4M119.5 12v2M119.5 23v7M119.5 59v3M120.5 11v22M120.5 43v2M120.5 52v3M120.5 56v4M121.5 0v9M121.5 15v2M121.5 31v1M122.5 7v2M122.5 42v10M122.5 59v3M123.5 0v6M123.5 24v3M123.5 61v3M124.5 0v1M124.5 11v6M124.5 44v3M124.5 59v2M124.5 63v1M125.5 13v6M125.5 29v5M125.5 38v9M126.5 20v3M127.5 12v11M127.5 33v4M128.5 0v3M128.5 39v6M128.5 54v10M129.5 24v7M129.5 54v3"/></g>
<pattern id="nzF" patternUnits="userSpaceOnUse" x="0" y="0" width="196" height="198"><use href="#ntF"/></pattern>
<pattern id="nzM" patternUnits="userSpaceOnUse" x="0" y="0" width="196" height="198" patternTransform="translate(13 29) skewX(-6) scale(1 2.3)"><use href="#ntF"/></pattern>
<pattern id="nzS" patternUnits="userSpaceOnUse" x="0" y="0" width="169" height="192" patternTransform="translate(37 11) skewX(-9)"><use href="#ntS"/></pattern>
<pattern id="nzD" patternUnits="userSpaceOnUse" x="0" y="0" width="169" height="192" patternTransform="translate(91 77) skewX(-9)"><use href="#ntS"/></pattern>
<filter id="thr" filterUnits="userSpaceOnUse" x="1000" y="840" width="320" height="200" color-interpolation-filters="sRGB">
  <feComponentTransfer><feFuncA type="discrete" tableValues="0 0 1 1 1 1 1 1 1 1"/></feComponentTransfer>
</filter>
<mask id="dkm" maskUnits="userSpaceOnUse" x="1000" y="840" width="320" height="200">
  <path d="M1050 890 L1290 905 L1250 1000 L1150 1000 L1070 950Z" fill="rgb(115,115,115)" filter="url(#bl18)"/>
  <path d="M1066 871 L1130 880 L1195 889 L1285 899 L1272 936 L1225 950 L1160 936 L1110 916 L1080 896Z" fill="#fff" filter="url(#bl6)"/>
</mask>
<pattern id="nzB" patternUnits="userSpaceOnUse" x="0" y="0" width="196" height="198" patternTransform="translate(101 57) skewX(-6) scale(1 2.3)"><use href="#ntF"/></pattern>
<filter id="thr2" filterUnits="userSpaceOnUse" x="79" y="620" width="1234" height="690" color-interpolation-filters="sRGB">
  <feComponentTransfer><feFuncA type="discrete" tableValues="0 0 0 0 0 0 0 1 1 1"/></feComponentTransfer>
</filter>
<mask id="belt" maskUnits="userSpaceOnUse" x="79" y="620" width="1234" height="690">
  <path d="M170 905 L420 925 L690 1000 L960 1040" fill="none" stroke="rgb(230,230,230)" stroke-width="150" stroke-linecap="round" stroke-linejoin="round" filter="url(#bl40)"/>
</mask>
<filter id="cm" filterUnits="userSpaceOnUse" x="79" y="620" width="1234" height="690" color-interpolation-filters="sRGB">
  <feComponentTransfer>
    <feFuncR type="table" tableValues="0 0 0 0 0 0 0 0 0 0 0 0 0 0 0 0 0 0 0 0 0 0 0 0 0 0 0 0 0 0 0 0 0 0 0 0 0 0 0 0 0 0.1 0.2 0.3 0.4 0.5 0.6 0.7 0.8 0.9 1"/>
    <feFuncG type="table" tableValues="0 0 0 0 0 0 0 0 0 0 0 0 0 0 0 0 0 0 0 0 0 0 0 0.02 0.05 0.09 0.13 0.16 0.2 0.24 0.27 0.31 0.35 0.38 0.42 0.45 0.49 0.53 0.56 0.6 0.64 0.67 0.71 0.75 0.78 0.82 0.85 0.89 0.93 0.96 1"/>
    <feFuncB type="table" tableValues="0 0.03 0.06 0.08 0.11 0.14 0.17 0.19 0.22 0.25 0.28 0.31 0.33 0.36 0.39 0.42 0.44 0.47 0.5 0.53 0.56 0.58 0.61 0.64 0.67 0.69 0.72 0.75 0.78 0.81 0.83 0.86 0.89 0.92 0.94 0.97 1 1 1 1 1 1 1 1 1 1 1 1 1 1 1"/>
  </feComponentTransfer>
</filter>

</defs>
<rect width="1480" height="1384" fill="#fff"/>
<rect x="79" y="75" width="1234" height="1233.5" fill="#000"/>
<g clip-path="url(#disk)"><g clip-path="url(#dclip)"><g filter="url(#cm)"><rect x="70" y="610" width="1260" height="720" fill="url(#limb)"/><path d="M90 600 L520 685 L502 812 L90 830Z" fill="rgb(207,207,207)" filter="url(#bl18)"/><path d="M1005 762 L1300 822 L1300 896 L1005 868Z" fill="rgb(209,209,209)" filter="url(#bl6)"/><ellipse cx="830" cy="885" rx="250" ry="105" fill="rgb(219,219,219)" filter="url(#bl40)"/><path d="M1066 871 L1130 880 L1195 889 L1285 899 L1272 936 L1225 950 L1160 936 L1110 916 L1080 896Z" fill="rgb(173,173,173)" filter="url(#bl6)"/><path d="M700 850 L1003 815 L1000 880 L968 932 L900 957 L800 962 L712 942 L676 905Z" fill="rgb(237,237,237)" filter="url(#bl18)"/><path d="M490 698 L700 752 L1014 775 L1017 880 L992 916 L940 936 L800 941 L724 928 L678 912 L635 893 L579 863 L505 825 L489 812Z" fill="rgb(245,245,245)" filter="url(#bl10)"/><path d="M535 728 L625 748 L615 815 L545 790Z" fill="rgb(255,255,255)" filter="url(#bl10)"/><path d="M630 775 L745 790 L720 880 L650 860Z" fill="rgb(255,255,255)" filter="url(#bl10)"/><path d="M760 770 L1000 795 L1000 812 L760 835Z" fill="rgb(255,255,255)" filter="url(#bl10)"/><path d="M746 830 L846 815 L925 788 L1005 796 L993 836 L975 878 L942 903 L897 917 L797 922 L717 903 L730 865Z" fill="rgb(255,255,255)" filter="url(#bl6)"/><path d="M500 716 L522 720 L509 806 L491 812Z" fill="rgb(255,255,255)" filter="url(#bl3)"/><path d="M1000 805 L1012 808 L1004 895 L992 900Z" fill="rgb(255,255,255)" filter="url(#bl3)"/><g mask="url(#nstr)"><g mask="url(#mN2)"><rect x="70" y="600" width="1260" height="720" fill="url(#nzF)"/></g><g mask="url(#mT2)"><g mask="url(#mN1)"><rect x="70" y="600" width="1260" height="720" fill="url(#nzM)"/></g></g><g mask="url(#mT1)"><rect x="70" y="600" width="1260" height="720" fill="url(#nzS)"/></g><g mask="url(#belt)"><rect x="79" y="620" width="1234" height="690" fill="url(#nzB)" filter="url(#thr2)"/></g></g><g mask="url(#dkm)"><rect x="1000" y="840" width="320" height="200" fill="url(#nzD)" filter="url(#thr)"/></g></g></g></g>
<g clip-path="url(#box)"><g fill="none" stroke="#fff" stroke-width="3.4" stroke-dasharray="3.4 7.63">
<path d="M1311.9 691.7 A616.3 616.3 0 1 0 79.3 691.7 A616.3 616.3 0 1 0 1311.9 691.7"/>
<path d="M1207.4 691.7 A511.8 511.8 0 1 0 183.8 691.7 A511.8 511.8 0 1 0 1207.4 691.7"/>
<path d="M1088.8 691.7 A393.2 393.2 0 1 0 302.4 691.7 A393.2 393.2 0 1 0 1088.8 691.7"/>
<path d="M961.7 691.7 A266.1 266.1 0 1 0 429.5 691.7 A266.1 266.1 0 1 0 961.7 691.7"/>
<path d="M829.7 691.7 A134.1 134.1 0 1 0 561.5 691.7 A134.1 134.1 0 1 0 829.7 691.7"/>
<path d="M718.5 691.7 A22.9 22.9 0 1 0 672.7 691.7 A22.9 22.9 0 1 0 718.5 691.7" stroke-dasharray="3.4 2.6" stroke-dashoffset="1.7"/>
<g stroke-dashoffset="0.7">
<path d="M695.6 691.7 L1312.1 691.7"/>
<path d="M695.6 691.7 L1291.09 532.14"/>
<path d="M695.6 691.7 L1229.5 383.45"/>
<path d="M695.6 691.7 L1131.53 255.77"/>
<path d="M695.6 691.7 L1003.85 157.8"/>
<path d="M695.6 691.7 L855.16 96.21"/>
<path d="M695.6 691.7 L695.6 75.2"/>
<path d="M695.6 691.7 L536.04 96.21"/>
<path d="M695.6 691.7 L387.35 157.8"/>
<path d="M695.6 691.7 L259.67 255.77"/>
<path d="M695.6 691.7 L161.7 383.45"/>
<path d="M695.6 691.7 L100.11 532.14"/>
<path d="M695.6 691.7 L79.1 691.7"/>
<path d="M695.6 691.7 L100.11 851.26"/>
<path d="M695.6 691.7 L161.7 999.95"/>
<path d="M695.6 691.7 L259.67 1127.63"/>
<path d="M695.6 691.7 L387.35 1225.6"/>
<path d="M695.6 691.7 L536.04 1287.19"/>
<path d="M695.6 691.7 L695.6 1308.2"/>
<path d="M695.6 691.7 L855.16 1287.19"/>
<path d="M695.6 691.7 L1003.85 1225.6"/>
<path d="M695.6 691.7 L1131.53 1127.63"/>
<path d="M695.6 691.7 L1229.5 999.95"/>
<path d="M695.6 691.7 L1291.09 851.26"/>
</g></g>
<circle cx="695.6" cy="691.7" r="11.8" fill="none" stroke="#fff" stroke-width="2.8"/>
<circle cx="695.6" cy="691.7" r="2" fill="#fff"/>
</g>
<path d="M695.7 692.7 V1308.5" stroke="#d63f12" stroke-width="4.4" fill="none"/>
<path d="M415.48 615.28 L468.12 629.38" stroke="#ffffff" stroke-width="3.4" fill="none"/><path d="M490.8 636.7 L462.07 644.22 L469.68 615.82 Z" fill="#ffffff"/>
<path d="M516.24 510.72 L546.08 540.56" stroke="#d9d9d9" stroke-width="2.8" fill="none"/><path d="M562.2 558.1 L533.56 550.25 L554.35 529.46 Z" fill="#d9d9d9"/>
<path d="M595.65 518.26 L603 530.99" stroke="#b4b4b4" stroke-width="1.6" fill="none"/><path d="M614.9 551.6 L589.27 536.61 L614.73 521.91 Z" fill="#8c8c8c"/>
<path d="M695.9 908 V936" stroke="#c8c8c8" stroke-width="1.8" fill="none"/>
<path d="M696.4 882.6 L710.9 907.6 L682 907.6 Z" fill="#bebebe"/>
<g opacity="0.999">
<text x="693.8" y="54.7" font-size="50" text-anchor="middle">24:00</text>
<text x="694.5" y="1362.2" font-size="50" text-anchor="middle">12:00</text>
<text transform="translate(56.6 691.6) rotate(-90)" font-size="50" text-anchor="middle">06:00</text>
<text transform="translate(1330.2 687) rotate(90)" font-size="50" text-anchor="middle">18:00</text>
</g>
<rect x="1338.3" y="1000.2" width="47.5" height="307.2" fill="url(#cb)" stroke="#000" stroke-width="2"/>
<path d="M1338.3 1307.4h5.5 M1385.8 1307.4h-5.5 M1338.3 1276.57h2.8 M1385.8 1276.57h-2.8 M1338.3 1258.54h2.8 M1385.8 1258.54h-2.8 M1338.3 1245.75h2.8 M1385.8 1245.75h-2.8 M1338.3 1235.83h2.8 M1385.8 1235.83h-2.8 M1338.3 1227.72h2.8 M1385.8 1227.72h-2.8 M1338.3 1220.86h2.8 M1385.8 1220.86h-2.8 M1338.3 1214.92h2.8 M1385.8 1214.92h-2.8 M1338.3 1209.69h2.8 M1385.8 1209.69h-2.8 M1338.3 1205h5.5 M1385.8 1205h-5.5 M1338.3 1174.17h2.8 M1385.8 1174.17h-2.8 M1338.3 1156.14h2.8 M1385.8 1156.14h-2.8 M1338.3 1143.35h2.8 M1385.8 1143.35h-2.8 M1338.3 1133.43h2.8 M1385.8 1133.43h-2.8 M1338.3 1125.32h2.8 M1385.8 1125.32h-2.8 M1338.3 1118.46h2.8 M1385.8 1118.46h-2.8 M1338.3 1112.52h2.8 M1385.8 1112.52h-2.8 M1338.3 1107.29h2.8 M1385.8 1107.29h-2.8 M1338.3 1102.6h5.5 M1385.8 1102.6h-5.5 M1338.3 1071.77h2.8 M1385.8 1071.77h-2.8 M1338.3 1053.74h2.8 M1385.8 1053.74h-2.8 M1338.3 1040.95h2.8 M1385.8 1040.95h-2.8 M1338.3 1031.03h2.8 M1385.8 1031.03h-2.8 M1338.3 1022.92h2.8 M1385.8 1022.92h-2.8 M1338.3 1016.06h2.8 M1385.8 1016.06h-2.8 M1338.3 1010.12h2.8 M1385.8 1010.12h-2.8 M1338.3 1004.89h2.8 M1385.8 1004.89h-2.8 M1338.3 1000.2v4.2 M1340.2 1000.2v2.2 M1342.1 1000.2v2.2 M1344 1000.2v2.2 M1345.9 1000.2v2.2 M1347.8 1000.2v4.2 M1349.7 1000.2v2.2 M1351.6 1000.2v2.2 M1353.5 1000.2v2.2 M1355.4 1000.2v2.2 M1357.3 1000.2v4.2 M1359.2 1000.2v2.2 M1361.1 1000.2v2.2 M1363 1000.2v2.2 M1364.9 1000.2v2.2 M1366.8 1000.2v4.2 M1368.7 1000.2v2.2 M1370.6 1000.2v2.2 M1372.5 1000.2v2.2 M1374.4 1000.2v2.2 M1376.3 1000.2v4.2 M1378.2 1000.2v2.2 M1380.1 1000.2v2.2 M1382 1000.2v2.2 M1383.9 1000.2v2.2 M1385.8 1000.2v4.2" stroke="#000" stroke-width="1.3" fill="none"/>
<g opacity="0.999">
<text x="1315.6" y="984.9" font-size="38">kR H<tspan font-size="15.8" dy="4.8" dx="-0.6">2</tspan></text>
<text x="1394.7" y="1016.7" font-size="29">1000</text>
<text x="1394.7" y="1113" font-size="29">100</text>
<text x="1394.7" y="1215.3" font-size="29">10</text>
<text x="1394.7" y="1307.7" font-size="29">1</text>
</g>
</svg></body></html>
